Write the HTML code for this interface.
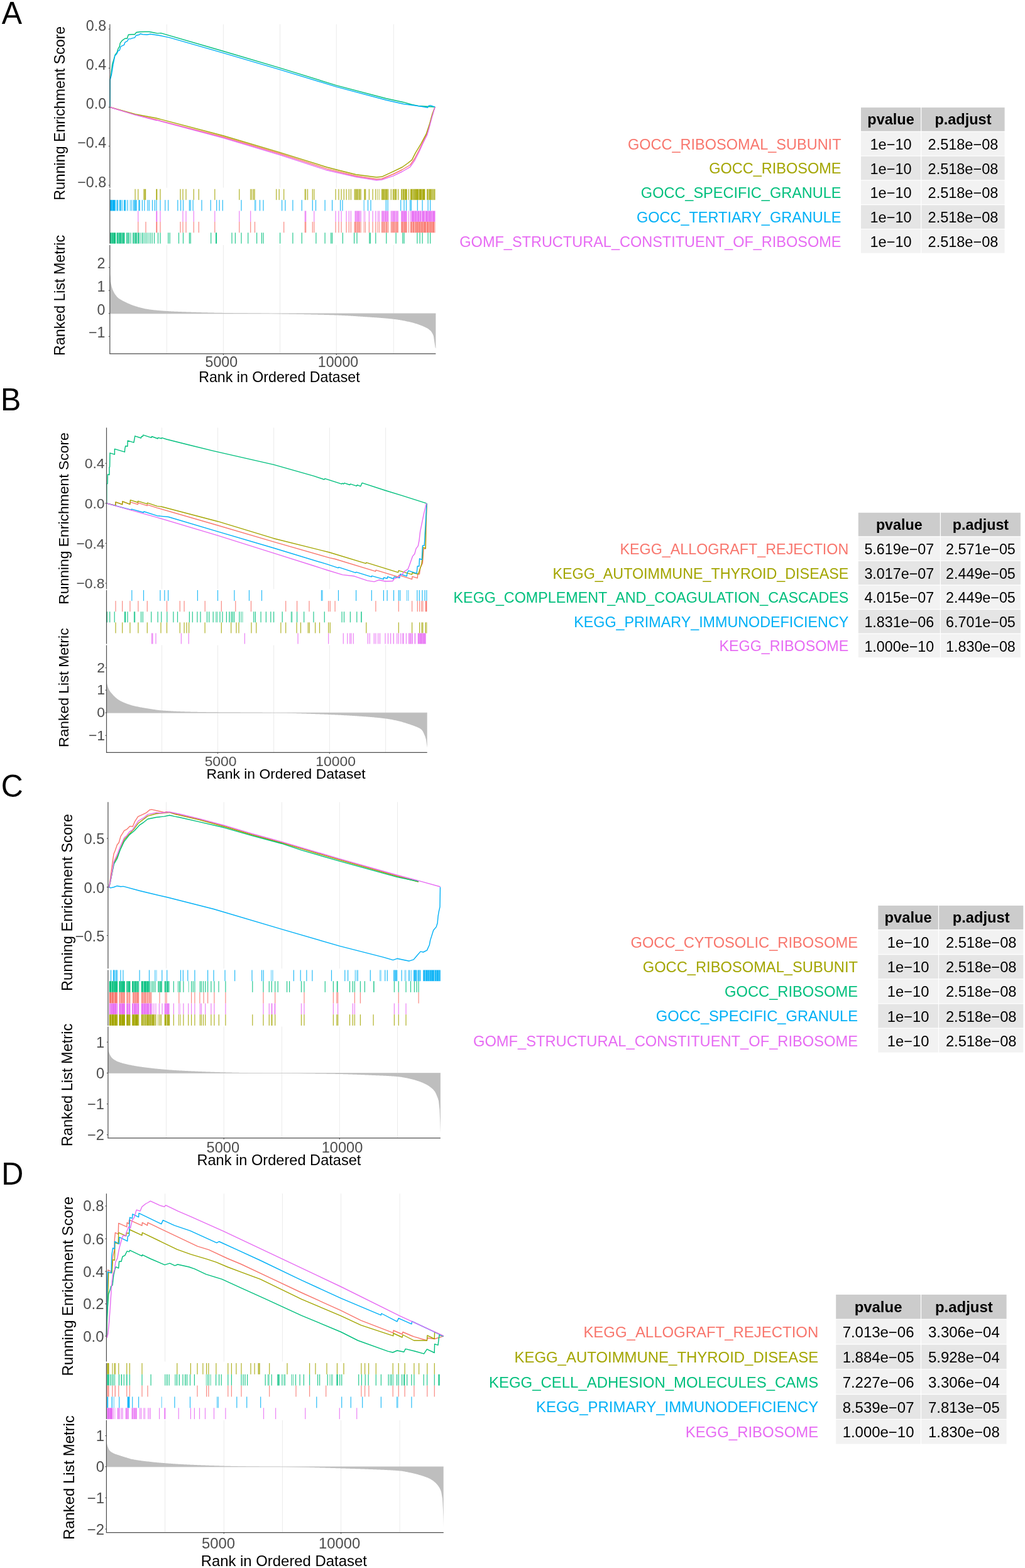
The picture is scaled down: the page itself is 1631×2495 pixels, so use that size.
<!DOCTYPE html>
<html><head><meta charset="utf-8"><title>GSEA plots</title>
<style>html,body{margin:0;padding:0;background:#fff;}svg{display:block;}text{font-family:'Liberation Sans', Arial, Helvetica, sans-serif;}</style></head><body>
<svg width="1631" height="2495" viewBox="0 0 1631 2495">
<rect x="0" y="0" width="1631" height="2495" fill="#fff"/>
<g>
<text x="0" y="0" font-size="48.5" fill="#000" text-anchor="start" transform="translate(2.8,37.5) scale(1,1.03)">A</text>
<line x1="265.4" y1="38.6" x2="265.4" y2="298.7" stroke="#EBEBEB" stroke-width="1"/>
<line x1="355.4" y1="38.6" x2="355.4" y2="298.7" stroke="#EBEBEB" stroke-width="1"/>
<line x1="445.6" y1="38.6" x2="445.6" y2="298.7" stroke="#EBEBEB" stroke-width="1"/>
<line x1="535.3" y1="38.6" x2="535.3" y2="298.7" stroke="#EBEBEB" stroke-width="1"/>
<line x1="626.3" y1="38.6" x2="626.3" y2="298.7" stroke="#EBEBEB" stroke-width="1"/>
<polyline points="174.8,170.5 215.2,182.5 248.7,190.5 355.5,218 445.6,244.5 520,268.6 566.5,280 599,285 607.5,284.5 625.8,277 640,270 652.7,262.5 660,252 666.8,239 673,226 679.6,213 686.6,187 692,170.5" fill="none" stroke="#F8766D" stroke-width="1.4" stroke-linejoin="round"/>
<polyline points="174.8,170.5 215.2,181.6 248.7,188 355.5,216 445.6,242.6 520,266 535.3,270 566.5,277.7 599,282 607.5,281.3 625.8,272.8 640,266 648.5,260 655.5,254.4 661.2,243.1 669.7,229 678.1,213.4 683.8,196.4 688,180.9 692,170.5" fill="none" stroke="#A3A500" stroke-width="1.4" stroke-linejoin="round"/>
<polyline points="174.8,170.5 175,127.1 176.7,119 178.7,102.2 180.8,95.5 183.1,87.4 186.1,83.4 188.1,77.3 190.2,74 191.2,68.6 194.2,64.6 198.9,61.2 202.3,61.2 204.3,55.2 209.7,54.8 214.4,54.8 217,51.5 222.4,50.8 230.5,50.5 237.2,50.5 243.9,51.8 250.6,53.1 256,52.6 355.5,81.5 445.6,108.1 535.2,135.9 614.6,156.8 642.2,162.7 655.5,166.5 665.6,168.5 692.3,170.3" fill="none" stroke="#00BF7D" stroke-width="1.4" stroke-linejoin="round"/>
<polyline points="174.8,170.5 175,127.7 177.4,119 180.1,102.2 182.8,88.8 185.5,86.1 188.1,80.7 190.2,80 192.2,74 194.9,72.6 197.6,71.3 198.9,67.3 202.9,65.2 204.3,61.9 207.6,61.9 210.3,60.9 214.4,59.9 216.4,56.5 221.7,55.2 223.1,53.8 227.1,54.8 233.8,55.2 239.2,54.2 254,56.5 270,59.9 355.5,84.3 445.6,110.8 535.2,138.1 614.6,159.3 642.2,165.5 655.5,167.2 670,169.2 680.6,171.2 682,168.5 684.8,167.7 692.3,170.3" fill="none" stroke="#00B0F6" stroke-width="1.4" stroke-linejoin="round"/>
<polyline points="174.8,170.5 215.2,182.8 248.7,191.6 250,191.4 355.5,219.5 445.6,246.5 520,270.8 566.5,281.5 599,286.7 607.5,286 625.8,279.9 640,273 652.7,265.7 660,255 666.8,241.7 673,228 679.6,214.8 683,203 686.6,189.4 692,170.5" fill="none" stroke="#E76BF3" stroke-width="1.4" stroke-linejoin="round"/>
<line x1="174.8" y1="38.6" x2="174.8" y2="298.7" stroke="#4D4D4D" stroke-width="1.2"/>
<line x1="172.8" y1="46.2" x2="174.8" y2="46.2" stroke="#4D4D4D" stroke-width="1.1"/>
<text x="169.1" y="49" font-size="23.2" fill="#4D4D4D" text-anchor="end">0.8</text>
<line x1="172.8" y1="108.4" x2="174.8" y2="108.4" stroke="#4D4D4D" stroke-width="1.1"/>
<text x="169.1" y="111.2" font-size="23.2" fill="#4D4D4D" text-anchor="end">0.4</text>
<line x1="172.8" y1="170.6" x2="174.8" y2="170.6" stroke="#4D4D4D" stroke-width="1.1"/>
<text x="169.1" y="173.4" font-size="23.2" fill="#4D4D4D" text-anchor="end">0.0</text>
<line x1="172.8" y1="232.6" x2="174.8" y2="232.6" stroke="#4D4D4D" stroke-width="1.1"/>
<text x="169.1" y="235.4" font-size="23.2" fill="#4D4D4D" text-anchor="end">−0.4</text>
<line x1="172.8" y1="294.8" x2="174.8" y2="294.8" stroke="#4D4D4D" stroke-width="1.1"/>
<text x="169.1" y="297.6" font-size="23.2" fill="#4D4D4D" text-anchor="end">−0.8</text>
<rect x="214.5" y="300.8" width="1.2" height="17.36" fill="#A3A500" fill-opacity="0.85"/>
<rect x="219.2" y="300.8" width="1.2" height="17.36" fill="#A3A500" fill-opacity="0.85"/>
<rect x="228.4" y="300.8" width="1.2" height="17.36" fill="#A3A500" fill-opacity="0.85"/>
<rect x="229.6" y="300.8" width="1.2" height="17.36" fill="#A3A500" fill-opacity="0.85"/>
<rect x="231" y="300.8" width="1.2" height="17.36" fill="#A3A500" fill-opacity="0.85"/>
<rect x="248.4" y="300.8" width="1.8" height="17.36" fill="#A3A500" fill-opacity="0.97"/>
<rect x="254.4" y="300.8" width="1.2" height="17.36" fill="#A3A500" fill-opacity="0.85"/>
<rect x="286.4" y="300.8" width="1.2" height="17.36" fill="#A3A500" fill-opacity="0.85"/>
<rect x="290.4" y="300.8" width="1.2" height="17.36" fill="#A3A500" fill-opacity="0.85"/>
<rect x="295.4" y="300.8" width="1.2" height="17.36" fill="#A3A500" fill-opacity="0.85"/>
<rect x="307.7" y="300.8" width="1.2" height="17.36" fill="#A3A500" fill-opacity="0.85"/>
<rect x="315.7" y="300.8" width="1.2" height="17.36" fill="#A3A500" fill-opacity="0.85"/>
<rect x="341.2" y="300.8" width="1.2" height="17.36" fill="#A3A500" fill-opacity="0.85"/>
<rect x="380.2" y="300.8" width="1.2" height="17.36" fill="#A3A500" fill-opacity="0.85"/>
<rect x="398.1" y="300.8" width="1.2" height="17.36" fill="#A3A500" fill-opacity="0.85"/>
<rect x="400.2" y="300.8" width="1.2" height="17.36" fill="#A3A500" fill-opacity="0.85"/>
<rect x="402.8" y="300.8" width="1.2" height="17.36" fill="#A3A500" fill-opacity="0.85"/>
<rect x="404.5" y="300.8" width="1.2" height="17.36" fill="#A3A500" fill-opacity="0.85"/>
<rect x="439.1" y="300.8" width="1.2" height="17.36" fill="#A3A500" fill-opacity="0.85"/>
<rect x="443.6" y="300.8" width="1.2" height="17.36" fill="#A3A500" fill-opacity="0.85"/>
<rect x="451.1" y="300.8" width="1.2" height="17.36" fill="#A3A500" fill-opacity="0.85"/>
<rect x="484.7" y="300.8" width="2.6" height="17.36" fill="#A3A500" fill-opacity="0.76"/>
<rect x="486.08" y="300.8" width="0.89" height="17.36" fill="#fff" fill-opacity="0.29"/>
<rect x="488.9" y="300.8" width="1.2" height="17.36" fill="#A3A500" fill-opacity="0.85"/>
<rect x="496.7" y="300.8" width="1.2" height="17.36" fill="#A3A500" fill-opacity="0.85"/>
<rect x="499.2" y="300.8" width="1.2" height="17.36" fill="#A3A500" fill-opacity="0.85"/>
<rect x="533.5" y="300.8" width="1.2" height="17.36" fill="#A3A500" fill-opacity="0.85"/>
<rect x="538.4" y="300.8" width="1.2" height="17.36" fill="#A3A500" fill-opacity="0.85"/>
<rect x="542.5" y="300.8" width="1.2" height="17.36" fill="#A3A500" fill-opacity="0.85"/>
<rect x="546.7" y="300.8" width="1.2" height="17.36" fill="#A3A500" fill-opacity="0.85"/>
<rect x="550.5" y="300.8" width="1.2" height="17.36" fill="#A3A500" fill-opacity="0.85"/>
<rect x="554.7" y="300.8" width="1.2" height="17.36" fill="#A3A500" fill-opacity="0.85"/>
<rect x="557.8" y="300.8" width="1.2" height="17.36" fill="#A3A500" fill-opacity="0.85"/>
<rect x="563.6" y="300.8" width="11.3" height="17.36" fill="#A3A500" fill-opacity="0.76"/>
<rect x="565.51" y="300.8" width="0.53" height="17.36" fill="#fff" fill-opacity="0.53"/>
<rect x="567.68" y="300.8" width="0.76" height="17.36" fill="#fff" fill-opacity="0.29"/>
<rect x="570.26" y="300.8" width="0.75" height="17.36" fill="#fff" fill-opacity="0.7"/>
<rect x="572.95" y="300.8" width="0.63" height="17.36" fill="#fff" fill-opacity="0.6"/>
<rect x="579.2" y="300.8" width="3.1" height="17.36" fill="#A3A500" fill-opacity="0.76"/>
<rect x="586.8" y="300.8" width="1.2" height="17.36" fill="#A3A500" fill-opacity="0.85"/>
<rect x="592.5" y="300.8" width="1.2" height="17.36" fill="#A3A500" fill-opacity="0.85"/>
<rect x="597.2" y="300.8" width="1.2" height="17.36" fill="#A3A500" fill-opacity="0.85"/>
<rect x="600.35" y="300.8" width="1.1" height="17.36" fill="#A3A500" fill-opacity="0.69"/>
<rect x="602.92" y="300.8" width="1.1" height="17.36" fill="#A3A500" fill-opacity="0.57"/>
<rect x="607" y="300.8" width="11.3" height="17.36" fill="#A3A500" fill-opacity="0.81"/>
<rect x="608.72" y="300.8" width="0.59" height="17.36" fill="#fff" fill-opacity="0.31"/>
<rect x="611.89" y="300.8" width="0.99" height="17.36" fill="#fff" fill-opacity="0.35"/>
<rect x="616.42" y="300.8" width="0.88" height="17.36" fill="#fff" fill-opacity="0.45"/>
<rect x="621.15" y="300.8" width="1.1" height="17.36" fill="#A3A500" fill-opacity="0.57"/>
<rect x="622.62" y="300.8" width="1.1" height="17.36" fill="#A3A500" fill-opacity="0.62"/>
<rect x="625" y="300.8" width="6.3" height="17.36" fill="#A3A500" fill-opacity="0.76"/>
<rect x="627.07" y="300.8" width="0.69" height="17.36" fill="#fff" fill-opacity="0.57"/>
<rect x="633.1" y="300.8" width="1.2" height="17.36" fill="#A3A500" fill-opacity="0.85"/>
<rect x="638.2" y="300.8" width="9.6" height="17.36" fill="#A3A500" fill-opacity="0.86"/>
<rect x="639.95" y="300.8" width="0.98" height="17.36" fill="#fff" fill-opacity="0.63"/>
<rect x="643.28" y="300.8" width="0.84" height="17.36" fill="#fff" fill-opacity="0.54"/>
<rect x="649.9" y="300.8" width="1.2" height="17.36" fill="#A3A500" fill-opacity="0.85"/>
<rect x="653" y="300.8" width="23.4" height="17.36" fill="#A3A500" fill-opacity="0.92"/>
<rect x="655.82" y="300.8" width="0.67" height="17.36" fill="#fff" fill-opacity="0.79"/>
<rect x="658.41" y="300.8" width="0.75" height="17.36" fill="#fff" fill-opacity="0.67"/>
<rect x="661.19" y="300.8" width="0.79" height="17.36" fill="#fff" fill-opacity="0.27"/>
<rect x="665.82" y="300.8" width="0.96" height="17.36" fill="#fff" fill-opacity="0.57"/>
<rect x="671.35" y="300.8" width="0.69" height="17.36" fill="#fff" fill-opacity="0.63"/>
<rect x="679" y="300.8" width="13.5" height="17.36" fill="#A3A500" fill-opacity="0.81"/>
<rect x="681.45" y="300.8" width="0.77" height="17.36" fill="#fff" fill-opacity="0.71"/>
<rect x="687.03" y="300.8" width="0.78" height="17.36" fill="#fff" fill-opacity="0.62"/>
<rect x="689.53" y="300.8" width="0.92" height="17.36" fill="#fff" fill-opacity="0.61"/>
<rect x="175.2" y="318.16" width="8.7" height="17.36" fill="#00B0F6" fill-opacity="1"/>
<rect x="178.25" y="318.16" width="0.67" height="17.36" fill="#fff" fill-opacity="0.46"/>
<rect x="182.77" y="318.16" width="0.51" height="17.36" fill="#fff" fill-opacity="0.5"/>
<rect x="185.3" y="318.16" width="2.9" height="17.36" fill="#00B0F6" fill-opacity="0.86"/>
<rect x="186.59" y="318.16" width="0.54" height="17.36" fill="#fff" fill-opacity="0.67"/>
<rect x="190" y="318.16" width="2.6" height="17.36" fill="#00B0F6" fill-opacity="0.86"/>
<rect x="193.7" y="318.16" width="1.2" height="17.36" fill="#00B0F6" fill-opacity="0.85"/>
<rect x="196.9" y="318.16" width="3.5" height="17.36" fill="#00B0F6" fill-opacity="0.86"/>
<rect x="198.88" y="318.16" width="1.02" height="17.36" fill="#fff" fill-opacity="0.29"/>
<rect x="202.4" y="318.16" width="1.2" height="17.36" fill="#00B0F6" fill-opacity="0.85"/>
<rect x="206.75" y="318.16" width="1.1" height="17.36" fill="#00B0F6" fill-opacity="0.74"/>
<rect x="209.21" y="318.16" width="1.1" height="17.36" fill="#00B0F6" fill-opacity="0.84"/>
<rect x="212" y="318.16" width="5.7" height="17.36" fill="#00B0F6" fill-opacity="0.76"/>
<rect x="213.7" y="318.16" width="0.75" height="17.36" fill="#fff" fill-opacity="0.45"/>
<rect x="220.3" y="318.16" width="2.6" height="17.36" fill="#00B0F6" fill-opacity="0.76"/>
<rect x="225.8" y="318.16" width="1.2" height="17.36" fill="#00B0F6" fill-opacity="0.85"/>
<rect x="229.3" y="318.16" width="1.2" height="17.36" fill="#00B0F6" fill-opacity="0.85"/>
<rect x="233.95" y="318.16" width="1.1" height="17.36" fill="#00B0F6" fill-opacity="0.6"/>
<rect x="235.56" y="318.16" width="1.1" height="17.36" fill="#00B0F6" fill-opacity="0.63"/>
<rect x="237.24" y="318.16" width="1.1" height="17.36" fill="#00B0F6" fill-opacity="0.72"/>
<rect x="241.9" y="318.16" width="1.2" height="17.36" fill="#00B0F6" fill-opacity="0.85"/>
<rect x="245.7" y="318.16" width="1.2" height="17.36" fill="#00B0F6" fill-opacity="0.85"/>
<rect x="248.4" y="318.16" width="1.2" height="17.36" fill="#00B0F6" fill-opacity="0.85"/>
<rect x="254.4" y="318.16" width="1.2" height="17.36" fill="#00B0F6" fill-opacity="0.85"/>
<rect x="262.2" y="318.16" width="1.2" height="17.36" fill="#00B0F6" fill-opacity="0.85"/>
<rect x="267.1" y="318.16" width="1.2" height="17.36" fill="#00B0F6" fill-opacity="0.85"/>
<rect x="282.2" y="318.16" width="1.2" height="17.36" fill="#00B0F6" fill-opacity="0.85"/>
<rect x="287" y="318.16" width="1.2" height="17.36" fill="#00B0F6" fill-opacity="0.85"/>
<rect x="290.9" y="318.16" width="1.2" height="17.36" fill="#00B0F6" fill-opacity="0.85"/>
<rect x="300.8" y="318.16" width="1.2" height="17.36" fill="#00B0F6" fill-opacity="0.85"/>
<rect x="302.7" y="318.16" width="1.2" height="17.36" fill="#00B0F6" fill-opacity="0.85"/>
<rect x="306.5" y="318.16" width="1.2" height="17.36" fill="#00B0F6" fill-opacity="0.85"/>
<rect x="320.4" y="318.16" width="1.2" height="17.36" fill="#00B0F6" fill-opacity="0.85"/>
<rect x="334.6" y="318.16" width="1.2" height="17.36" fill="#00B0F6" fill-opacity="0.85"/>
<rect x="344.1" y="318.16" width="1.2" height="17.36" fill="#00B0F6" fill-opacity="0.85"/>
<rect x="348.5" y="318.16" width="1.2" height="17.36" fill="#00B0F6" fill-opacity="0.85"/>
<rect x="353.7" y="318.16" width="1.2" height="17.36" fill="#00B0F6" fill-opacity="0.85"/>
<rect x="383.4" y="318.16" width="1.2" height="17.36" fill="#00B0F6" fill-opacity="0.85"/>
<rect x="404.95" y="318.16" width="1.1" height="17.36" fill="#00B0F6" fill-opacity="0.64"/>
<rect x="406.35" y="318.16" width="1.1" height="17.36" fill="#00B0F6" fill-opacity="0.7"/>
<rect x="412.9" y="318.16" width="1.2" height="17.36" fill="#00B0F6" fill-opacity="0.85"/>
<rect x="418.4" y="318.16" width="1.2" height="17.36" fill="#00B0F6" fill-opacity="0.85"/>
<rect x="448" y="318.16" width="1.2" height="17.36" fill="#00B0F6" fill-opacity="0.85"/>
<rect x="453.3" y="318.16" width="1.2" height="17.36" fill="#00B0F6" fill-opacity="0.85"/>
<rect x="465.3" y="318.16" width="1.2" height="17.36" fill="#00B0F6" fill-opacity="0.85"/>
<rect x="479.7" y="318.16" width="1.2" height="17.36" fill="#00B0F6" fill-opacity="0.85"/>
<rect x="496.7" y="318.16" width="1.2" height="17.36" fill="#00B0F6" fill-opacity="0.85"/>
<rect x="501.9" y="318.16" width="1.2" height="17.36" fill="#00B0F6" fill-opacity="0.85"/>
<rect x="516.5" y="318.16" width="1.2" height="17.36" fill="#00B0F6" fill-opacity="0.85"/>
<rect x="528" y="318.16" width="1.2" height="17.36" fill="#00B0F6" fill-opacity="0.85"/>
<rect x="541" y="318.16" width="1.2" height="17.36" fill="#00B0F6" fill-opacity="0.85"/>
<rect x="544.4" y="318.16" width="1.2" height="17.36" fill="#00B0F6" fill-opacity="0.85"/>
<rect x="578.65" y="318.16" width="1.1" height="17.36" fill="#00B0F6" fill-opacity="0.75"/>
<rect x="584.9" y="318.16" width="1.2" height="17.36" fill="#00B0F6" fill-opacity="0.85"/>
<rect x="589.4" y="318.16" width="1.2" height="17.36" fill="#00B0F6" fill-opacity="0.85"/>
<rect x="613.7" y="318.16" width="1.2" height="17.36" fill="#00B0F6" fill-opacity="0.85"/>
<rect x="616.5" y="318.16" width="1.2" height="17.36" fill="#00B0F6" fill-opacity="0.85"/>
<rect x="637.1" y="318.16" width="1.2" height="17.36" fill="#00B0F6" fill-opacity="0.85"/>
<rect x="642.4" y="318.16" width="1.2" height="17.36" fill="#00B0F6" fill-opacity="0.85"/>
<rect x="645.9" y="318.16" width="1.2" height="17.36" fill="#00B0F6" fill-opacity="0.85"/>
<rect x="652" y="318.16" width="1.2" height="17.36" fill="#00B0F6" fill-opacity="0.85"/>
<rect x="653.8" y="318.16" width="1.2" height="17.36" fill="#00B0F6" fill-opacity="0.85"/>
<rect x="663.7" y="318.16" width="1.2" height="17.36" fill="#00B0F6" fill-opacity="0.85"/>
<rect x="671.5" y="318.16" width="1.2" height="17.36" fill="#00B0F6" fill-opacity="0.85"/>
<rect x="680.5" y="318.16" width="1.2" height="17.36" fill="#00B0F6" fill-opacity="0.85"/>
<rect x="684" y="318.16" width="1.2" height="17.36" fill="#00B0F6" fill-opacity="0.85"/>
<rect x="219.2" y="335.52" width="1.2" height="17.36" fill="#E76BF3" fill-opacity="0.85"/>
<rect x="248.4" y="335.52" width="1.8" height="17.36" fill="#E76BF3" fill-opacity="0.97"/>
<rect x="254.4" y="335.52" width="1.2" height="17.36" fill="#E76BF3" fill-opacity="0.85"/>
<rect x="290.4" y="335.52" width="1.2" height="17.36" fill="#E76BF3" fill-opacity="0.85"/>
<rect x="295.4" y="335.52" width="1.2" height="17.36" fill="#E76BF3" fill-opacity="0.85"/>
<rect x="307.7" y="335.52" width="1.2" height="17.36" fill="#E76BF3" fill-opacity="0.85"/>
<rect x="341.2" y="335.52" width="1.2" height="17.36" fill="#E76BF3" fill-opacity="0.85"/>
<rect x="380.2" y="335.52" width="1.2" height="17.36" fill="#E76BF3" fill-opacity="0.85"/>
<rect x="398.1" y="335.52" width="1.2" height="17.36" fill="#E76BF3" fill-opacity="0.85"/>
<rect x="484.7" y="335.52" width="2.6" height="17.36" fill="#E76BF3" fill-opacity="0.76"/>
<rect x="499.2" y="335.52" width="1.2" height="17.36" fill="#E76BF3" fill-opacity="0.85"/>
<rect x="533.5" y="335.52" width="1.2" height="17.36" fill="#E76BF3" fill-opacity="0.85"/>
<rect x="538.4" y="335.52" width="1.2" height="17.36" fill="#E76BF3" fill-opacity="0.85"/>
<rect x="542.5" y="335.52" width="1.2" height="17.36" fill="#E76BF3" fill-opacity="0.85"/>
<rect x="550.5" y="335.52" width="1.2" height="17.36" fill="#E76BF3" fill-opacity="0.85"/>
<rect x="554.7" y="335.52" width="1.2" height="17.36" fill="#E76BF3" fill-opacity="0.85"/>
<rect x="557.8" y="335.52" width="1.2" height="17.36" fill="#E76BF3" fill-opacity="0.85"/>
<rect x="564.5" y="335.52" width="10.4" height="17.36" fill="#E76BF3" fill-opacity="0.76"/>
<rect x="567.04" y="335.52" width="0.91" height="17.36" fill="#fff" fill-opacity="0.28"/>
<rect x="572.6" y="335.52" width="0.97" height="17.36" fill="#fff" fill-opacity="0.73"/>
<rect x="578.65" y="335.52" width="1.1" height="17.36" fill="#E76BF3" fill-opacity="0.69"/>
<rect x="580.53" y="335.52" width="1.1" height="17.36" fill="#E76BF3" fill-opacity="0.59"/>
<rect x="586.8" y="335.52" width="1.2" height="17.36" fill="#E76BF3" fill-opacity="0.85"/>
<rect x="592.5" y="335.52" width="1.2" height="17.36" fill="#E76BF3" fill-opacity="0.85"/>
<rect x="597.2" y="335.52" width="1.2" height="17.36" fill="#E76BF3" fill-opacity="0.85"/>
<rect x="600.35" y="335.52" width="1.1" height="17.36" fill="#E76BF3" fill-opacity="0.57"/>
<rect x="601.83" y="335.52" width="1.1" height="17.36" fill="#E76BF3" fill-opacity="0.62"/>
<rect x="603.43" y="335.52" width="1.1" height="17.36" fill="#E76BF3" fill-opacity="0.67"/>
<rect x="607" y="335.52" width="11.3" height="17.36" fill="#E76BF3" fill-opacity="0.81"/>
<rect x="608" y="335.52" width="0.59" height="17.36" fill="#fff" fill-opacity="0.31"/>
<rect x="611.36" y="335.52" width="0.52" height="17.36" fill="#fff" fill-opacity="0.73"/>
<rect x="615.53" y="335.52" width="0.59" height="17.36" fill="#fff" fill-opacity="0.39"/>
<rect x="621.7" y="335.52" width="12.3" height="17.36" fill="#E76BF3" fill-opacity="0.76"/>
<rect x="623.61" y="335.52" width="0.57" height="17.36" fill="#fff" fill-opacity="0.72"/>
<rect x="629.16" y="335.52" width="0.78" height="17.36" fill="#fff" fill-opacity="0.52"/>
<rect x="631.74" y="335.52" width="0.56" height="17.36" fill="#fff" fill-opacity="0.44"/>
<rect x="638.2" y="335.52" width="9.6" height="17.36" fill="#E76BF3" fill-opacity="0.86"/>
<rect x="641.27" y="335.52" width="0.6" height="17.36" fill="#fff" fill-opacity="0.26"/>
<rect x="646.7" y="335.52" width="0.82" height="17.36" fill="#fff" fill-opacity="0.33"/>
<rect x="649.9" y="335.52" width="1.2" height="17.36" fill="#E76BF3" fill-opacity="0.85"/>
<rect x="653" y="335.52" width="39.5" height="17.36" fill="#E76BF3" fill-opacity="0.92"/>
<rect x="654.07" y="335.52" width="0.82" height="17.36" fill="#fff" fill-opacity="0.79"/>
<rect x="659.41" y="335.52" width="0.92" height="17.36" fill="#fff" fill-opacity="0.39"/>
<rect x="663.11" y="335.52" width="0.6" height="17.36" fill="#fff" fill-opacity="0.67"/>
<rect x="667.07" y="335.52" width="0.97" height="17.36" fill="#fff" fill-opacity="0.43"/>
<rect x="670.32" y="335.52" width="0.99" height="17.36" fill="#fff" fill-opacity="0.79"/>
<rect x="675.79" y="335.52" width="0.98" height="17.36" fill="#fff" fill-opacity="0.7"/>
<rect x="680.86" y="335.52" width="0.64" height="17.36" fill="#fff" fill-opacity="0.53"/>
<rect x="684.24" y="335.52" width="0.52" height="17.36" fill="#fff" fill-opacity="0.27"/>
<rect x="687.24" y="335.52" width="0.66" height="17.36" fill="#fff" fill-opacity="0.63"/>
<rect x="219.2" y="352.88" width="1.2" height="17.36" fill="#F8766D" fill-opacity="0.85"/>
<rect x="231.4" y="352.88" width="1.2" height="17.36" fill="#F8766D" fill-opacity="0.85"/>
<rect x="248.4" y="352.88" width="1.8" height="17.36" fill="#F8766D" fill-opacity="0.97"/>
<rect x="254.4" y="352.88" width="1.2" height="17.36" fill="#F8766D" fill-opacity="0.85"/>
<rect x="286.4" y="352.88" width="1.2" height="17.36" fill="#F8766D" fill-opacity="0.85"/>
<rect x="290.4" y="352.88" width="1.2" height="17.36" fill="#F8766D" fill-opacity="0.85"/>
<rect x="295.4" y="352.88" width="1.2" height="17.36" fill="#F8766D" fill-opacity="0.85"/>
<rect x="307.7" y="352.88" width="1.2" height="17.36" fill="#F8766D" fill-opacity="0.85"/>
<rect x="315.7" y="352.88" width="1.2" height="17.36" fill="#F8766D" fill-opacity="0.85"/>
<rect x="341.2" y="352.88" width="1.2" height="17.36" fill="#F8766D" fill-opacity="0.85"/>
<rect x="380.2" y="352.88" width="1.2" height="17.36" fill="#F8766D" fill-opacity="0.85"/>
<rect x="398.1" y="352.88" width="1.2" height="17.36" fill="#F8766D" fill-opacity="0.85"/>
<rect x="404.9" y="352.88" width="1.2" height="17.36" fill="#F8766D" fill-opacity="0.85"/>
<rect x="451.1" y="352.88" width="1.2" height="17.36" fill="#F8766D" fill-opacity="0.85"/>
<rect x="484.7" y="352.88" width="2.6" height="17.36" fill="#F8766D" fill-opacity="0.76"/>
<rect x="496.7" y="352.88" width="1.2" height="17.36" fill="#F8766D" fill-opacity="0.85"/>
<rect x="499.2" y="352.88" width="1.2" height="17.36" fill="#F8766D" fill-opacity="0.85"/>
<rect x="533.5" y="352.88" width="1.2" height="17.36" fill="#F8766D" fill-opacity="0.85"/>
<rect x="538.4" y="352.88" width="1.2" height="17.36" fill="#F8766D" fill-opacity="0.85"/>
<rect x="542.5" y="352.88" width="1.2" height="17.36" fill="#F8766D" fill-opacity="0.85"/>
<rect x="550.5" y="352.88" width="1.2" height="17.36" fill="#F8766D" fill-opacity="0.85"/>
<rect x="554.7" y="352.88" width="1.2" height="17.36" fill="#F8766D" fill-opacity="0.85"/>
<rect x="557.8" y="352.88" width="1.2" height="17.36" fill="#F8766D" fill-opacity="0.85"/>
<rect x="563.6" y="352.88" width="11.3" height="17.36" fill="#F8766D" fill-opacity="0.76"/>
<rect x="567.07" y="352.88" width="1.07" height="17.36" fill="#fff" fill-opacity="0.45"/>
<rect x="570.41" y="352.88" width="0.64" height="17.36" fill="#fff" fill-opacity="0.36"/>
<rect x="573.27" y="352.88" width="0.87" height="17.36" fill="#fff" fill-opacity="0.75"/>
<rect x="578.65" y="352.88" width="1.1" height="17.36" fill="#F8766D" fill-opacity="0.72"/>
<rect x="580.83" y="352.88" width="1.1" height="17.36" fill="#F8766D" fill-opacity="0.83"/>
<rect x="586.8" y="352.88" width="1.2" height="17.36" fill="#F8766D" fill-opacity="0.85"/>
<rect x="592.5" y="352.88" width="1.2" height="17.36" fill="#F8766D" fill-opacity="0.85"/>
<rect x="597.2" y="352.88" width="1.2" height="17.36" fill="#F8766D" fill-opacity="0.85"/>
<rect x="600.35" y="352.88" width="1.1" height="17.36" fill="#F8766D" fill-opacity="0.78"/>
<rect x="602.84" y="352.88" width="1.1" height="17.36" fill="#F8766D" fill-opacity="0.82"/>
<rect x="607" y="352.88" width="11.3" height="17.36" fill="#F8766D" fill-opacity="0.81"/>
<rect x="609.2" y="352.88" width="0.61" height="17.36" fill="#fff" fill-opacity="0.68"/>
<rect x="612.47" y="352.88" width="0.98" height="17.36" fill="#fff" fill-opacity="0.78"/>
<rect x="616.33" y="352.88" width="0.74" height="17.36" fill="#fff" fill-opacity="0.77"/>
<rect x="621.7" y="352.88" width="12.3" height="17.36" fill="#F8766D" fill-opacity="0.76"/>
<rect x="623.13" y="352.88" width="0.58" height="17.36" fill="#fff" fill-opacity="0.33"/>
<rect x="628.37" y="352.88" width="0.98" height="17.36" fill="#fff" fill-opacity="0.33"/>
<rect x="638.2" y="352.88" width="9.6" height="17.36" fill="#F8766D" fill-opacity="0.86"/>
<rect x="641.65" y="352.88" width="0.89" height="17.36" fill="#fff" fill-opacity="0.44"/>
<rect x="645.97" y="352.88" width="0.58" height="17.36" fill="#fff" fill-opacity="0.26"/>
<rect x="649.9" y="352.88" width="1.2" height="17.36" fill="#F8766D" fill-opacity="0.85"/>
<rect x="653" y="352.88" width="39.5" height="17.36" fill="#F8766D" fill-opacity="0.92"/>
<rect x="655.62" y="352.88" width="0.82" height="17.36" fill="#fff" fill-opacity="0.76"/>
<rect x="659.46" y="352.88" width="1.02" height="17.36" fill="#fff" fill-opacity="0.7"/>
<rect x="662.72" y="352.88" width="0.65" height="17.36" fill="#fff" fill-opacity="0.41"/>
<rect x="665.71" y="352.88" width="0.85" height="17.36" fill="#fff" fill-opacity="0.39"/>
<rect x="669.53" y="352.88" width="0.58" height="17.36" fill="#fff" fill-opacity="0.75"/>
<rect x="672.85" y="352.88" width="0.77" height="17.36" fill="#fff" fill-opacity="0.57"/>
<rect x="678.29" y="352.88" width="0.75" height="17.36" fill="#fff" fill-opacity="0.75"/>
<rect x="682.3" y="352.88" width="0.82" height="17.36" fill="#fff" fill-opacity="0.54"/>
<rect x="684.68" y="352.88" width="0.76" height="17.36" fill="#fff" fill-opacity="0.35"/>
<rect x="686.96" y="352.88" width="0.98" height="17.36" fill="#fff" fill-opacity="0.34"/>
<rect x="691.1" y="352.88" width="0.94" height="17.36" fill="#fff" fill-opacity="0.56"/>
<rect x="175.2" y="370.24" width="8.8" height="17.36" fill="#00BF7D" fill-opacity="1"/>
<rect x="177.5" y="370.24" width="0.83" height="17.36" fill="#fff" fill-opacity="0.68"/>
<rect x="180.2" y="370.24" width="0.84" height="17.36" fill="#fff" fill-opacity="0.39"/>
<rect x="185.5" y="370.24" width="13" height="17.36" fill="#00BF7D" fill-opacity="0.86"/>
<rect x="188.43" y="370.24" width="0.8" height="17.36" fill="#fff" fill-opacity="0.56"/>
<rect x="193.4" y="370.24" width="1.05" height="17.36" fill="#fff" fill-opacity="0.49"/>
<rect x="201" y="370.24" width="5" height="17.36" fill="#00BF7D" fill-opacity="0.76"/>
<rect x="203.26" y="370.24" width="0.81" height="17.36" fill="#fff" fill-opacity="0.63"/>
<rect x="207.4" y="370.24" width="1.2" height="17.36" fill="#00BF7D" fill-opacity="0.85"/>
<rect x="211" y="370.24" width="11" height="17.36" fill="#00BF7D" fill-opacity="0.76"/>
<rect x="213.33" y="370.24" width="0.79" height="17.36" fill="#fff" fill-opacity="0.77"/>
<rect x="218.07" y="370.24" width="1.03" height="17.36" fill="#fff" fill-opacity="0.77"/>
<rect x="223.45" y="370.24" width="1.1" height="17.36" fill="#00BF7D" fill-opacity="0.75"/>
<rect x="225.98" y="370.24" width="1.1" height="17.36" fill="#00BF7D" fill-opacity="0.84"/>
<rect x="227.55" y="370.24" width="1.1" height="17.36" fill="#00BF7D" fill-opacity="0.59"/>
<rect x="229.48" y="370.24" width="1.1" height="17.36" fill="#00BF7D" fill-opacity="0.58"/>
<rect x="231.17" y="370.24" width="1.1" height="17.36" fill="#00BF7D" fill-opacity="0.58"/>
<rect x="233.37" y="370.24" width="1.1" height="17.36" fill="#00BF7D" fill-opacity="0.82"/>
<rect x="235.85" y="370.24" width="1.1" height="17.36" fill="#00BF7D" fill-opacity="0.6"/>
<rect x="238.4" y="370.24" width="1.2" height="17.36" fill="#00BF7D" fill-opacity="0.85"/>
<rect x="241.4" y="370.24" width="1.2" height="17.36" fill="#00BF7D" fill-opacity="0.85"/>
<rect x="244.9" y="370.24" width="1.2" height="17.36" fill="#00BF7D" fill-opacity="0.85"/>
<rect x="250.9" y="370.24" width="1.2" height="17.36" fill="#00BF7D" fill-opacity="0.85"/>
<rect x="254.4" y="370.24" width="1.2" height="17.36" fill="#00BF7D" fill-opacity="0.85"/>
<rect x="267.1" y="370.24" width="1.2" height="17.36" fill="#00BF7D" fill-opacity="0.85"/>
<rect x="269.6" y="370.24" width="1.2" height="17.36" fill="#00BF7D" fill-opacity="0.85"/>
<rect x="283.9" y="370.24" width="1.2" height="17.36" fill="#00BF7D" fill-opacity="0.85"/>
<rect x="290.9" y="370.24" width="1.2" height="17.36" fill="#00BF7D" fill-opacity="0.85"/>
<rect x="300.8" y="370.24" width="1.2" height="17.36" fill="#00BF7D" fill-opacity="0.85"/>
<rect x="302.7" y="370.24" width="1.2" height="17.36" fill="#00BF7D" fill-opacity="0.85"/>
<rect x="335.1" y="370.24" width="1.2" height="17.36" fill="#00BF7D" fill-opacity="0.85"/>
<rect x="343" y="370.24" width="1.2" height="17.36" fill="#00BF7D" fill-opacity="0.85"/>
<rect x="343.9" y="370.24" width="1.2" height="17.36" fill="#00BF7D" fill-opacity="0.85"/>
<rect x="368.4" y="370.24" width="1.2" height="17.36" fill="#00BF7D" fill-opacity="0.85"/>
<rect x="373.8" y="370.24" width="1.2" height="17.36" fill="#00BF7D" fill-opacity="0.85"/>
<rect x="383.4" y="370.24" width="1.2" height="17.36" fill="#00BF7D" fill-opacity="0.85"/>
<rect x="394.1" y="370.24" width="1.2" height="17.36" fill="#00BF7D" fill-opacity="0.85"/>
<rect x="408" y="370.24" width="1.2" height="17.36" fill="#00BF7D" fill-opacity="0.85"/>
<rect x="415.8" y="370.24" width="1.2" height="17.36" fill="#00BF7D" fill-opacity="0.85"/>
<rect x="418.4" y="370.24" width="1.2" height="17.36" fill="#00BF7D" fill-opacity="0.85"/>
<rect x="445" y="370.24" width="1.2" height="17.36" fill="#00BF7D" fill-opacity="0.85"/>
<rect x="465.3" y="370.24" width="1.2" height="17.36" fill="#00BF7D" fill-opacity="0.85"/>
<rect x="479.7" y="370.24" width="1.2" height="17.36" fill="#00BF7D" fill-opacity="0.85"/>
<rect x="502.3" y="370.24" width="1.2" height="17.36" fill="#00BF7D" fill-opacity="0.85"/>
<rect x="516.5" y="370.24" width="1.2" height="17.36" fill="#00BF7D" fill-opacity="0.85"/>
<rect x="526" y="370.24" width="1.2" height="17.36" fill="#00BF7D" fill-opacity="0.85"/>
<rect x="528" y="370.24" width="1.2" height="17.36" fill="#00BF7D" fill-opacity="0.85"/>
<rect x="544.8" y="370.24" width="1.2" height="17.36" fill="#00BF7D" fill-opacity="0.85"/>
<rect x="563" y="370.24" width="1.2" height="17.36" fill="#00BF7D" fill-opacity="0.85"/>
<rect x="567.4" y="370.24" width="1.2" height="17.36" fill="#00BF7D" fill-opacity="0.85"/>
<rect x="587.3" y="370.24" width="1.2" height="17.36" fill="#00BF7D" fill-opacity="0.85"/>
<rect x="588.7" y="370.24" width="1.2" height="17.36" fill="#00BF7D" fill-opacity="0.85"/>
<rect x="597.2" y="370.24" width="1.2" height="17.36" fill="#00BF7D" fill-opacity="0.85"/>
<rect x="614.2" y="370.24" width="1.2" height="17.36" fill="#00BF7D" fill-opacity="0.85"/>
<rect x="629.5" y="370.24" width="1.2" height="17.36" fill="#00BF7D" fill-opacity="0.85"/>
<rect x="640.2" y="370.24" width="1.2" height="17.36" fill="#00BF7D" fill-opacity="0.85"/>
<rect x="642.4" y="370.24" width="1.2" height="17.36" fill="#00BF7D" fill-opacity="0.85"/>
<rect x="663.3" y="370.24" width="1.2" height="17.36" fill="#00BF7D" fill-opacity="0.85"/>
<rect x="667.5" y="370.24" width="1.2" height="17.36" fill="#00BF7D" fill-opacity="0.85"/>
<rect x="671.5" y="370.24" width="1.2" height="17.36" fill="#00BF7D" fill-opacity="0.85"/>
<rect x="680.5" y="370.24" width="1.2" height="17.36" fill="#00BF7D" fill-opacity="0.85"/>
<rect x="684" y="370.24" width="1.2" height="17.36" fill="#00BF7D" fill-opacity="0.85"/>
<line x1="174.8" y1="300.8" x2="174.8" y2="387.6" stroke="#4D4D4D" stroke-width="1.2"/>
<line x1="265.4" y1="389.9" x2="265.4" y2="562.9" stroke="#EBEBEB" stroke-width="1"/>
<line x1="355.4" y1="389.9" x2="355.4" y2="562.9" stroke="#EBEBEB" stroke-width="1"/>
<line x1="445.6" y1="389.9" x2="445.6" y2="562.9" stroke="#EBEBEB" stroke-width="1"/>
<line x1="535.3" y1="389.9" x2="535.3" y2="562.9" stroke="#EBEBEB" stroke-width="1"/>
<line x1="626.3" y1="389.9" x2="626.3" y2="562.9" stroke="#EBEBEB" stroke-width="1"/>
<polygon points="174.8,498.9 174.8,434.2 175.6,441 175.9,447.7 177.8,456.5 179.1,460.38 180.4,463.5 181.7,466 182.86,467.9 184.02,469.6 185.18,471.1 186.34,472.4 187.5,473.5 188.57,474.38 189.63,475.19 190.7,475.93 191.77,476.61 192.83,477.24 193.9,477.84 194.97,478.4 196.03,478.96 197.1,479.5 198.12,480.01 199.13,480.52 200.15,481.01 201.16,481.5 202.18,481.98 203.19,482.45 204.21,482.9 205.23,483.35 206.24,483.79 207.26,484.21 208.27,484.63 209.29,485.03 210.31,485.42 211.32,485.8 212.34,486.16 213.35,486.52 214.37,486.86 215.38,487.19 216.4,487.5 217.42,487.81 218.43,488.11 219.45,488.4 220.46,488.7 221.48,488.98 222.49,489.26 223.51,489.54 224.53,489.8 225.54,490.06 226.56,490.31 227.57,490.55 228.59,490.78 229.61,491.01 230.62,491.22 231.64,491.42 232.65,491.61 233.67,491.78 234.68,491.95 235.7,492.1 236.73,492.24 237.76,492.39 238.78,492.52 239.81,492.66 240.84,492.79 241.87,492.91 242.89,493.04 243.92,493.16 244.95,493.28 245.98,493.39 247,493.5 248.03,493.61 249.06,493.71 250.09,493.81 251.11,493.91 252.14,494.01 253.17,494.1 254.2,494.19 255.22,494.28 256.25,494.36 257.28,494.44 258.31,494.52 259.33,494.6 260.36,494.67 261.39,494.74 262.42,494.81 263.44,494.87 264.47,494.94 265.5,495 266.51,495.06 267.51,495.12 268.52,495.17 269.53,495.23 270.53,495.28 271.54,495.33 272.54,495.39 273.55,495.44 274.56,495.49 275.56,495.54 276.57,495.59 277.58,495.63 278.58,495.68 279.59,495.73 280.6,495.77 281.6,495.81 282.61,495.86 283.61,495.9 284.62,495.94 285.63,495.98 286.63,496.02 287.64,496.06 288.65,496.1 289.65,496.14 290.66,496.18 291.67,496.22 292.67,496.25 293.68,496.29 294.69,496.32 295.69,496.36 296.7,496.39 297.7,496.43 298.71,496.46 299.72,496.5 300.72,496.53 301.73,496.56 302.74,496.59 303.74,496.62 304.75,496.66 305.76,496.69 306.76,496.72 307.77,496.75 308.77,496.78 309.78,496.81 310.79,496.84 311.79,496.87 312.8,496.9 313.81,496.93 314.82,496.96 315.83,496.99 316.84,497.02 317.85,497.05 318.86,497.07 319.87,497.1 320.88,497.13 321.89,497.16 322.9,497.19 323.9,497.21 324.91,497.24 325.92,497.27 326.93,497.29 327.94,497.32 328.95,497.34 329.96,497.37 330.97,497.4 331.98,497.42 332.99,497.44 334,497.47 335.01,497.49 336.02,497.52 337.03,497.54 338.04,497.56 339.05,497.59 340.06,497.61 341.07,497.63 342.08,497.65 343.09,497.67 344.1,497.69 345.1,497.71 346.11,497.73 347.12,497.75 348.13,497.77 349.14,497.79 350.15,497.81 351.16,497.83 352.17,497.85 353.18,497.87 354.19,497.88 355.2,497.9 356.21,497.92 357.22,497.93 358.24,497.95 359.25,497.96 360.26,497.98 361.27,497.99 362.29,498.01 363.3,498.02 364.31,498.04 365.32,498.05 366.34,498.06 367.35,498.08 368.36,498.09 369.38,498.1 370.39,498.11 371.4,498.13 372.41,498.14 373.43,498.15 374.44,498.16 375.45,498.17 376.46,498.18 377.48,498.2 378.49,498.21 379.5,498.22 380.51,498.23 381.52,498.24 382.54,498.25 383.55,498.26 384.56,498.27 385.57,498.28 386.59,498.29 387.6,498.3 388.61,498.31 389.62,498.32 390.64,498.33 391.65,498.34 392.66,498.36 393.68,498.37 394.69,498.38 395.7,498.39 396.71,498.4 397.73,498.41 398.74,498.42 399.75,498.43 400.76,498.44 401.77,498.45 402.79,498.47 403.8,498.48 404.81,498.49 405.82,498.5 406.84,498.51 407.85,498.53 408.86,498.54 409.88,498.55 410.89,498.57 411.9,498.58 412.91,498.59 413.93,498.61 414.94,498.62 415.95,498.64 416.96,498.65 417.98,498.67 418.99,498.68 420,498.7 421,498.72 422,498.74 423,498.75 424,498.77 425,498.8 426,498.82 427,498.84 428,498.86 429,498.88 430,498.9 445,499.3 446,499.32 447,499.35 448.01,499.37 449.01,499.4 450.01,499.42 451.01,499.44 452.02,499.47 453.02,499.49 454.02,499.51 455.02,499.53 456.02,499.56 457.03,499.58 458.03,499.6 459.03,499.62 460.03,499.64 461.04,499.66 462.04,499.69 463.04,499.71 464.04,499.73 465.04,499.75 466.05,499.77 467.05,499.79 468.05,499.81 469.05,499.83 470.06,499.85 471.06,499.87 472.06,499.9 473.06,499.92 474.06,499.94 475.07,499.96 476.07,499.98 477.07,500 478.07,500.02 479.08,500.04 480.08,500.06 481.08,500.08 482.08,500.1 483.08,500.12 484.09,500.14 485.09,500.16 486.09,500.19 487.09,500.21 488.1,500.23 489.1,500.25 490.1,500.27 491.1,500.29 492.1,500.31 493.11,500.34 494.11,500.36 495.11,500.38 496.11,500.4 497.12,500.43 498.12,500.45 499.12,500.47 500.12,500.49 501.12,500.52 502.13,500.54 503.13,500.57 504.13,500.59 505.13,500.61 506.14,500.64 507.14,500.66 508.14,500.69 509.14,500.71 510.14,500.74 511.15,500.77 512.15,500.79 513.15,500.82 514.15,500.85 515.16,500.87 516.16,500.9 517.16,500.93 518.16,500.96 519.16,500.98 520.17,501.01 521.17,501.04 522.17,501.07 523.17,501.1 524.18,501.13 525.18,501.17 526.18,501.2 527.18,501.23 528.18,501.26 529.19,501.29 530.19,501.33 531.19,501.36 532.19,501.39 533.2,501.43 534.2,501.46 535.2,501.5 536.22,501.54 537.23,501.58 538.25,501.62 539.27,501.66 540.29,501.7 541.3,501.74 542.32,501.79 543.34,501.84 544.36,501.88 545.37,501.93 546.39,501.98 547.41,502.04 548.43,502.09 549.44,502.14 550.46,502.2 551.48,502.25 552.5,502.31 553.51,502.37 554.53,502.42 555.55,502.48 556.57,502.54 557.58,502.6 558.6,502.66 559.62,502.73 560.63,502.79 561.65,502.85 562.67,502.92 563.69,502.98 564.7,503.05 565.72,503.11 566.74,503.18 567.76,503.24 568.77,503.31 569.79,503.38 570.81,503.45 571.83,503.51 572.84,503.58 573.86,503.65 574.88,503.72 575.9,503.79 576.91,503.86 577.93,503.92 578.95,503.99 579.97,504.06 580.98,504.13 582,504.2 583.01,504.27 584.02,504.34 585.03,504.4 586.04,504.47 587.05,504.54 588.05,504.61 589.06,504.67 590.07,504.74 591.08,504.81 592.09,504.88 593.1,504.94 594.11,505.01 595.12,505.08 596.13,505.15 597.14,505.22 598.15,505.29 599.15,505.36 600.16,505.44 601.17,505.51 602.18,505.58 603.19,505.66 604.2,505.73 605.21,505.81 606.22,505.89 607.23,505.97 608.24,506.05 609.25,506.13 610.25,506.21 611.26,506.3 612.27,506.39 613.28,506.47 614.29,506.56 615.3,506.66 616.31,506.75 617.32,506.85 618.33,506.94 619.34,507.04 620.35,507.14 621.35,507.25 622.36,507.35 623.37,507.46 624.38,507.57 625.39,507.68 626.4,507.8 627.42,507.92 628.44,508.05 629.46,508.18 630.47,508.32 631.49,508.46 632.51,508.61 633.53,508.76 634.55,508.92 635.57,509.08 636.59,509.25 637.6,509.43 638.62,509.61 639.64,509.79 640.66,509.98 641.68,510.17 642.7,510.37 643.71,510.57 644.73,510.77 645.75,510.98 646.77,511.2 647.79,511.41 648.81,511.64 649.83,511.86 650.84,512.09 651.86,512.32 652.88,512.56 653.9,512.8 654.9,513.04 655.9,513.29 656.9,513.55 657.9,513.82 658.9,514.09 659.9,514.38 660.9,514.67 661.9,514.98 662.9,515.29 663.9,515.62 664.9,515.95 665.9,516.3 666.9,516.65 667.9,517.02 668.9,517.4 669.9,517.79 670.9,518.19 671.9,518.6 672.95,519.04 674,519.48 675.05,519.93 676.1,520.4 677.15,520.89 678.2,521.43 679.25,522 680.3,522.62 681.35,523.31 682.4,524.06 683.45,524.89 684.5,525.8 685.58,526.87 686.66,528.19 687.74,529.88 688.82,532.05 689.9,534.8 691.25,543.72 692.6,552.8 693.4,554.6 693.4,498.9" fill="#BEBEBE" stroke="none"/>
<line x1="174.8" y1="498.9" x2="693.4" y2="498.9" stroke="#C4C4C4" stroke-width="0.9"/>
<line x1="174.8" y1="389.9" x2="174.8" y2="562.9" stroke="#4D4D4D" stroke-width="1.2"/>
<line x1="174.2" y1="562.9" x2="693.4" y2="562.9" stroke="#4D4D4D" stroke-width="1.2"/>
<line x1="172.8" y1="425.6" x2="174.8" y2="425.6" stroke="#4D4D4D" stroke-width="1.1"/>
<text x="167.5" y="427.3" font-size="23.2" fill="#4D4D4D" text-anchor="end">2</text>
<line x1="172.8" y1="462.2" x2="174.8" y2="462.2" stroke="#4D4D4D" stroke-width="1.1"/>
<text x="167.5" y="463.9" font-size="23.2" fill="#4D4D4D" text-anchor="end">1</text>
<line x1="172.8" y1="498.8" x2="174.8" y2="498.8" stroke="#4D4D4D" stroke-width="1.1"/>
<text x="167.5" y="500.5" font-size="23.2" fill="#4D4D4D" text-anchor="end">0</text>
<line x1="172.8" y1="535.4" x2="174.8" y2="535.4" stroke="#4D4D4D" stroke-width="1.1"/>
<text x="167.5" y="537.1" font-size="23.2" fill="#4D4D4D" text-anchor="end">−1</text>
<line x1="355.4" y1="562.9" x2="355.4" y2="564.9" stroke="#4D4D4D" stroke-width="1.1"/>
<text x="352.3" y="584.3" font-size="23.2" fill="#4D4D4D" text-anchor="middle">5000</text>
<line x1="535.3" y1="562.9" x2="535.3" y2="564.9" stroke="#4D4D4D" stroke-width="1.1"/>
<text x="538" y="584.3" font-size="23.2" fill="#4D4D4D" text-anchor="middle">10000</text>
<text x="316.2" y="607.7" font-size="23.2" fill="#000" text-anchor="start">Rank in Ordered Dataset</text>
<text x="0" y="0" font-size="23.2" fill="#000" text-anchor="middle" transform="translate(102.8,180.3) rotate(-90)">Running Enrichment Score</text>
<text x="0" y="0" font-size="23.2" fill="#000" text-anchor="middle" transform="translate(102.7,469.9) rotate(-90)">Ranked List Metric</text>
</g>
<g>
<text x="0" y="0" font-size="48.5" fill="#000" text-anchor="start" transform="translate(1.12,653.3) scale(1,1.03)">B</text>
<line x1="257.5" y1="680.5" x2="257.5" y2="937.4" stroke="#EBEBEB" stroke-width="1"/>
<line x1="346.5" y1="680.5" x2="346.5" y2="937.4" stroke="#EBEBEB" stroke-width="1"/>
<line x1="435.6" y1="680.5" x2="435.6" y2="937.4" stroke="#EBEBEB" stroke-width="1"/>
<line x1="524.4" y1="680.5" x2="524.4" y2="937.4" stroke="#EBEBEB" stroke-width="1"/>
<line x1="613.6" y1="680.5" x2="613.6" y2="937.4" stroke="#EBEBEB" stroke-width="1"/>
<polyline points="169.5,800.9 184,804.4 184,798.9 194.6,802.7 194.9,797.9 206.8,802.4 207.4,798.9 219.3,802.7 219.9,800.2 234.1,804.7 234.4,803.1 250,808.1 346.6,836 435.4,862.1 524.4,887.6 533.1,889.5 597.6,909.2 598.1,907.2 633.6,917.9 634.7,915.2 655.5,921.7 656,917.4 664.2,919.9 664.8,913.5 667.5,913.5 668.6,903.7 672.4,896.1 674,873.1 677.3,873.1 677.8,840 679,800.9" fill="none" stroke="#F8766D" stroke-width="1.4" stroke-linejoin="round"/>
<polyline points="169.5,800.9 184,804.4 184,798.9 194.6,802.7 194.9,797.9 206.8,802.4 207.4,795.7 219.3,799.5 219.6,797.3 234.1,801.8 234.4,800.2 250,805.4 257.2,806.3 346.6,829.7 435.4,856.7 524.4,879 582.3,896.6 582.8,895.2 633.6,910.8 634.2,907.9 655.5,914.1 656,911.3 665.3,913.5 667.5,908.1 670.8,897.7 672.4,887.3 673,870.9 677.3,872.6 677.6,840 678.8,810 679,800.9" fill="none" stroke="#A3A500" stroke-width="1.4" stroke-linejoin="round"/>
<polyline points="169.7,800.9 169.8,770.6 171.1,769.3 171.4,754.9 174,755.5 174,743.6 174.6,743 175,720.8 182.4,723.1 182.4,714.4 198.4,719.2 198.7,714.4 199.7,709.6 202.9,710.2 203.2,701.2 212.9,704.1 214.8,693.8 224.4,697 225.1,694.5 227.3,694.5 227.7,692.2 240.8,696.4 241.5,694.5 251.1,698 251.4,696.4 256.9,697.7 257.5,696.6 265,699 300.8,708 340,717.6 435.6,739.4 500,757.6 515.8,763 517.1,761.6 543.7,770.2 544.6,769 546.8,770.2 547.7,768.6 556.7,771.5 557.6,770.2 567.5,773.3 568.4,771.7 573.8,773.8 576.1,768.4 613.4,780.5 640,788.6 678.5,800.9" fill="none" stroke="#00BF7D" stroke-width="1.4" stroke-linejoin="round"/>
<polyline points="169.5,800.9 209.4,811.5 209.4,810.1 228.5,815.5 229,814 250,820.7 268,822.5 346.6,845.9 435.4,872 520,897.7 538,903.7 539.1,902.6 565.9,911.3 567,910.3 591,917.9 591.6,916.3 610.1,921.7 610.7,919 616.1,920.6 616.7,917.7 626,921 627.1,917.9 635.8,919.5 636.9,913.5 647.3,916.8 647.8,912.2 650,908.1 663.1,912.4 664.2,901 666.9,901 667.5,889 671.3,890.6 672.4,868.2 675.1,868.2 675.7,860 676.7,841.2 679,800.9" fill="none" stroke="#00B0F6" stroke-width="1.4" stroke-linejoin="round"/>
<polyline points="169.5,800.9 250,823.4 346.6,852.2 435.4,880.1 498.3,900 520,907 545.1,914.6 563.7,916.8 584.5,923.9 595.4,925.6 603,922.8 612.9,925 624.9,924.5 627.1,921.2 634.7,917.9 640.2,913.5 643.5,909.2 648.9,905.9 651.1,900.4 656.6,885.1 659.8,881.3 662,873.1 665.3,868.7 667,860 668.6,845.8 674.3,818.1 678.5,800.9" fill="none" stroke="#E76BF3" stroke-width="1.4" stroke-linejoin="round"/>
<line x1="169.5" y1="680.5" x2="169.5" y2="937.4" stroke="#4D4D4D" stroke-width="1.2"/>
<line x1="167.5" y1="737.3" x2="169.5" y2="737.3" stroke="#4D4D4D" stroke-width="1.1"/>
<text x="166.6" y="745.4" font-size="22.9" fill="#4D4D4D" text-anchor="end">0.4</text>
<line x1="167.5" y1="800.9" x2="169.5" y2="800.9" stroke="#4D4D4D" stroke-width="1.1"/>
<text x="166.6" y="809" font-size="22.9" fill="#4D4D4D" text-anchor="end">0.0</text>
<line x1="167.5" y1="864.5" x2="169.5" y2="864.5" stroke="#4D4D4D" stroke-width="1.1"/>
<text x="166.6" y="872.6" font-size="22.9" fill="#4D4D4D" text-anchor="end">−0.4</text>
<line x1="167.5" y1="928.1" x2="169.5" y2="928.1" stroke="#4D4D4D" stroke-width="1.1"/>
<text x="166.6" y="936.2" font-size="22.9" fill="#4D4D4D" text-anchor="end">−0.8</text>
<rect x="209.2" y="939" width="1.2" height="17.12" fill="#00B0F6" fill-opacity="0.85"/>
<rect x="227.9" y="939" width="1.2" height="17.12" fill="#00B0F6" fill-opacity="0.85"/>
<rect x="254.3" y="939" width="1.2" height="17.12" fill="#00B0F6" fill-opacity="0.85"/>
<rect x="261.3" y="939" width="1.2" height="17.12" fill="#00B0F6" fill-opacity="0.85"/>
<rect x="267" y="939" width="1.2" height="17.12" fill="#00B0F6" fill-opacity="0.85"/>
<rect x="313.8" y="939" width="1.2" height="17.12" fill="#00B0F6" fill-opacity="0.85"/>
<rect x="345.9" y="939" width="1.2" height="17.12" fill="#00B0F6" fill-opacity="0.85"/>
<rect x="372.3" y="939" width="1.2" height="17.12" fill="#00B0F6" fill-opacity="0.85"/>
<rect x="395.9" y="939" width="1.2" height="17.12" fill="#00B0F6" fill-opacity="0.85"/>
<rect x="415.9" y="939" width="1.2" height="17.12" fill="#00B0F6" fill-opacity="0.85"/>
<rect x="510.85" y="939" width="1.1" height="17.12" fill="#00B0F6" fill-opacity="0.78"/>
<rect x="512.42" y="939" width="1.1" height="17.12" fill="#00B0F6" fill-opacity="0.86"/>
<rect x="537.9" y="939" width="1.2" height="17.12" fill="#00B0F6" fill-opacity="0.85"/>
<rect x="566" y="939" width="1.2" height="17.12" fill="#00B0F6" fill-opacity="0.85"/>
<rect x="590.7" y="939" width="1.2" height="17.12" fill="#00B0F6" fill-opacity="0.85"/>
<rect x="609.8" y="939" width="1.2" height="17.12" fill="#00B0F6" fill-opacity="0.85"/>
<rect x="615.5" y="939" width="1.2" height="17.12" fill="#00B0F6" fill-opacity="0.85"/>
<rect x="625.9" y="939" width="1.2" height="17.12" fill="#00B0F6" fill-opacity="0.85"/>
<rect x="633.7" y="939" width="1.2" height="17.12" fill="#00B0F6" fill-opacity="0.85"/>
<rect x="636" y="939" width="1.2" height="17.12" fill="#00B0F6" fill-opacity="0.85"/>
<rect x="646.75" y="939" width="1.1" height="17.12" fill="#00B0F6" fill-opacity="0.63"/>
<rect x="649.29" y="939" width="1.1" height="17.12" fill="#00B0F6" fill-opacity="0.69"/>
<rect x="663.2" y="939" width="1.2" height="17.12" fill="#00B0F6" fill-opacity="0.85"/>
<rect x="666.7" y="939" width="1.2" height="17.12" fill="#00B0F6" fill-opacity="0.85"/>
<rect x="671.4" y="939" width="1.2" height="17.12" fill="#00B0F6" fill-opacity="0.85"/>
<rect x="675.4" y="939" width="1.2" height="17.12" fill="#00B0F6" fill-opacity="0.85"/>
<rect x="678.3" y="939" width="1.2" height="17.12" fill="#00B0F6" fill-opacity="0.85"/>
<rect x="183.4" y="956.12" width="1.2" height="17.12" fill="#F8766D" fill-opacity="0.85"/>
<rect x="194.1" y="956.12" width="1.2" height="17.12" fill="#F8766D" fill-opacity="0.85"/>
<rect x="206.3" y="956.12" width="1.2" height="17.12" fill="#F8766D" fill-opacity="0.85"/>
<rect x="219.3" y="956.12" width="1.2" height="17.12" fill="#F8766D" fill-opacity="0.85"/>
<rect x="233.7" y="956.12" width="1.2" height="17.12" fill="#F8766D" fill-opacity="0.85"/>
<rect x="264.9" y="956.12" width="1.2" height="17.12" fill="#F8766D" fill-opacity="0.85"/>
<rect x="285.7" y="956.12" width="1.2" height="17.12" fill="#F8766D" fill-opacity="0.85"/>
<rect x="292.5" y="956.12" width="1.2" height="17.12" fill="#F8766D" fill-opacity="0.85"/>
<rect x="325.6" y="956.12" width="1.2" height="17.12" fill="#F8766D" fill-opacity="0.85"/>
<rect x="351.7" y="956.12" width="1.2" height="17.12" fill="#F8766D" fill-opacity="0.85"/>
<rect x="374.2" y="956.12" width="1.2" height="17.12" fill="#F8766D" fill-opacity="0.85"/>
<rect x="398.9" y="956.12" width="1.2" height="17.12" fill="#F8766D" fill-opacity="0.85"/>
<rect x="454.1" y="956.12" width="1.2" height="17.12" fill="#F8766D" fill-opacity="0.85"/>
<rect x="472" y="956.12" width="1.2" height="17.12" fill="#F8766D" fill-opacity="0.85"/>
<rect x="491.4" y="956.12" width="1.2" height="17.12" fill="#F8766D" fill-opacity="0.85"/>
<rect x="522.1" y="956.12" width="1.2" height="17.12" fill="#F8766D" fill-opacity="0.85"/>
<rect x="524.7" y="956.12" width="1.2" height="17.12" fill="#F8766D" fill-opacity="0.85"/>
<rect x="532.5" y="956.12" width="1.2" height="17.12" fill="#F8766D" fill-opacity="0.85"/>
<rect x="597.3" y="956.12" width="1.2" height="17.12" fill="#F8766D" fill-opacity="0.85"/>
<rect x="633.7" y="956.12" width="1.2" height="17.12" fill="#F8766D" fill-opacity="0.85"/>
<rect x="655" y="956.12" width="1.2" height="17.12" fill="#F8766D" fill-opacity="0.85"/>
<rect x="663.7" y="956.12" width="1.2" height="17.12" fill="#F8766D" fill-opacity="0.85"/>
<rect x="667" y="956.12" width="1.2" height="17.12" fill="#F8766D" fill-opacity="0.85"/>
<rect x="670.1" y="956.12" width="1.2" height="17.12" fill="#F8766D" fill-opacity="0.85"/>
<rect x="672.2" y="956.12" width="1.2" height="17.12" fill="#F8766D" fill-opacity="0.85"/>
<rect x="676.8" y="956.12" width="2.6" height="17.12" fill="#F8766D" fill-opacity="0.97"/>
<rect x="169.8" y="973.24" width="1.2" height="17.12" fill="#00BF7D" fill-opacity="0.85"/>
<rect x="174.1" y="973.24" width="1.2" height="17.12" fill="#00BF7D" fill-opacity="0.85"/>
<rect x="181.6" y="973.24" width="1.2" height="17.12" fill="#00BF7D" fill-opacity="0.85"/>
<rect x="197.9" y="973.24" width="1.2" height="17.12" fill="#00BF7D" fill-opacity="0.85"/>
<rect x="199" y="973.24" width="1.2" height="17.12" fill="#00BF7D" fill-opacity="0.85"/>
<rect x="202.4" y="973.24" width="1.2" height="17.12" fill="#00BF7D" fill-opacity="0.85"/>
<rect x="212.9" y="973.24" width="2.3" height="17.12" fill="#00BF7D" fill-opacity="0.76"/>
<rect x="223.9" y="973.24" width="1.2" height="17.12" fill="#00BF7D" fill-opacity="0.85"/>
<rect x="226.7" y="973.24" width="1.2" height="17.12" fill="#00BF7D" fill-opacity="0.85"/>
<rect x="240.1" y="973.24" width="1.2" height="17.12" fill="#00BF7D" fill-opacity="0.85"/>
<rect x="250.5" y="973.24" width="1.2" height="17.12" fill="#00BF7D" fill-opacity="0.85"/>
<rect x="256.2" y="973.24" width="1.2" height="17.12" fill="#00BF7D" fill-opacity="0.85"/>
<rect x="265.2" y="973.24" width="1.2" height="17.12" fill="#00BF7D" fill-opacity="0.85"/>
<rect x="275.3" y="973.24" width="1.2" height="17.12" fill="#00BF7D" fill-opacity="0.85"/>
<rect x="281.9" y="973.24" width="1.2" height="17.12" fill="#00BF7D" fill-opacity="0.85"/>
<rect x="300.8" y="973.24" width="1.2" height="17.12" fill="#00BF7D" fill-opacity="0.85"/>
<rect x="305.7" y="973.24" width="1.2" height="17.12" fill="#00BF7D" fill-opacity="0.85"/>
<rect x="313.3" y="973.24" width="1.2" height="17.12" fill="#00BF7D" fill-opacity="0.85"/>
<rect x="318.4" y="973.24" width="1.2" height="17.12" fill="#00BF7D" fill-opacity="0.85"/>
<rect x="328.9" y="973.24" width="1.2" height="17.12" fill="#00BF7D" fill-opacity="0.85"/>
<rect x="332.1" y="973.24" width="1.2" height="17.12" fill="#00BF7D" fill-opacity="0.85"/>
<rect x="338.6" y="973.24" width="1.2" height="17.12" fill="#00BF7D" fill-opacity="0.85"/>
<rect x="343.05" y="973.24" width="1.1" height="17.12" fill="#00BF7D" fill-opacity="0.61"/>
<rect x="344.97" y="973.24" width="1.1" height="17.12" fill="#00BF7D" fill-opacity="0.73"/>
<rect x="349.4" y="973.24" width="1.2" height="17.12" fill="#00BF7D" fill-opacity="0.85"/>
<rect x="353.4" y="973.24" width="1.2" height="17.12" fill="#00BF7D" fill-opacity="0.85"/>
<rect x="359.8" y="973.24" width="1.2" height="17.12" fill="#00BF7D" fill-opacity="0.85"/>
<rect x="364.4" y="973.24" width="1.2" height="17.12" fill="#00BF7D" fill-opacity="0.97"/>
<rect x="367.6" y="973.24" width="1.2" height="17.12" fill="#00BF7D" fill-opacity="0.85"/>
<rect x="369.7" y="973.24" width="1.2" height="17.12" fill="#00BF7D" fill-opacity="0.85"/>
<rect x="372" y="973.24" width="1.2" height="17.12" fill="#00BF7D" fill-opacity="0.85"/>
<rect x="380.3" y="973.24" width="1.2" height="17.12" fill="#00BF7D" fill-opacity="0.85"/>
<rect x="383.25" y="973.24" width="1.1" height="17.12" fill="#00BF7D" fill-opacity="0.66"/>
<rect x="385.52" y="973.24" width="1.1" height="17.12" fill="#00BF7D" fill-opacity="0.56"/>
<rect x="403.2" y="973.24" width="1.2" height="17.12" fill="#00BF7D" fill-opacity="0.85"/>
<rect x="405.8" y="973.24" width="1.2" height="17.12" fill="#00BF7D" fill-opacity="0.85"/>
<rect x="414.5" y="973.24" width="1.2" height="17.12" fill="#00BF7D" fill-opacity="0.85"/>
<rect x="422.8" y="973.24" width="1.2" height="17.12" fill="#00BF7D" fill-opacity="0.85"/>
<rect x="430.2" y="973.24" width="1.2" height="17.12" fill="#00BF7D" fill-opacity="0.85"/>
<rect x="435" y="973.24" width="1.2" height="17.12" fill="#00BF7D" fill-opacity="0.85"/>
<rect x="448.6" y="973.24" width="1.2" height="17.12" fill="#00BF7D" fill-opacity="0.85"/>
<rect x="462.85" y="973.24" width="1.1" height="17.12" fill="#00BF7D" fill-opacity="0.7"/>
<rect x="464.27" y="973.24" width="1.1" height="17.12" fill="#00BF7D" fill-opacity="0.67"/>
<rect x="472" y="973.24" width="1.2" height="17.12" fill="#00BF7D" fill-opacity="0.85"/>
<rect x="483.1" y="973.24" width="1.2" height="17.12" fill="#00BF7D" fill-opacity="0.85"/>
<rect x="498.4" y="973.24" width="1.2" height="17.12" fill="#00BF7D" fill-opacity="0.85"/>
<rect x="515.7" y="973.24" width="1.2" height="17.12" fill="#00BF7D" fill-opacity="0.85"/>
<rect x="543.5" y="973.24" width="1.2" height="17.12" fill="#00BF7D" fill-opacity="0.85"/>
<rect x="546.9" y="973.24" width="1.2" height="17.12" fill="#00BF7D" fill-opacity="0.85"/>
<rect x="556.8" y="973.24" width="1.2" height="17.12" fill="#00BF7D" fill-opacity="0.85"/>
<rect x="567.2" y="973.24" width="1.2" height="17.12" fill="#00BF7D" fill-opacity="0.85"/>
<rect x="574.3" y="973.24" width="1.4" height="17.12" fill="#00BF7D" fill-opacity="0.97"/>
<rect x="183.4" y="990.36" width="1.2" height="17.12" fill="#A3A500" fill-opacity="0.85"/>
<rect x="194.1" y="990.36" width="1.2" height="17.12" fill="#A3A500" fill-opacity="0.85"/>
<rect x="206.3" y="990.36" width="1.2" height="17.12" fill="#A3A500" fill-opacity="0.85"/>
<rect x="219.3" y="990.36" width="1.2" height="17.12" fill="#A3A500" fill-opacity="0.85"/>
<rect x="233.7" y="990.36" width="1.2" height="17.12" fill="#A3A500" fill-opacity="0.85"/>
<rect x="255.4" y="990.36" width="1.2" height="17.12" fill="#A3A500" fill-opacity="0.85"/>
<rect x="264.9" y="990.36" width="1.2" height="17.12" fill="#A3A500" fill-opacity="0.85"/>
<rect x="285.7" y="990.36" width="1.2" height="17.12" fill="#A3A500" fill-opacity="0.85"/>
<rect x="292.5" y="990.36" width="1.2" height="17.12" fill="#A3A500" fill-opacity="0.85"/>
<rect x="296.5" y="990.36" width="1.2" height="17.12" fill="#A3A500" fill-opacity="0.85"/>
<rect x="300" y="990.36" width="1.2" height="17.12" fill="#A3A500" fill-opacity="0.85"/>
<rect x="325.5" y="990.36" width="1.2" height="17.12" fill="#A3A500" fill-opacity="0.85"/>
<rect x="351.7" y="990.36" width="1.2" height="17.12" fill="#A3A500" fill-opacity="0.85"/>
<rect x="367.1" y="990.36" width="1.2" height="17.12" fill="#A3A500" fill-opacity="0.85"/>
<rect x="375.4" y="990.36" width="1.2" height="17.12" fill="#A3A500" fill-opacity="0.85"/>
<rect x="379.4" y="990.36" width="1.2" height="17.12" fill="#A3A500" fill-opacity="0.85"/>
<rect x="399.4" y="990.36" width="1.2" height="17.12" fill="#A3A500" fill-opacity="0.85"/>
<rect x="407.2" y="990.36" width="1.2" height="17.12" fill="#A3A500" fill-opacity="0.85"/>
<rect x="446.3" y="990.36" width="1.2" height="17.12" fill="#A3A500" fill-opacity="0.85"/>
<rect x="454.1" y="990.36" width="1.2" height="17.12" fill="#A3A500" fill-opacity="0.85"/>
<rect x="471.5" y="990.36" width="1.2" height="17.12" fill="#A3A500" fill-opacity="0.85"/>
<rect x="477.9" y="990.36" width="1.2" height="17.12" fill="#A3A500" fill-opacity="0.85"/>
<rect x="489.7" y="990.36" width="1.2" height="17.12" fill="#A3A500" fill-opacity="0.85"/>
<rect x="491.8" y="990.36" width="1.2" height="17.12" fill="#A3A500" fill-opacity="0.85"/>
<rect x="501" y="990.36" width="1.2" height="17.12" fill="#A3A500" fill-opacity="0.85"/>
<rect x="507.9" y="990.36" width="1.2" height="17.12" fill="#A3A500" fill-opacity="0.85"/>
<rect x="522.1" y="990.36" width="1.2" height="17.12" fill="#A3A500" fill-opacity="0.85"/>
<rect x="524.7" y="990.36" width="1.2" height="17.12" fill="#A3A500" fill-opacity="0.85"/>
<rect x="582.2" y="990.36" width="1.2" height="17.12" fill="#A3A500" fill-opacity="0.85"/>
<rect x="633.7" y="990.36" width="1.2" height="17.12" fill="#A3A500" fill-opacity="0.85"/>
<rect x="655" y="990.36" width="1.2" height="17.12" fill="#A3A500" fill-opacity="0.85"/>
<rect x="667" y="990.36" width="1.2" height="17.12" fill="#A3A500" fill-opacity="0.85"/>
<rect x="670.5" y="990.36" width="1.2" height="17.12" fill="#A3A500" fill-opacity="0.85"/>
<rect x="672.2" y="990.36" width="1.2" height="17.12" fill="#A3A500" fill-opacity="0.85"/>
<rect x="676.8" y="990.36" width="2.6" height="17.12" fill="#A3A500" fill-opacity="0.97"/>
<rect x="677.96" y="990.36" width="1.09" height="17.12" fill="#fff" fill-opacity="0.68"/>
<rect x="241" y="1007.48" width="1.2" height="17.12" fill="#E76BF3" fill-opacity="0.85"/>
<rect x="242.3" y="1007.48" width="1.2" height="17.12" fill="#E76BF3" fill-opacity="0.85"/>
<rect x="247.4" y="1007.48" width="1.2" height="17.12" fill="#E76BF3" fill-opacity="0.85"/>
<rect x="287.8" y="1007.48" width="1.2" height="17.12" fill="#E76BF3" fill-opacity="0.85"/>
<rect x="299.6" y="1007.48" width="1.2" height="17.12" fill="#E76BF3" fill-opacity="0.85"/>
<rect x="388.8" y="1007.48" width="1.2" height="17.12" fill="#E76BF3" fill-opacity="0.85"/>
<rect x="473.5" y="1007.48" width="1.2" height="17.12" fill="#E76BF3" fill-opacity="0.85"/>
<rect x="522.1" y="1007.48" width="1.2" height="17.12" fill="#E76BF3" fill-opacity="0.85"/>
<rect x="545.7" y="1007.48" width="1.2" height="17.12" fill="#E76BF3" fill-opacity="0.85"/>
<rect x="552.3" y="1007.48" width="1.2" height="17.12" fill="#E76BF3" fill-opacity="0.85"/>
<rect x="556.1" y="1007.48" width="1.2" height="17.12" fill="#E76BF3" fill-opacity="0.85"/>
<rect x="558.2" y="1007.48" width="1.2" height="17.12" fill="#E76BF3" fill-opacity="0.85"/>
<rect x="561.7" y="1007.48" width="1.2" height="17.12" fill="#E76BF3" fill-opacity="0.85"/>
<rect x="584.8" y="1007.48" width="1.2" height="17.12" fill="#E76BF3" fill-opacity="0.85"/>
<rect x="587.7" y="1007.48" width="1.2" height="17.12" fill="#E76BF3" fill-opacity="0.85"/>
<rect x="594.7" y="1007.48" width="1.2" height="17.12" fill="#E76BF3" fill-opacity="0.85"/>
<rect x="597.3" y="1007.48" width="1.2" height="17.12" fill="#E76BF3" fill-opacity="0.85"/>
<rect x="601.1" y="1007.48" width="1.2" height="17.12" fill="#E76BF3" fill-opacity="0.85"/>
<rect x="603.9" y="1007.48" width="1.2" height="17.12" fill="#E76BF3" fill-opacity="0.85"/>
<rect x="612.4" y="1007.48" width="1.2" height="17.12" fill="#E76BF3" fill-opacity="0.85"/>
<rect x="616.9" y="1007.48" width="1.2" height="17.12" fill="#E76BF3" fill-opacity="0.85"/>
<rect x="621" y="1007.48" width="1.2" height="17.12" fill="#E76BF3" fill-opacity="0.85"/>
<rect x="625.6" y="1007.48" width="1.2" height="17.12" fill="#E76BF3" fill-opacity="0.97"/>
<rect x="631.1" y="1007.48" width="1.2" height="17.12" fill="#E76BF3" fill-opacity="0.85"/>
<rect x="633.7" y="1007.48" width="1.2" height="17.12" fill="#E76BF3" fill-opacity="0.85"/>
<rect x="637.2" y="1007.48" width="1.2" height="17.12" fill="#E76BF3" fill-opacity="0.85"/>
<rect x="640.4" y="1007.48" width="2.1" height="17.12" fill="#E76BF3" fill-opacity="0.86"/>
<rect x="645.8" y="1007.48" width="1.2" height="17.12" fill="#E76BF3" fill-opacity="0.85"/>
<rect x="649.9" y="1007.48" width="7" height="17.12" fill="#E76BF3" fill-opacity="0.76"/>
<rect x="651" y="1007.48" width="0.97" height="17.12" fill="#fff" fill-opacity="0.4"/>
<rect x="653.92" y="1007.48" width="0.75" height="17.12" fill="#fff" fill-opacity="0.75"/>
<rect x="658.95" y="1007.48" width="1.1" height="17.12" fill="#E76BF3" fill-opacity="0.64"/>
<rect x="660.53" y="1007.48" width="1.1" height="17.12" fill="#E76BF3" fill-opacity="0.87"/>
<rect x="664.7" y="1007.48" width="13" height="17.12" fill="#E76BF3" fill-opacity="0.86"/>
<rect x="667.45" y="1007.48" width="0.55" height="17.12" fill="#fff" fill-opacity="0.28"/>
<rect x="671.91" y="1007.48" width="0.76" height="17.12" fill="#fff" fill-opacity="0.29"/>
<line x1="169.5" y1="939" x2="169.5" y2="1024.6" stroke="#4D4D4D" stroke-width="1.2"/>
<line x1="257.5" y1="1026.6" x2="257.5" y2="1197.3" stroke="#EBEBEB" stroke-width="1"/>
<line x1="346.5" y1="1026.6" x2="346.5" y2="1197.3" stroke="#EBEBEB" stroke-width="1"/>
<line x1="435.6" y1="1026.6" x2="435.6" y2="1197.3" stroke="#EBEBEB" stroke-width="1"/>
<line x1="524.4" y1="1026.6" x2="524.4" y2="1197.3" stroke="#EBEBEB" stroke-width="1"/>
<line x1="613.6" y1="1026.6" x2="613.6" y2="1197.3" stroke="#EBEBEB" stroke-width="1"/>
<polygon points="169.5,1134.2 169.5,1062.5 170,1080 170.2,1087.7 172,1094 173,1096.38 174,1098.35 175,1100 176.1,1101.5 177.2,1102.78 178.3,1104 179.48,1105.33 180.65,1106.63 181.82,1107.86 183,1109 184.05,1109.95 185.1,1110.87 186.15,1111.75 187.2,1112.57 188.25,1113.32 189.3,1114 190.37,1114.62 191.44,1115.21 192.51,1115.76 193.58,1116.29 194.65,1116.78 195.72,1117.26 196.79,1117.71 197.86,1118.15 198.93,1118.58 200,1119 201.01,1119.39 202.02,1119.77 203.03,1120.15 204.04,1120.51 205.05,1120.87 206.05,1121.21 207.06,1121.54 208.07,1121.85 209.08,1122.15 210.09,1122.43 211.1,1122.7 212.14,1122.96 213.19,1123.21 214.23,1123.46 215.27,1123.7 216.31,1123.93 217.36,1124.15 218.4,1124.37 219.44,1124.59 220.49,1124.79 221.53,1125 222.57,1125.19 223.61,1125.39 224.66,1125.58 225.7,1125.76 226.74,1125.95 227.79,1126.13 228.83,1126.3 229.87,1126.48 230.91,1126.65 231.96,1126.83 233,1127 234,1127.17 235,1127.33 236,1127.5 237,1127.67 238,1127.83 239,1128 240,1128.17 241,1128.33 242,1128.49 243,1128.65 244,1128.81 245,1128.96 246,1129.11 247,1129.26 248,1129.4 249,1129.54 250,1129.67 251,1129.79 252,1129.91 253,1130.02 254,1130.13 255,1130.23 256,1130.32 257,1130.4 258.01,1130.48 259.02,1130.55 260.04,1130.63 261.05,1130.7 262.06,1130.78 263.07,1130.85 264.09,1130.92 265.1,1130.98 266.11,1131.05 267.12,1131.11 268.13,1131.18 269.15,1131.24 270.16,1131.3 271.17,1131.36 272.18,1131.42 273.2,1131.48 274.21,1131.53 275.22,1131.59 276.23,1131.64 277.24,1131.69 278.26,1131.74 279.27,1131.79 280.28,1131.84 281.29,1131.89 282.3,1131.93 283.32,1131.98 284.33,1132.02 285.34,1132.06 286.35,1132.1 287.37,1132.14 288.38,1132.18 289.39,1132.22 290.4,1132.25 291.41,1132.29 292.43,1132.32 293.44,1132.35 294.45,1132.38 295.46,1132.41 296.48,1132.44 297.49,1132.47 298.5,1132.5 299.51,1132.53 300.52,1132.55 301.53,1132.58 302.54,1132.6 303.55,1132.63 304.56,1132.65 305.57,1132.68 306.58,1132.7 307.59,1132.72 308.6,1132.75 309.61,1132.77 310.62,1132.79 311.63,1132.81 312.64,1132.83 313.65,1132.85 314.66,1132.88 315.67,1132.9 316.68,1132.92 317.69,1132.93 318.7,1132.95 319.71,1132.97 320.72,1132.99 321.73,1133.01 322.74,1133.03 323.75,1133.04 324.75,1133.06 325.76,1133.08 326.77,1133.1 327.78,1133.11 328.79,1133.13 329.8,1133.14 330.81,1133.16 331.82,1133.17 332.83,1133.19 333.84,1133.2 334.85,1133.22 335.86,1133.23 336.87,1133.24 337.88,1133.26 338.89,1133.27 339.9,1133.28 340.91,1133.3 341.92,1133.31 342.93,1133.32 343.94,1133.33 344.95,1133.34 345.96,1133.36 346.97,1133.37 347.98,1133.38 348.99,1133.39 350,1133.4 351,1133.41 352,1133.42 353,1133.43 354,1133.44 355,1133.45 356,1133.46 357,1133.47 358,1133.47 359,1133.48 360,1133.49 361,1133.5 362,1133.5 363,1133.51 364,1133.52 365,1133.53 366,1133.53 367,1133.54 368,1133.54 369,1133.55 370,1133.56 371,1133.56 372,1133.57 373,1133.57 374,1133.58 375,1133.59 376,1133.59 377,1133.6 378,1133.6 379,1133.61 380,1133.61 381,1133.62 382,1133.62 383,1133.63 384,1133.63 385,1133.64 386,1133.64 387,1133.65 388,1133.65 389,1133.66 390,1133.66 391,1133.67 392,1133.68 393,1133.68 394,1133.69 395,1133.69 396,1133.7 397,1133.7 398,1133.71 399,1133.72 400,1133.72 401,1133.73 402,1133.74 403,1133.74 404,1133.75 405,1133.76 406,1133.77 407,1133.77 408,1133.78 409,1133.79 410,1133.8 411,1133.81 412,1133.82 413,1133.83 414,1133.84 415,1133.85 416,1133.86 417,1133.87 418,1133.88 419,1133.89 420,1133.9 421,1133.91 422,1133.93 423,1133.94 424,1133.96 425,1133.98 426,1134 427,1134.02 428,1134.05 429,1134.07 430,1134.09 431,1134.11 432,1134.14 433,1134.16 434,1134.18 435,1134.2 450,1134.4 451.01,1134.44 452.01,1134.47 453.02,1134.5 454.02,1134.54 455.03,1134.57 456.03,1134.61 457.04,1134.64 458.04,1134.67 459.05,1134.71 460.05,1134.74 461.06,1134.77 462.06,1134.81 463.07,1134.84 464.08,1134.87 465.08,1134.91 466.09,1134.94 467.09,1134.97 468.1,1135 469.1,1135.04 470.11,1135.07 471.11,1135.1 472.12,1135.13 473.12,1135.17 474.13,1135.2 475.14,1135.23 476.14,1135.26 477.15,1135.3 478.15,1135.33 479.16,1135.36 480.16,1135.39 481.17,1135.42 482.17,1135.46 483.18,1135.49 484.18,1135.52 485.19,1135.56 486.19,1135.59 487.2,1135.62 488.21,1135.65 489.21,1135.69 490.22,1135.72 491.22,1135.75 492.23,1135.79 493.23,1135.82 494.24,1135.86 495.24,1135.89 496.25,1135.92 497.25,1135.96 498.26,1135.99 499.26,1136.03 500.27,1136.06 501.28,1136.1 502.28,1136.13 503.29,1136.17 504.29,1136.21 505.3,1136.24 506.3,1136.28 507.31,1136.32 508.31,1136.35 509.32,1136.39 510.32,1136.43 511.33,1136.47 512.34,1136.51 513.34,1136.55 514.35,1136.58 515.35,1136.62 516.36,1136.66 517.36,1136.7 518.37,1136.75 519.37,1136.79 520.38,1136.83 521.38,1136.87 522.39,1136.91 523.39,1136.96 524.4,1137 525.41,1137.04 526.43,1137.09 527.44,1137.13 528.45,1137.18 529.47,1137.23 530.48,1137.27 531.49,1137.32 532.51,1137.37 533.52,1137.41 534.53,1137.46 535.55,1137.51 536.56,1137.56 537.57,1137.61 538.59,1137.66 539.6,1137.71 540.61,1137.76 541.63,1137.81 542.64,1137.87 543.65,1137.92 544.67,1137.97 545.68,1138.03 546.69,1138.08 547.71,1138.14 548.72,1138.19 549.73,1138.25 550.75,1138.3 551.76,1138.36 552.77,1138.42 553.79,1138.48 554.8,1138.54 555.81,1138.6 556.83,1138.66 557.84,1138.72 558.85,1138.78 559.87,1138.84 560.88,1138.91 561.89,1138.97 562.91,1139.03 563.92,1139.1 564.93,1139.16 565.95,1139.23 566.96,1139.3 567.97,1139.36 568.99,1139.43 570,1139.5 571.01,1139.57 572.02,1139.64 573.03,1139.71 574.04,1139.78 575.05,1139.85 576.06,1139.92 577.07,1139.99 578.07,1140.06 579.08,1140.14 580.09,1140.21 581.1,1140.29 582.11,1140.36 583.12,1140.44 584.13,1140.52 585.14,1140.59 586.15,1140.67 587.16,1140.75 588.17,1140.84 589.18,1140.92 590.19,1141 591.2,1141.09 592.2,1141.17 593.21,1141.26 594.22,1141.35 595.23,1141.44 596.24,1141.54 597.25,1141.63 598.26,1141.73 599.27,1141.82 600.28,1141.92 601.29,1142.02 602.3,1142.13 603.31,1142.23 604.32,1142.34 605.33,1142.45 606.33,1142.56 607.34,1142.67 608.35,1142.79 609.36,1142.91 610.37,1143.03 611.38,1143.15 612.39,1143.27 613.4,1143.4 614.43,1143.53 615.46,1143.68 616.49,1143.83 617.51,1143.98 618.54,1144.15 619.57,1144.32 620.6,1144.49 621.63,1144.68 622.66,1144.87 623.69,1145.06 624.71,1145.26 625.74,1145.46 626.77,1145.67 627.8,1145.89 628.83,1146.11 629.86,1146.33 630.89,1146.56 631.91,1146.79 632.94,1147.02 633.97,1147.26 635,1147.5 636,1147.74 637,1148 638,1148.27 639,1148.54 640,1148.83 641,1149.13 642,1149.43 643,1149.74 644,1150.05 645,1150.37 646,1150.68 647,1151 648,1151.32 649,1151.64 650,1151.96 651,1152.29 652,1152.62 653,1152.96 654,1153.3 655,1153.65 656,1154.01 657,1154.37 658,1154.74 659,1155.12 660,1155.5 661.09,1155.91 662.17,1156.32 663.26,1156.74 664.34,1157.18 665.43,1157.67 666.51,1158.2 667.6,1158.8 668.7,1159.49 669.8,1160.31 670.9,1161.3 672,1162.5 673.1,1164.19 674.2,1166.44 675.3,1169 676.65,1172.32 678,1177 679.7,1189.7 679.7,1134.2" fill="#BEBEBE" stroke="none"/>
<line x1="169.5" y1="1134.2" x2="679.7" y2="1134.2" stroke="#C4C4C4" stroke-width="0.9"/>
<line x1="169.5" y1="1026.6" x2="169.5" y2="1197.3" stroke="#4D4D4D" stroke-width="1.2"/>
<line x1="168.9" y1="1197.3" x2="679.7" y2="1197.3" stroke="#4D4D4D" stroke-width="1.2"/>
<line x1="167.5" y1="1062.6" x2="169.5" y2="1062.6" stroke="#4D4D4D" stroke-width="1.1"/>
<text x="167" y="1069.8" font-size="22.9" fill="#4D4D4D" text-anchor="end">2</text>
<line x1="167.5" y1="1098.2" x2="169.5" y2="1098.2" stroke="#4D4D4D" stroke-width="1.1"/>
<text x="167" y="1105.4" font-size="22.9" fill="#4D4D4D" text-anchor="end">1</text>
<line x1="167.5" y1="1134.1" x2="169.5" y2="1134.1" stroke="#4D4D4D" stroke-width="1.1"/>
<text x="167" y="1141.3" font-size="22.9" fill="#4D4D4D" text-anchor="end">0</text>
<line x1="167.5" y1="1170.3" x2="169.5" y2="1170.3" stroke="#4D4D4D" stroke-width="1.1"/>
<text x="167" y="1177.5" font-size="22.9" fill="#4D4D4D" text-anchor="end">−1</text>
<line x1="346.5" y1="1197.3" x2="346.5" y2="1199.3" stroke="#4D4D4D" stroke-width="1.1"/>
<text x="351.1" y="1218.8" font-size="22.9" fill="#4D4D4D" text-anchor="middle">5000</text>
<line x1="524.4" y1="1197.3" x2="524.4" y2="1199.3" stroke="#4D4D4D" stroke-width="1.1"/>
<text x="534.2" y="1218.8" font-size="22.9" fill="#4D4D4D" text-anchor="middle">10000</text>
<text x="328.42" y="1238.8" font-size="22.9" fill="#000" text-anchor="start">Rank in Ordered Dataset</text>
<text x="0" y="0" font-size="22.9" fill="#000" text-anchor="middle" transform="translate(108.7,825) rotate(-90)">Running Enrichment Score</text>
<text x="0" y="0" font-size="22.9" fill="#000" text-anchor="middle" transform="translate(108.8,1094.2) rotate(-90)">Ranked List Metric</text>
</g>
<g>
<text x="0" y="0" font-size="48.5" fill="#000" text-anchor="start" transform="translate(1.73,1268.3) scale(1,1.03)">C</text>
<line x1="264.5" y1="1276.3" x2="264.5" y2="1541.2" stroke="#EBEBEB" stroke-width="1"/>
<line x1="356.2" y1="1276.3" x2="356.2" y2="1541.2" stroke="#EBEBEB" stroke-width="1"/>
<line x1="448.4" y1="1276.3" x2="448.4" y2="1541.2" stroke="#EBEBEB" stroke-width="1"/>
<line x1="540.3" y1="1276.3" x2="540.3" y2="1541.2" stroke="#EBEBEB" stroke-width="1"/>
<line x1="632.5" y1="1276.3" x2="632.5" y2="1541.2" stroke="#EBEBEB" stroke-width="1"/>
<polyline points="172.1,1411.5 173.7,1411.5 177.2,1386 179.3,1369.8 181.1,1358.5 183.2,1353.5 186.4,1344.3 189.2,1340.8 192,1330.9 195.6,1325.2 197.7,1321.7 201.9,1319.6 206.9,1314.6 211.1,1315.3 214.7,1306.9 219.6,1299.4 227.4,1295.9 233,1293.1 238,1288.8 241.5,1288.1 254.2,1291 261.3,1292.7 264.9,1291.7 269.8,1292.6 278,1295.3 285.4,1296.5 316.6,1303.8 356.1,1314.4 401.4,1327.9 448,1340.6 480,1350.1 540.6,1367.8 632,1393.7 665.9,1402.6" fill="none" stroke="#F8766D" stroke-width="1.4" stroke-linejoin="round"/>
<polyline points="172.1,1411.5 173.7,1411.5 177.2,1395.5 181.1,1373 186.4,1363.4 197.7,1335.8 214,1318.2 220.3,1309.7 235.2,1298.4 248.6,1294.8 269.8,1292.7 278,1295.2 285.4,1297.1 316.6,1304.4 356.1,1315 401.4,1328.5 448,1341.2 480,1350.7 540.6,1368.4 632,1394.3 665.9,1403.2" fill="none" stroke="#A3A500" stroke-width="1.4" stroke-linejoin="round"/>
<polyline points="172.1,1411.5 173.7,1411.5 181.4,1374.7 186.4,1366.2 191.3,1352.1 197.7,1338.7 206.2,1328.1 214,1321.7 221.7,1313.2 228.8,1308.3 235.2,1303.3 248.6,1300.5 261.3,1299.1 269.8,1297.3 278,1299.1 285.4,1300.5 316.6,1307.6 356.1,1316.8 401.4,1329.8 448,1342.2 480,1352.8 540.6,1370.4 632,1395.6 665.9,1402.5" fill="none" stroke="#00BF7D" stroke-width="1.4" stroke-linejoin="round"/>
<polyline points="172.1,1411.5 173.7,1411.5 175.8,1412.9 181.4,1411.5 186.4,1409.7 192,1410.8 196.3,1410.4 221.7,1417.2 233,1420 266.1,1427.8 340,1446.5 448.4,1478.6 540.5,1505.4 610,1523.1 625.4,1527.6 631.9,1525.3 651.1,1529.2 658.2,1526.9 662.7,1521.5 669.1,1514.1 673.6,1515 679.4,1512.1 683.3,1503.5 684.6,1496.4 689.7,1480.3 694.2,1474.9 696.1,1468.8 697.1,1457.8 698.4,1450.1 700,1443.1 700.5,1411.6" fill="none" stroke="#00B0F6" stroke-width="1.4" stroke-linejoin="round"/>
<polyline points="172.1,1411.5 173.7,1411.5 177.2,1394.5 181.1,1371.2 186.4,1359.9 191.3,1347.2 197.7,1333 201.9,1329.5 206.2,1323.1 210.4,1321 214,1315.3 220.3,1306.2 228.8,1301.2 235.2,1295.9 248.6,1293.1 255,1293.8 269.8,1292 278,1293.8 285.4,1295.3 316.6,1302.6 356.1,1313.2 401.4,1326.7 448,1339.4 480,1348.9 540.6,1366.6 632,1392.5 665.9,1401.4 700.6,1411" fill="none" stroke="#E76BF3" stroke-width="1.4" stroke-linejoin="round"/>
<line x1="171.9" y1="1276.3" x2="171.9" y2="1541.2" stroke="#4D4D4D" stroke-width="1.2"/>
<line x1="169.9" y1="1334.1" x2="171.9" y2="1334.1" stroke="#4D4D4D" stroke-width="1.1"/>
<text x="166.3" y="1343.4" font-size="23.6" fill="#4D4D4D" text-anchor="end">0.5</text>
<line x1="169.9" y1="1411.6" x2="171.9" y2="1411.6" stroke="#4D4D4D" stroke-width="1.1"/>
<text x="166.3" y="1420.9" font-size="23.6" fill="#4D4D4D" text-anchor="end">0.0</text>
<line x1="169.9" y1="1488.6" x2="171.9" y2="1488.6" stroke="#4D4D4D" stroke-width="1.1"/>
<text x="166.3" y="1497.9" font-size="23.6" fill="#4D4D4D" text-anchor="end">−0.5</text>
<rect x="175.9" y="1543.5" width="1.2" height="17.68" fill="#00B0F6" fill-opacity="0.85"/>
<rect x="180" y="1543.5" width="1.2" height="17.68" fill="#00B0F6" fill-opacity="0.85"/>
<rect x="180.7" y="1543.5" width="1.2" height="17.68" fill="#00B0F6" fill-opacity="0.85"/>
<rect x="182.6" y="1543.5" width="1.2" height="17.68" fill="#00B0F6" fill-opacity="0.85"/>
<rect x="184.7" y="1543.5" width="1.2" height="17.68" fill="#00B0F6" fill-opacity="0.85"/>
<rect x="185.6" y="1543.5" width="1.2" height="17.68" fill="#00B0F6" fill-opacity="0.85"/>
<rect x="191.4" y="1543.5" width="1.2" height="17.68" fill="#00B0F6" fill-opacity="0.85"/>
<rect x="195.3" y="1543.5" width="1.2" height="17.68" fill="#00B0F6" fill-opacity="0.85"/>
<rect x="221.5" y="1543.5" width="1.2" height="17.68" fill="#00B0F6" fill-opacity="0.85"/>
<rect x="236.9" y="1543.5" width="1.2" height="17.68" fill="#00B0F6" fill-opacity="0.85"/>
<rect x="246.15" y="1543.5" width="1.1" height="17.68" fill="#00B0F6" fill-opacity="0.77"/>
<rect x="248.51" y="1543.5" width="1.1" height="17.68" fill="#00B0F6" fill-opacity="0.58"/>
<rect x="257.2" y="1543.5" width="1.2" height="17.68" fill="#00B0F6" fill-opacity="0.85"/>
<rect x="265.1" y="1543.5" width="1.2" height="17.68" fill="#00B0F6" fill-opacity="0.85"/>
<rect x="286.9" y="1543.5" width="1.2" height="17.68" fill="#00B0F6" fill-opacity="0.85"/>
<rect x="290.8" y="1543.5" width="1.2" height="17.68" fill="#00B0F6" fill-opacity="0.85"/>
<rect x="298.2" y="1543.5" width="1.2" height="17.68" fill="#00B0F6" fill-opacity="0.85"/>
<rect x="309.3" y="1543.5" width="1.2" height="17.68" fill="#00B0F6" fill-opacity="0.85"/>
<rect x="330" y="1543.5" width="1.2" height="17.68" fill="#00B0F6" fill-opacity="0.85"/>
<rect x="339.4" y="1543.5" width="1.2" height="17.68" fill="#00B0F6" fill-opacity="0.85"/>
<rect x="357.4" y="1543.5" width="1.2" height="17.68" fill="#00B0F6" fill-opacity="0.85"/>
<rect x="373" y="1543.5" width="1.2" height="17.68" fill="#00B0F6" fill-opacity="0.85"/>
<rect x="400.4" y="1543.5" width="1.2" height="17.68" fill="#00B0F6" fill-opacity="0.85"/>
<rect x="415.9" y="1543.5" width="1.2" height="17.68" fill="#00B0F6" fill-opacity="0.85"/>
<rect x="418.6" y="1543.5" width="1.2" height="17.68" fill="#00B0F6" fill-opacity="0.85"/>
<rect x="430.95" y="1543.5" width="1.1" height="17.68" fill="#00B0F6" fill-opacity="0.57"/>
<rect x="433.39" y="1543.5" width="1.1" height="17.68" fill="#00B0F6" fill-opacity="0.71"/>
<rect x="466.8" y="1543.5" width="1.2" height="17.68" fill="#00B0F6" fill-opacity="0.85"/>
<rect x="477.6" y="1543.5" width="1.2" height="17.68" fill="#00B0F6" fill-opacity="0.85"/>
<rect x="487.3" y="1543.5" width="1.2" height="17.68" fill="#00B0F6" fill-opacity="0.85"/>
<rect x="496.3" y="1543.5" width="1.2" height="17.68" fill="#00B0F6" fill-opacity="0.85"/>
<rect x="526.9" y="1543.5" width="1.2" height="17.68" fill="#00B0F6" fill-opacity="0.85"/>
<rect x="548.2" y="1543.5" width="1.2" height="17.68" fill="#00B0F6" fill-opacity="0.85"/>
<rect x="553" y="1543.5" width="1.2" height="17.68" fill="#00B0F6" fill-opacity="0.85"/>
<rect x="564.75" y="1543.5" width="1.1" height="17.68" fill="#00B0F6" fill-opacity="0.74"/>
<rect x="567.26" y="1543.5" width="1.1" height="17.68" fill="#00B0F6" fill-opacity="0.64"/>
<rect x="568.82" y="1543.5" width="1.1" height="17.68" fill="#00B0F6" fill-opacity="0.73"/>
<rect x="588.7" y="1543.5" width="1.2" height="17.68" fill="#00B0F6" fill-opacity="0.85"/>
<rect x="604.05" y="1543.5" width="1.1" height="17.68" fill="#00B0F6" fill-opacity="0.59"/>
<rect x="605.64" y="1543.5" width="1.1" height="17.68" fill="#00B0F6" fill-opacity="0.57"/>
<rect x="612.1" y="1543.5" width="1.2" height="17.68" fill="#00B0F6" fill-opacity="0.85"/>
<rect x="615.7" y="1543.5" width="1.2" height="17.68" fill="#00B0F6" fill-opacity="0.85"/>
<rect x="626.1" y="1543.5" width="6.3" height="17.68" fill="#00B0F6" fill-opacity="0.81"/>
<rect x="627.88" y="1543.5" width="0.68" height="17.68" fill="#fff" fill-opacity="0.67"/>
<rect x="631.08" y="1543.5" width="0.8" height="17.68" fill="#fff" fill-opacity="0.35"/>
<rect x="638.5" y="1543.5" width="1.2" height="17.68" fill="#00B0F6" fill-opacity="0.85"/>
<rect x="643.55" y="1543.5" width="1.1" height="17.68" fill="#00B0F6" fill-opacity="0.56"/>
<rect x="645.25" y="1543.5" width="1.1" height="17.68" fill="#00B0F6" fill-opacity="0.56"/>
<rect x="649.85" y="1543.5" width="1.1" height="17.68" fill="#00B0F6" fill-opacity="0.74"/>
<rect x="651.48" y="1543.5" width="1.1" height="17.68" fill="#00B0F6" fill-opacity="0.72"/>
<rect x="654" y="1543.5" width="1.1" height="17.68" fill="#00B0F6" fill-opacity="0.59"/>
<rect x="658.2" y="1543.5" width="4.8" height="17.68" fill="#00B0F6" fill-opacity="1"/>
<rect x="660.28" y="1543.5" width="0.8" height="17.68" fill="#fff" fill-opacity="0.71"/>
<rect x="664.3" y="1543.5" width="5" height="17.68" fill="#00B0F6" fill-opacity="0.86"/>
<rect x="666.57" y="1543.5" width="0.91" height="17.68" fill="#fff" fill-opacity="0.79"/>
<rect x="673.3" y="1543.5" width="27.5" height="17.68" fill="#00B0F6" fill-opacity="0.92"/>
<rect x="676.38" y="1543.5" width="0.92" height="17.68" fill="#fff" fill-opacity="0.6"/>
<rect x="680.22" y="1543.5" width="0.71" height="17.68" fill="#fff" fill-opacity="0.28"/>
<rect x="682.88" y="1543.5" width="0.54" height="17.68" fill="#fff" fill-opacity="0.66"/>
<rect x="685.82" y="1543.5" width="0.6" height="17.68" fill="#fff" fill-opacity="0.3"/>
<rect x="690.86" y="1543.5" width="1.02" height="17.68" fill="#fff" fill-opacity="0.62"/>
<rect x="694.37" y="1543.5" width="0.65" height="17.68" fill="#fff" fill-opacity="0.41"/>
<rect x="698.13" y="1543.5" width="0.59" height="17.68" fill="#fff" fill-opacity="0.5"/>
<rect x="173.8" y="1561.18" width="13.3" height="17.68" fill="#00BF7D" fill-opacity="1"/>
<rect x="177.2" y="1561.18" width="1.08" height="17.68" fill="#fff" fill-opacity="0.55"/>
<rect x="180.64" y="1561.18" width="1.08" height="17.68" fill="#fff" fill-opacity="0.42"/>
<rect x="184.47" y="1561.18" width="0.5" height="17.68" fill="#fff" fill-opacity="0.46"/>
<rect x="189.4" y="1561.18" width="9.5" height="17.68" fill="#00BF7D" fill-opacity="0.97"/>
<rect x="191.66" y="1561.18" width="0.62" height="17.68" fill="#fff" fill-opacity="0.53"/>
<rect x="193.79" y="1561.18" width="0.66" height="17.68" fill="#fff" fill-opacity="0.3"/>
<rect x="197.35" y="1561.18" width="0.53" height="17.68" fill="#fff" fill-opacity="0.26"/>
<rect x="201.2" y="1561.18" width="6.2" height="17.68" fill="#00BF7D" fill-opacity="0.92"/>
<rect x="202.78" y="1561.18" width="0.85" height="17.68" fill="#fff" fill-opacity="0.54"/>
<rect x="210.1" y="1561.18" width="11.1" height="17.68" fill="#00BF7D" fill-opacity="0.97"/>
<rect x="212.74" y="1561.18" width="0.93" height="17.68" fill="#fff" fill-opacity="0.73"/>
<rect x="216.54" y="1561.18" width="0.7" height="17.68" fill="#fff" fill-opacity="0.79"/>
<rect x="219.26" y="1561.18" width="0.93" height="17.68" fill="#fff" fill-opacity="0.6"/>
<rect x="224.7" y="1561.18" width="14.5" height="17.68" fill="#00BF7D" fill-opacity="0.92"/>
<rect x="227.79" y="1561.18" width="1.04" height="17.68" fill="#fff" fill-opacity="0.6"/>
<rect x="232.89" y="1561.18" width="0.99" height="17.68" fill="#fff" fill-opacity="0.33"/>
<rect x="237.21" y="1561.18" width="0.8" height="17.68" fill="#fff" fill-opacity="0.71"/>
<rect x="240.95" y="1561.18" width="1.1" height="17.68" fill="#00BF7D" fill-opacity="0.84"/>
<rect x="243.05" y="1561.18" width="1.1" height="17.68" fill="#00BF7D" fill-opacity="0.86"/>
<rect x="245.27" y="1561.18" width="1.1" height="17.68" fill="#00BF7D" fill-opacity="0.79"/>
<rect x="246.95" y="1561.18" width="1.1" height="17.68" fill="#00BF7D" fill-opacity="0.56"/>
<rect x="251.2" y="1561.18" width="6.9" height="17.68" fill="#00BF7D" fill-opacity="0.76"/>
<rect x="253.1" y="1561.18" width="0.56" height="17.68" fill="#fff" fill-opacity="0.71"/>
<rect x="261.7" y="1561.18" width="7.9" height="17.68" fill="#00BF7D" fill-opacity="0.86"/>
<rect x="264.27" y="1561.18" width="0.88" height="17.68" fill="#fff" fill-opacity="0.62"/>
<rect x="268.36" y="1561.18" width="0.5" height="17.68" fill="#fff" fill-opacity="0.69"/>
<rect x="275.7" y="1561.18" width="1.2" height="17.68" fill="#00BF7D" fill-opacity="0.85"/>
<rect x="282.85" y="1561.18" width="1.1" height="17.68" fill="#00BF7D" fill-opacity="0.73"/>
<rect x="284.89" y="1561.18" width="1.1" height="17.68" fill="#00BF7D" fill-opacity="0.78"/>
<rect x="286.37" y="1561.18" width="1.1" height="17.68" fill="#00BF7D" fill-opacity="0.81"/>
<rect x="291.3" y="1561.18" width="1.2" height="17.68" fill="#00BF7D" fill-opacity="0.85"/>
<rect x="299.65" y="1561.18" width="1.1" height="17.68" fill="#00BF7D" fill-opacity="0.58"/>
<rect x="304" y="1561.18" width="1.2" height="17.68" fill="#00BF7D" fill-opacity="0.85"/>
<rect x="306.7" y="1561.18" width="1.2" height="17.68" fill="#00BF7D" fill-opacity="0.85"/>
<rect x="309.3" y="1561.18" width="1.2" height="17.68" fill="#00BF7D" fill-opacity="0.85"/>
<rect x="317.8" y="1561.18" width="1.2" height="17.68" fill="#00BF7D" fill-opacity="0.85"/>
<rect x="319.9" y="1561.18" width="1.2" height="17.68" fill="#00BF7D" fill-opacity="0.85"/>
<rect x="322.9" y="1561.18" width="1.2" height="17.68" fill="#00BF7D" fill-opacity="0.85"/>
<rect x="326.1" y="1561.18" width="1.2" height="17.68" fill="#00BF7D" fill-opacity="0.85"/>
<rect x="330" y="1561.18" width="1.2" height="17.68" fill="#00BF7D" fill-opacity="0.85"/>
<rect x="335.3" y="1561.18" width="1.2" height="17.68" fill="#00BF7D" fill-opacity="0.85"/>
<rect x="340.3" y="1561.18" width="1.2" height="17.68" fill="#00BF7D" fill-opacity="0.85"/>
<rect x="347.5" y="1561.18" width="1" height="17.68" fill="#00BF7D" fill-opacity="0.97"/>
<rect x="358.3" y="1561.18" width="1.2" height="17.68" fill="#00BF7D" fill-opacity="0.85"/>
<rect x="401.2" y="1561.18" width="1.2" height="17.68" fill="#00BF7D" fill-opacity="0.85"/>
<rect x="418.4" y="1561.18" width="1.2" height="17.68" fill="#00BF7D" fill-opacity="0.85"/>
<rect x="427.7" y="1561.18" width="1.2" height="17.68" fill="#00BF7D" fill-opacity="0.85"/>
<rect x="431.7" y="1561.18" width="1.2" height="17.68" fill="#00BF7D" fill-opacity="0.85"/>
<rect x="437.1" y="1561.18" width="1.2" height="17.68" fill="#00BF7D" fill-opacity="0.85"/>
<rect x="441.6" y="1561.18" width="1.2" height="17.68" fill="#00BF7D" fill-opacity="0.85"/>
<rect x="456" y="1561.18" width="1.2" height="17.68" fill="#00BF7D" fill-opacity="0.85"/>
<rect x="460" y="1561.18" width="1.2" height="17.68" fill="#00BF7D" fill-opacity="0.85"/>
<rect x="478.9" y="1561.18" width="1.2" height="17.68" fill="#00BF7D" fill-opacity="0.85"/>
<rect x="483.4" y="1561.18" width="1.2" height="17.68" fill="#00BF7D" fill-opacity="0.85"/>
<rect x="516.7" y="1561.18" width="1.2" height="17.68" fill="#00BF7D" fill-opacity="0.85"/>
<rect x="529.8" y="1561.18" width="1.2" height="17.68" fill="#00BF7D" fill-opacity="0.85"/>
<rect x="535.8" y="1561.18" width="1.8" height="17.68" fill="#00BF7D" fill-opacity="0.86"/>
<rect x="555.9" y="1561.18" width="1.2" height="17.68" fill="#00BF7D" fill-opacity="0.85"/>
<rect x="560.8" y="1561.18" width="1.2" height="17.68" fill="#00BF7D" fill-opacity="0.85"/>
<rect x="563.8" y="1561.18" width="1.2" height="17.68" fill="#00BF7D" fill-opacity="0.85"/>
<rect x="572.8" y="1561.18" width="1.2" height="17.68" fill="#00BF7D" fill-opacity="0.85"/>
<rect x="579.8" y="1561.18" width="1.2" height="17.68" fill="#00BF7D" fill-opacity="0.85"/>
<rect x="594.1" y="1561.18" width="1.5" height="17.68" fill="#00BF7D" fill-opacity="0.86"/>
<rect x="626.8" y="1561.18" width="1.2" height="17.68" fill="#00BF7D" fill-opacity="0.85"/>
<rect x="633.6" y="1561.18" width="1.2" height="17.68" fill="#00BF7D" fill-opacity="0.85"/>
<rect x="645.4" y="1561.18" width="1.2" height="17.68" fill="#00BF7D" fill-opacity="0.85"/>
<rect x="652.9" y="1561.18" width="1.2" height="17.68" fill="#00BF7D" fill-opacity="0.85"/>
<rect x="658.8" y="1561.18" width="1.2" height="17.68" fill="#00BF7D" fill-opacity="0.85"/>
<rect x="662.4" y="1561.18" width="1.2" height="17.68" fill="#00BF7D" fill-opacity="0.85"/>
<rect x="665.5" y="1561.18" width="1.2" height="17.68" fill="#00BF7D" fill-opacity="0.85"/>
<rect x="173.8" y="1578.86" width="13.3" height="17.68" fill="#F8766D" fill-opacity="1"/>
<rect x="177.24" y="1578.86" width="0.8" height="17.68" fill="#fff" fill-opacity="0.46"/>
<rect x="181.21" y="1578.86" width="0.91" height="17.68" fill="#fff" fill-opacity="0.67"/>
<rect x="185.78" y="1578.86" width="0.89" height="17.68" fill="#fff" fill-opacity="0.29"/>
<rect x="189.4" y="1578.86" width="9.5" height="17.68" fill="#F8766D" fill-opacity="0.81"/>
<rect x="191.03" y="1578.86" width="0.95" height="17.68" fill="#fff" fill-opacity="0.42"/>
<rect x="195.47" y="1578.86" width="0.51" height="17.68" fill="#fff" fill-opacity="0.28"/>
<rect x="201.2" y="1578.86" width="6.2" height="17.68" fill="#F8766D" fill-opacity="0.76"/>
<rect x="203.88" y="1578.86" width="0.92" height="17.68" fill="#fff" fill-opacity="0.62"/>
<rect x="211" y="1578.86" width="10.2" height="17.68" fill="#F8766D" fill-opacity="0.86"/>
<rect x="213.29" y="1578.86" width="0.78" height="17.68" fill="#fff" fill-opacity="0.51"/>
<rect x="215.98" y="1578.86" width="1.04" height="17.68" fill="#fff" fill-opacity="0.36"/>
<rect x="224.7" y="1578.86" width="16.7" height="17.68" fill="#F8766D" fill-opacity="0.76"/>
<rect x="228.04" y="1578.86" width="0.51" height="17.68" fill="#fff" fill-opacity="0.5"/>
<rect x="232.92" y="1578.86" width="1.08" height="17.68" fill="#fff" fill-opacity="0.5"/>
<rect x="236.44" y="1578.86" width="0.63" height="17.68" fill="#fff" fill-opacity="0.77"/>
<rect x="239.31" y="1578.86" width="0.85" height="17.68" fill="#fff" fill-opacity="0.33"/>
<rect x="253.45" y="1578.86" width="1.1" height="17.68" fill="#F8766D" fill-opacity="0.88"/>
<rect x="262.55" y="1578.86" width="1.1" height="17.68" fill="#F8766D" fill-opacity="0.84"/>
<rect x="264.56" y="1578.86" width="1.1" height="17.68" fill="#F8766D" fill-opacity="0.86"/>
<rect x="284.2" y="1578.86" width="1.2" height="17.68" fill="#F8766D" fill-opacity="0.85"/>
<rect x="304" y="1578.86" width="1.2" height="17.68" fill="#F8766D" fill-opacity="0.85"/>
<rect x="309.3" y="1578.86" width="1.2" height="17.68" fill="#F8766D" fill-opacity="0.85"/>
<rect x="317.3" y="1578.86" width="1.2" height="17.68" fill="#F8766D" fill-opacity="0.85"/>
<rect x="323.5" y="1578.86" width="1.2" height="17.68" fill="#F8766D" fill-opacity="0.85"/>
<rect x="330" y="1578.86" width="1.2" height="17.68" fill="#F8766D" fill-opacity="0.85"/>
<rect x="340.3" y="1578.86" width="1.2" height="17.68" fill="#F8766D" fill-opacity="0.85"/>
<rect x="358.3" y="1578.86" width="1.2" height="17.68" fill="#F8766D" fill-opacity="0.85"/>
<rect x="418.4" y="1578.86" width="1.2" height="17.68" fill="#F8766D" fill-opacity="0.85"/>
<rect x="437.1" y="1578.86" width="1.2" height="17.68" fill="#F8766D" fill-opacity="0.85"/>
<rect x="483.4" y="1578.86" width="1.2" height="17.68" fill="#F8766D" fill-opacity="0.85"/>
<rect x="529.8" y="1578.86" width="1.2" height="17.68" fill="#F8766D" fill-opacity="0.85"/>
<rect x="535.2" y="1578.86" width="1.2" height="17.68" fill="#F8766D" fill-opacity="0.85"/>
<rect x="537" y="1578.86" width="1.2" height="17.68" fill="#F8766D" fill-opacity="0.85"/>
<rect x="563.8" y="1578.86" width="1.2" height="17.68" fill="#F8766D" fill-opacity="0.85"/>
<rect x="572.8" y="1578.86" width="1.2" height="17.68" fill="#F8766D" fill-opacity="0.85"/>
<rect x="633.6" y="1578.86" width="1.2" height="17.68" fill="#F8766D" fill-opacity="0.85"/>
<rect x="665.5" y="1578.86" width="1.2" height="17.68" fill="#F8766D" fill-opacity="0.85"/>
<rect x="173.8" y="1596.54" width="13.3" height="17.68" fill="#E76BF3" fill-opacity="1"/>
<rect x="175.38" y="1596.54" width="1.04" height="17.68" fill="#fff" fill-opacity="0.52"/>
<rect x="178" y="1596.54" width="0.5" height="17.68" fill="#fff" fill-opacity="0.52"/>
<rect x="181.58" y="1596.54" width="0.68" height="17.68" fill="#fff" fill-opacity="0.33"/>
<rect x="184.97" y="1596.54" width="0.69" height="17.68" fill="#fff" fill-opacity="0.71"/>
<rect x="189.4" y="1596.54" width="9.5" height="17.68" fill="#E76BF3" fill-opacity="0.97"/>
<rect x="192.28" y="1596.54" width="1" height="17.68" fill="#fff" fill-opacity="0.32"/>
<rect x="201.2" y="1596.54" width="6.2" height="17.68" fill="#E76BF3" fill-opacity="0.92"/>
<rect x="203.98" y="1596.54" width="1.04" height="17.68" fill="#fff" fill-opacity="0.41"/>
<rect x="210.1" y="1596.54" width="11.1" height="17.68" fill="#E76BF3" fill-opacity="0.97"/>
<rect x="212.08" y="1596.54" width="1.1" height="17.68" fill="#fff" fill-opacity="0.57"/>
<rect x="215.94" y="1596.54" width="0.76" height="17.68" fill="#fff" fill-opacity="0.4"/>
<rect x="218.37" y="1596.54" width="0.56" height="17.68" fill="#fff" fill-opacity="0.71"/>
<rect x="224.7" y="1596.54" width="16.3" height="17.68" fill="#E76BF3" fill-opacity="0.92"/>
<rect x="228.04" y="1596.54" width="0.65" height="17.68" fill="#fff" fill-opacity="0.4"/>
<rect x="231.98" y="1596.54" width="0.61" height="17.68" fill="#fff" fill-opacity="0.46"/>
<rect x="237.44" y="1596.54" width="1.03" height="17.68" fill="#fff" fill-opacity="0.7"/>
<rect x="240.45" y="1596.54" width="1.1" height="17.68" fill="#E76BF3" fill-opacity="0.87"/>
<rect x="242.98" y="1596.54" width="1.1" height="17.68" fill="#E76BF3" fill-opacity="0.74"/>
<rect x="245.24" y="1596.54" width="1.1" height="17.68" fill="#E76BF3" fill-opacity="0.57"/>
<rect x="247.52" y="1596.54" width="1.1" height="17.68" fill="#E76BF3" fill-opacity="0.71"/>
<rect x="252.8" y="1596.54" width="1.2" height="17.68" fill="#E76BF3" fill-opacity="0.85"/>
<rect x="257.5" y="1596.54" width="1.2" height="17.68" fill="#E76BF3" fill-opacity="0.85"/>
<rect x="261.7" y="1596.54" width="7.9" height="17.68" fill="#E76BF3" fill-opacity="0.86"/>
<rect x="264.31" y="1596.54" width="0.67" height="17.68" fill="#fff" fill-opacity="0.28"/>
<rect x="275.7" y="1596.54" width="1.2" height="17.68" fill="#E76BF3" fill-opacity="0.85"/>
<rect x="283.75" y="1596.54" width="1.1" height="17.68" fill="#E76BF3" fill-opacity="0.59"/>
<rect x="285.72" y="1596.54" width="1.1" height="17.68" fill="#E76BF3" fill-opacity="0.67"/>
<rect x="291.3" y="1596.54" width="1.2" height="17.68" fill="#E76BF3" fill-opacity="0.85"/>
<rect x="299.1" y="1596.54" width="1.2" height="17.68" fill="#E76BF3" fill-opacity="0.85"/>
<rect x="304" y="1596.54" width="1.2" height="17.68" fill="#E76BF3" fill-opacity="0.85"/>
<rect x="309.3" y="1596.54" width="1.2" height="17.68" fill="#E76BF3" fill-opacity="0.85"/>
<rect x="317.8" y="1596.54" width="1.2" height="17.68" fill="#E76BF3" fill-opacity="0.85"/>
<rect x="319.9" y="1596.54" width="1.2" height="17.68" fill="#E76BF3" fill-opacity="0.85"/>
<rect x="326.1" y="1596.54" width="1.2" height="17.68" fill="#E76BF3" fill-opacity="0.85"/>
<rect x="335.3" y="1596.54" width="1.2" height="17.68" fill="#E76BF3" fill-opacity="0.85"/>
<rect x="340.3" y="1596.54" width="1.2" height="17.68" fill="#E76BF3" fill-opacity="0.85"/>
<rect x="358.3" y="1596.54" width="1.2" height="17.68" fill="#E76BF3" fill-opacity="0.85"/>
<rect x="418.4" y="1596.54" width="1.2" height="17.68" fill="#E76BF3" fill-opacity="0.85"/>
<rect x="427.7" y="1596.54" width="1.2" height="17.68" fill="#E76BF3" fill-opacity="0.85"/>
<rect x="432.2" y="1596.54" width="1.2" height="17.68" fill="#E76BF3" fill-opacity="0.85"/>
<rect x="436.6" y="1596.54" width="1.2" height="17.68" fill="#E76BF3" fill-opacity="0.85"/>
<rect x="431.7" y="1596.54" width="1.2" height="17.68" fill="#E76BF3" fill-opacity="0.85"/>
<rect x="437.1" y="1596.54" width="1.2" height="17.68" fill="#E76BF3" fill-opacity="0.85"/>
<rect x="478.9" y="1596.54" width="1.2" height="17.68" fill="#E76BF3" fill-opacity="0.85"/>
<rect x="483.4" y="1596.54" width="1.2" height="17.68" fill="#E76BF3" fill-opacity="0.85"/>
<rect x="529.8" y="1596.54" width="1.2" height="17.68" fill="#E76BF3" fill-opacity="0.85"/>
<rect x="537" y="1596.54" width="1.2" height="17.68" fill="#E76BF3" fill-opacity="0.85"/>
<rect x="560.8" y="1596.54" width="1.2" height="17.68" fill="#E76BF3" fill-opacity="0.85"/>
<rect x="563.8" y="1596.54" width="1.2" height="17.68" fill="#E76BF3" fill-opacity="0.85"/>
<rect x="626.8" y="1596.54" width="1.2" height="17.68" fill="#E76BF3" fill-opacity="0.85"/>
<rect x="633.6" y="1596.54" width="1.2" height="17.68" fill="#E76BF3" fill-opacity="0.85"/>
<rect x="645.4" y="1596.54" width="1.2" height="17.68" fill="#E76BF3" fill-opacity="0.85"/>
<rect x="173.8" y="1614.22" width="13.3" height="17.68" fill="#A3A500" fill-opacity="1"/>
<rect x="176.65" y="1614.22" width="1.09" height="17.68" fill="#fff" fill-opacity="0.39"/>
<rect x="181.53" y="1614.22" width="0.68" height="17.68" fill="#fff" fill-opacity="0.56"/>
<rect x="185.09" y="1614.22" width="0.6" height="17.68" fill="#fff" fill-opacity="0.34"/>
<rect x="189.4" y="1614.22" width="9.5" height="17.68" fill="#A3A500" fill-opacity="1"/>
<rect x="192.66" y="1614.22" width="0.8" height="17.68" fill="#fff" fill-opacity="0.37"/>
<rect x="201.2" y="1614.22" width="6.2" height="17.68" fill="#A3A500" fill-opacity="0.97"/>
<rect x="204.69" y="1614.22" width="0.77" height="17.68" fill="#fff" fill-opacity="0.33"/>
<rect x="210.1" y="1614.22" width="11.1" height="17.68" fill="#A3A500" fill-opacity="1"/>
<rect x="211.33" y="1614.22" width="0.71" height="17.68" fill="#fff" fill-opacity="0.3"/>
<rect x="214.37" y="1614.22" width="0.66" height="17.68" fill="#fff" fill-opacity="0.56"/>
<rect x="219.63" y="1614.22" width="0.95" height="17.68" fill="#fff" fill-opacity="0.48"/>
<rect x="224.7" y="1614.22" width="23.7" height="17.68" fill="#A3A500" fill-opacity="0.86"/>
<rect x="227.01" y="1614.22" width="0.73" height="17.68" fill="#fff" fill-opacity="0.44"/>
<rect x="229.45" y="1614.22" width="0.67" height="17.68" fill="#fff" fill-opacity="0.78"/>
<rect x="232.06" y="1614.22" width="0.8" height="17.68" fill="#fff" fill-opacity="0.6"/>
<rect x="237.38" y="1614.22" width="0.63" height="17.68" fill="#fff" fill-opacity="0.4"/>
<rect x="240.38" y="1614.22" width="0.74" height="17.68" fill="#fff" fill-opacity="0.5"/>
<rect x="245.96" y="1614.22" width="1.01" height="17.68" fill="#fff" fill-opacity="0.73"/>
<rect x="250.65" y="1614.22" width="1.1" height="17.68" fill="#A3A500" fill-opacity="0.56"/>
<rect x="252.9" y="1614.22" width="1.1" height="17.68" fill="#A3A500" fill-opacity="0.86"/>
<rect x="254.87" y="1614.22" width="1.1" height="17.68" fill="#A3A500" fill-opacity="0.76"/>
<rect x="256.27" y="1614.22" width="1.1" height="17.68" fill="#A3A500" fill-opacity="0.69"/>
<rect x="261.7" y="1614.22" width="8.5" height="17.68" fill="#A3A500" fill-opacity="0.92"/>
<rect x="264.76" y="1614.22" width="1.01" height="17.68" fill="#fff" fill-opacity="0.78"/>
<rect x="268.15" y="1614.22" width="0.57" height="17.68" fill="#fff" fill-opacity="0.33"/>
<rect x="275.7" y="1614.22" width="1.2" height="17.68" fill="#A3A500" fill-opacity="0.85"/>
<rect x="283.75" y="1614.22" width="1.1" height="17.68" fill="#A3A500" fill-opacity="0.79"/>
<rect x="286.28" y="1614.22" width="1.1" height="17.68" fill="#A3A500" fill-opacity="0.8"/>
<rect x="291.3" y="1614.22" width="1.2" height="17.68" fill="#A3A500" fill-opacity="0.85"/>
<rect x="299.1" y="1614.22" width="1.2" height="17.68" fill="#A3A500" fill-opacity="0.85"/>
<rect x="304" y="1614.22" width="1.2" height="17.68" fill="#A3A500" fill-opacity="0.85"/>
<rect x="309.3" y="1614.22" width="1.2" height="17.68" fill="#A3A500" fill-opacity="0.85"/>
<rect x="317.8" y="1614.22" width="1.2" height="17.68" fill="#A3A500" fill-opacity="0.85"/>
<rect x="319.9" y="1614.22" width="1.2" height="17.68" fill="#A3A500" fill-opacity="0.85"/>
<rect x="322.9" y="1614.22" width="1.2" height="17.68" fill="#A3A500" fill-opacity="0.85"/>
<rect x="326.1" y="1614.22" width="1.2" height="17.68" fill="#A3A500" fill-opacity="0.85"/>
<rect x="335.3" y="1614.22" width="1.2" height="17.68" fill="#A3A500" fill-opacity="0.85"/>
<rect x="340.3" y="1614.22" width="1.2" height="17.68" fill="#A3A500" fill-opacity="0.85"/>
<rect x="347.7" y="1614.22" width="1.2" height="17.68" fill="#A3A500" fill-opacity="0.85"/>
<rect x="358.3" y="1614.22" width="1.2" height="17.68" fill="#A3A500" fill-opacity="0.85"/>
<rect x="401.2" y="1614.22" width="1.2" height="17.68" fill="#A3A500" fill-opacity="0.85"/>
<rect x="418.4" y="1614.22" width="1.2" height="17.68" fill="#A3A500" fill-opacity="0.85"/>
<rect x="427.7" y="1614.22" width="1.2" height="17.68" fill="#A3A500" fill-opacity="0.85"/>
<rect x="432.2" y="1614.22" width="1.2" height="17.68" fill="#A3A500" fill-opacity="0.85"/>
<rect x="437.1" y="1614.22" width="1.2" height="17.68" fill="#A3A500" fill-opacity="0.85"/>
<rect x="431.7" y="1614.22" width="1.2" height="17.68" fill="#A3A500" fill-opacity="0.85"/>
<rect x="478.9" y="1614.22" width="1.2" height="17.68" fill="#A3A500" fill-opacity="0.85"/>
<rect x="483.4" y="1614.22" width="1.2" height="17.68" fill="#A3A500" fill-opacity="0.85"/>
<rect x="529.8" y="1614.22" width="1.2" height="17.68" fill="#A3A500" fill-opacity="0.85"/>
<rect x="535.2" y="1614.22" width="1.2" height="17.68" fill="#A3A500" fill-opacity="0.85"/>
<rect x="537" y="1614.22" width="1.2" height="17.68" fill="#A3A500" fill-opacity="0.85"/>
<rect x="555.9" y="1614.22" width="1.2" height="17.68" fill="#A3A500" fill-opacity="0.85"/>
<rect x="560.8" y="1614.22" width="1.2" height="17.68" fill="#A3A500" fill-opacity="0.85"/>
<rect x="563.8" y="1614.22" width="1.2" height="17.68" fill="#A3A500" fill-opacity="0.85"/>
<rect x="572.8" y="1614.22" width="1.2" height="17.68" fill="#A3A500" fill-opacity="0.85"/>
<rect x="593.5" y="1614.22" width="1.2" height="17.68" fill="#A3A500" fill-opacity="0.85"/>
<rect x="626.8" y="1614.22" width="1.2" height="17.68" fill="#A3A500" fill-opacity="0.85"/>
<rect x="633.6" y="1614.22" width="1.2" height="17.68" fill="#A3A500" fill-opacity="0.85"/>
<rect x="645.4" y="1614.22" width="1.2" height="17.68" fill="#A3A500" fill-opacity="0.85"/>
<line x1="171.9" y1="1543.5" x2="171.9" y2="1631.9" stroke="#4D4D4D" stroke-width="1.2"/>
<line x1="264.5" y1="1633.5" x2="264.5" y2="1810.9" stroke="#EBEBEB" stroke-width="1"/>
<line x1="356.2" y1="1633.5" x2="356.2" y2="1810.9" stroke="#EBEBEB" stroke-width="1"/>
<line x1="448.4" y1="1633.5" x2="448.4" y2="1810.9" stroke="#EBEBEB" stroke-width="1"/>
<line x1="540.3" y1="1633.5" x2="540.3" y2="1810.9" stroke="#EBEBEB" stroke-width="1"/>
<line x1="632.5" y1="1633.5" x2="632.5" y2="1810.9" stroke="#EBEBEB" stroke-width="1"/>
<polygon points="171.9,1707.6 172.2,1664 172.9,1672.4 174.5,1677.5 175.77,1679.97 177.03,1681.9 178.3,1683.4 179.48,1684.52 180.65,1685.46 181.82,1686.27 183,1687 184.05,1687.6 185.1,1688.16 186.15,1688.68 187.2,1689.16 188.25,1689.6 189.3,1690 190.37,1690.37 191.44,1690.72 192.51,1691.05 193.58,1691.36 194.65,1691.66 195.72,1691.94 196.79,1692.21 197.86,1692.48 198.93,1692.74 200,1693 201.01,1693.24 202.02,1693.48 203.03,1693.72 204.04,1693.95 205.05,1694.18 206.05,1694.4 207.06,1694.61 208.07,1694.82 209.08,1695.02 210.09,1695.21 211.1,1695.4 212.14,1695.59 213.18,1695.77 214.22,1695.95 215.26,1696.13 216.3,1696.31 217.33,1696.48 218.37,1696.65 219.41,1696.82 220.45,1696.98 221.49,1697.14 222.53,1697.3 223.57,1697.46 224.61,1697.61 225.65,1697.76 226.69,1697.91 227.73,1698.05 228.77,1698.2 229.8,1698.34 230.84,1698.47 231.88,1698.61 232.92,1698.74 233.96,1698.87 235,1699 236.02,1699.12 237.05,1699.25 238.07,1699.37 239.1,1699.49 240.12,1699.61 241.14,1699.72 242.17,1699.84 243.19,1699.96 244.22,1700.07 245.24,1700.18 246.27,1700.29 247.29,1700.4 248.31,1700.51 249.34,1700.61 250.36,1700.72 251.39,1700.82 252.41,1700.92 253.43,1701.02 254.46,1701.12 255.48,1701.21 256.51,1701.31 257.53,1701.4 258.56,1701.49 259.58,1701.58 260.6,1701.67 261.63,1701.75 262.65,1701.84 263.68,1701.92 264.7,1702 265.72,1702.08 266.75,1702.16 267.77,1702.23 268.8,1702.31 269.82,1702.38 270.85,1702.46 271.87,1702.53 272.89,1702.6 273.92,1702.67 274.94,1702.74 275.97,1702.81 276.99,1702.88 278.02,1702.95 279.04,1703.01 280.06,1703.08 281.09,1703.14 282.11,1703.2 283.14,1703.27 284.16,1703.33 285.18,1703.39 286.21,1703.45 287.23,1703.51 288.26,1703.57 289.28,1703.62 290.31,1703.68 291.33,1703.73 292.35,1703.79 293.38,1703.84 294.4,1703.9 295.43,1703.95 296.45,1704 297.48,1704.05 298.5,1704.1 299.52,1704.15 300.53,1704.2 301.55,1704.25 302.56,1704.29 303.58,1704.34 304.59,1704.39 305.61,1704.43 306.63,1704.48 307.64,1704.53 308.66,1704.57 309.67,1704.62 310.69,1704.66 311.71,1704.71 312.72,1704.75 313.74,1704.8 314.75,1704.84 315.77,1704.88 316.78,1704.93 317.8,1704.97 318.82,1705.01 319.83,1705.05 320.85,1705.1 321.86,1705.14 322.88,1705.18 323.89,1705.22 324.91,1705.26 325.93,1705.3 326.94,1705.34 327.96,1705.38 328.97,1705.42 329.99,1705.45 331.01,1705.49 332.02,1705.53 333.04,1705.57 334.05,1705.6 335.07,1705.64 336.08,1705.67 337.1,1705.71 338.12,1705.74 339.13,1705.78 340.15,1705.81 341.16,1705.85 342.18,1705.88 343.19,1705.91 344.21,1705.95 345.23,1705.98 346.24,1706.01 347.26,1706.04 348.27,1706.07 349.29,1706.1 350.31,1706.13 351.32,1706.16 352.34,1706.19 353.35,1706.22 354.37,1706.25 355.38,1706.27 356.4,1706.3 357.41,1706.33 358.43,1706.35 359.44,1706.38 360.46,1706.41 361.47,1706.43 362.48,1706.46 363.5,1706.48 364.51,1706.51 365.53,1706.53 366.54,1706.56 367.55,1706.58 368.57,1706.61 369.58,1706.63 370.6,1706.66 371.61,1706.68 372.62,1706.7 373.64,1706.73 374.65,1706.75 375.67,1706.77 376.68,1706.8 377.69,1706.82 378.71,1706.84 379.72,1706.86 380.73,1706.88 381.75,1706.9 382.76,1706.92 383.78,1706.94 384.79,1706.96 385.8,1706.98 386.82,1707 387.83,1707.02 388.85,1707.04 389.86,1707.05 390.87,1707.07 391.89,1707.09 392.9,1707.1 393.92,1707.12 394.93,1707.13 395.94,1707.15 396.96,1707.16 397.97,1707.17 398.99,1707.19 400,1707.2 401,1707.21 402,1707.22 403,1707.23 404,1707.25 405,1707.26 406,1707.27 407,1707.28 408,1707.29 409,1707.3 410,1707.31 411,1707.32 412,1707.32 413,1707.33 414,1707.34 415,1707.35 416,1707.36 417,1707.37 418,1707.38 419,1707.38 420,1707.39 421,1707.4 422,1707.41 423,1707.41 424,1707.42 425,1707.43 426,1707.44 427,1707.44 428,1707.45 429,1707.46 430,1707.47 431,1707.47 432,1707.48 433,1707.49 434,1707.49 435,1707.5 436,1707.51 437,1707.52 438,1707.52 439,1707.53 440,1707.54 441,1707.54 442,1707.55 443,1707.56 444,1707.57 445,1707.58 446,1707.58 447,1707.59 448,1707.6 490,1708.2 491,1708.22 492.01,1708.23 493.01,1708.25 494.02,1708.26 495.02,1708.28 496.02,1708.29 497.03,1708.31 498.03,1708.32 499.04,1708.34 500.04,1708.35 501.04,1708.36 502.05,1708.38 503.05,1708.39 504.06,1708.41 505.06,1708.42 506.06,1708.43 507.07,1708.45 508.07,1708.46 509.08,1708.48 510.08,1708.49 511.08,1708.5 512.09,1708.52 513.09,1708.53 514.1,1708.55 515.1,1708.56 516.1,1708.58 517.11,1708.59 518.11,1708.61 519.12,1708.62 520.12,1708.64 521.12,1708.65 522.13,1708.67 523.13,1708.68 524.14,1708.7 525.14,1708.71 526.14,1708.73 527.15,1708.75 528.15,1708.76 529.16,1708.78 530.16,1708.8 531.16,1708.82 532.17,1708.84 533.17,1708.86 534.18,1708.88 535.18,1708.89 536.18,1708.91 537.19,1708.94 538.19,1708.96 539.2,1708.98 540.2,1709 541.22,1709.02 542.23,1709.05 543.25,1709.07 544.27,1709.1 545.28,1709.12 546.3,1709.15 547.31,1709.18 548.33,1709.21 549.35,1709.24 550.36,1709.26 551.38,1709.3 552.4,1709.33 553.41,1709.36 554.43,1709.39 555.44,1709.42 556.46,1709.46 557.48,1709.49 558.49,1709.53 559.51,1709.56 560.53,1709.6 561.54,1709.63 562.56,1709.67 563.58,1709.71 564.59,1709.75 565.61,1709.79 566.62,1709.82 567.64,1709.86 568.66,1709.9 569.67,1709.94 570.69,1709.98 571.71,1710.02 572.72,1710.07 573.74,1710.11 574.76,1710.15 575.77,1710.19 576.79,1710.23 577.8,1710.28 578.82,1710.32 579.84,1710.36 580.85,1710.4 581.87,1710.45 582.89,1710.49 583.9,1710.54 584.92,1710.58 585.93,1710.62 586.95,1710.67 587.97,1710.71 588.98,1710.76 590,1710.8 591.01,1710.84 592.02,1710.89 593.04,1710.93 594.05,1710.97 595.06,1711.01 596.07,1711.06 597.08,1711.1 598.1,1711.14 599.11,1711.18 600.12,1711.22 601.13,1711.27 602.14,1711.31 603.15,1711.35 604.17,1711.39 605.18,1711.44 606.19,1711.48 607.2,1711.53 608.21,1711.57 609.23,1711.62 610.24,1711.67 611.25,1711.72 612.26,1711.76 613.27,1711.82 614.29,1711.87 615.3,1711.92 616.31,1711.97 617.32,1712.03 618.33,1712.09 619.35,1712.15 620.36,1712.21 621.37,1712.27 622.38,1712.34 623.39,1712.4 624.4,1712.47 625.42,1712.54 626.43,1712.61 627.44,1712.69 628.45,1712.77 629.46,1712.85 630.48,1712.93 631.49,1713.01 632.5,1713.1 633.53,1713.2 634.56,1713.31 635.59,1713.43 636.62,1713.56 637.65,1713.71 638.68,1713.86 639.71,1714.03 640.74,1714.2 641.76,1714.38 642.79,1714.57 643.82,1714.76 644.85,1714.96 645.88,1715.16 646.91,1715.37 647.94,1715.58 648.97,1715.79 650,1716 651.03,1716.22 652.06,1716.45 653.09,1716.69 654.11,1716.94 655.14,1717.19 656.17,1717.46 657.2,1717.74 658.23,1718.03 659.26,1718.32 660.29,1718.62 661.31,1718.93 662.34,1719.25 663.37,1719.57 664.4,1719.9 665.45,1720.25 666.51,1720.61 667.56,1720.98 668.62,1721.36 669.67,1721.76 670.73,1722.17 671.78,1722.6 672.84,1723.05 673.89,1723.51 674.95,1724 676,1724.5 677,1725 678,1725.51 679,1726.05 680,1726.62 681,1727.21 682,1727.84 683,1728.5 684,1729.19 685,1729.92 686,1730.7 687,1731.52 688,1732.4 689,1733.36 690,1734.43 691,1735.64 692,1737 693.13,1738.97 694.27,1741.44 695.4,1744.2 696.7,1747.38 698,1752 699.5,1765.7 700.3,1785 700.9,1803.5 700.9,1707.6" fill="#BEBEBE" stroke="none"/>
<line x1="171.9" y1="1707.6" x2="700.9" y2="1707.6" stroke="#C4C4C4" stroke-width="0.9"/>
<line x1="171.9" y1="1633.5" x2="171.9" y2="1810.9" stroke="#4D4D4D" stroke-width="1.2"/>
<line x1="171.3" y1="1810.9" x2="700.9" y2="1810.9" stroke="#4D4D4D" stroke-width="1.2"/>
<line x1="169.9" y1="1658.2" x2="171.9" y2="1658.2" stroke="#4D4D4D" stroke-width="1.1"/>
<text x="166" y="1666.5" font-size="23.6" fill="#4D4D4D" text-anchor="end">1</text>
<line x1="169.9" y1="1707.4" x2="171.9" y2="1707.4" stroke="#4D4D4D" stroke-width="1.1"/>
<text x="166" y="1715.7" font-size="23.6" fill="#4D4D4D" text-anchor="end">0</text>
<line x1="169.9" y1="1756.6" x2="171.9" y2="1756.6" stroke="#4D4D4D" stroke-width="1.1"/>
<text x="166" y="1764.9" font-size="23.6" fill="#4D4D4D" text-anchor="end">−1</text>
<line x1="169.9" y1="1805.7" x2="171.9" y2="1805.7" stroke="#4D4D4D" stroke-width="1.1"/>
<text x="166" y="1814" font-size="23.6" fill="#4D4D4D" text-anchor="end">−2</text>
<line x1="356.2" y1="1810.9" x2="356.2" y2="1812.9" stroke="#4D4D4D" stroke-width="1.1"/>
<text x="354.8" y="1833.6" font-size="23.6" fill="#4D4D4D" text-anchor="middle">5000</text>
<line x1="540.3" y1="1810.9" x2="540.3" y2="1812.9" stroke="#4D4D4D" stroke-width="1.1"/>
<text x="544.5" y="1833.6" font-size="23.6" fill="#4D4D4D" text-anchor="middle">10000</text>
<text x="313.46" y="1853.9" font-size="23.6" fill="#000" text-anchor="start">Rank in Ordered Dataset</text>
<text x="0" y="0" font-size="23.6" fill="#000" text-anchor="middle" transform="translate(114.7,1436) rotate(-90)">Running Enrichment Score</text>
<text x="0" y="0" font-size="23.6" fill="#000" text-anchor="middle" transform="translate(115,1726.5) rotate(-90)">Ranked List Metric</text>
</g>
<g>
<text x="0" y="0" font-size="48.5" fill="#000" text-anchor="start" transform="translate(2.22,1885.2) scale(1,1.03)">D</text>
<line x1="262.6" y1="1899.2" x2="262.6" y2="2166.6" stroke="#EBEBEB" stroke-width="1"/>
<line x1="356.3" y1="1899.2" x2="356.3" y2="2166.6" stroke="#EBEBEB" stroke-width="1"/>
<line x1="449.4" y1="1899.2" x2="449.4" y2="2166.6" stroke="#EBEBEB" stroke-width="1"/>
<line x1="542.6" y1="1899.2" x2="542.6" y2="2166.6" stroke="#EBEBEB" stroke-width="1"/>
<line x1="636.1" y1="1899.2" x2="636.1" y2="2166.6" stroke="#EBEBEB" stroke-width="1"/>
<polyline points="169.5,2126.1 170.5,2060 171.8,2020.8 177.6,2023.7 179.5,1999.5 181.9,1989.9 182.4,1971.5 183.4,1961.4 188.2,1963.8 188.7,1946.4 201.7,1952.2 202.2,1945.4 205.1,1947.3 205.6,1941.1 225.9,1950.2 226.4,1945.4 234.6,1949.8 235,1945.4 245,1950.2 314.3,1983.2 332.3,1988.6 362,2002.5 383.6,2011.5 480,2057 542.7,2085.4 574.4,2101.2 625.7,2120.8 626,2117 640,2123 641,2119.5 655,2125.5 658.7,2126.9 679.4,2133 680,2129 691.6,2130.5 705.6,2126.1" fill="none" stroke="#F8766D" stroke-width="1.4" stroke-linejoin="round"/>
<polyline points="169.5,2126.1 171.3,2078.7 172.7,2024.6 178,2025.6 179.5,2004.3 182.4,2005.3 182.9,1977.3 188.2,1979.2 188.7,1961.4 200.7,1966.7 201.2,1961.8 205.1,1962.8 206.1,1956.5 225.9,1965.7 226.4,1961.4 281.9,1988.1 303.5,1995.8 329.6,2003.7 344,2008.4 362,2016 383.6,2024.1 414.1,2035.4 480,2067.3 542.7,2093.9 574.4,2108.6 625.7,2125.7 626,2121.5 640,2128 641,2124 658.7,2133 679.4,2133 679.9,2124.9 691.2,2130.5 691.6,2119.5 705.6,2126.1" fill="none" stroke="#A3A500" stroke-width="1.4" stroke-linejoin="round"/>
<polyline points="169.5,2126.1 169.8,2102.9 172.7,2059.4 174.7,2053.6 176.6,2046.9 179,2044.9 180.9,2028.5 182.9,2019.8 184.3,2015.9 188.7,2017.9 189.6,2007.2 193,2007.2 195,1999.5 198.8,1997.6 202.2,1990.8 205.6,1991.8 206.5,1989.4 225.9,1998.6 226.4,1996.6 239.6,2003 262.1,2012.7 270.2,2010.2 278.3,2013.8 282.8,2012 300.8,2016 309.8,2019.2 327.8,2027.7 353,2035.4 383.6,2049.3 421.3,2066.4 480,2093.3 542.7,2119.5 569.5,2133 617.2,2150.1 625,2152 632,2149 642.8,2151.3 645.2,2146.4 660,2150 674.6,2154.2 679.4,2146.9 691.2,2152.5 691.6,2138.6 697,2140.3 699,2124.4 705.6,2126.1" fill="none" stroke="#00BF7D" stroke-width="1.4" stroke-linejoin="round"/>
<polyline points="169.5,2126.1 169.8,2078.7 171.3,2023.7 177.1,2025.6 177.6,1998.6 179.5,1986 182.4,1987 182.4,1975.4 189.6,1979.2 189.9,1968.6 202.7,1974.9 203.2,1967.6 205.6,1965.7 206.5,1937.2 210.4,1938.6 210.9,1931.9 220.6,1936.7 221,1930.4 256.7,1947.6 259.4,1941.6 277.4,1949.9 302.6,1958.4 344.9,1977.6 348.5,1975.5 377.3,1988.6 414.1,2005.5 480,2037.2 542.7,2065.8 606.2,2092.7 607,2090 631.8,2102.9 634.3,2097.6 655,2106.8 655.5,2102.5 705.6,2126.1" fill="none" stroke="#00B0F6" stroke-width="1.4" stroke-linejoin="round"/>
<polyline points="169.5,2126.1 170.3,2128 171.8,2122.2 173.7,2102.9 175.6,2076.8 177.6,2044.9 179.5,2028.5 182.4,2019.8 183.8,2008.2 186.7,2002.4 189.2,1988.9 191.1,1981.2 194,1970.5 195.9,1965.7 199.8,1966.7 201.2,1960.9 204.6,1952.2 207.5,1954.1 210.4,1941.5 213.3,1937.7 217.2,1925.1 223,1927.1 225.9,1920.3 231.7,1915.5 235.5,1913.5 239.4,1911.1 254,1917.9 261.2,1920.2 263.9,1917.9 283.7,1927.4 303.5,1935.9 356.2,1959.3 449.4,2003.4 542.7,2047.5 636.2,2093.9 705.6,2125.7" fill="none" stroke="#E76BF3" stroke-width="1.4" stroke-linejoin="round"/>
<line x1="169.4" y1="1899.2" x2="169.4" y2="2166.6" stroke="#4D4D4D" stroke-width="1.2"/>
<line x1="167.4" y1="1919" x2="169.4" y2="1919" stroke="#4D4D4D" stroke-width="1.1"/>
<text x="165.5" y="1927.4" font-size="23.9" fill="#4D4D4D" text-anchor="end">0.8</text>
<line x1="167.4" y1="1971.1" x2="169.4" y2="1971.1" stroke="#4D4D4D" stroke-width="1.1"/>
<text x="165.5" y="1979.5" font-size="23.9" fill="#4D4D4D" text-anchor="end">0.6</text>
<line x1="167.4" y1="2023.1" x2="169.4" y2="2023.1" stroke="#4D4D4D" stroke-width="1.1"/>
<text x="165.5" y="2031.5" font-size="23.9" fill="#4D4D4D" text-anchor="end">0.4</text>
<line x1="167.4" y1="2074.7" x2="169.4" y2="2074.7" stroke="#4D4D4D" stroke-width="1.1"/>
<text x="165.5" y="2083.1" font-size="23.9" fill="#4D4D4D" text-anchor="end">0.2</text>
<line x1="167.4" y1="2126.1" x2="169.4" y2="2126.1" stroke="#4D4D4D" stroke-width="1.1"/>
<text x="165.5" y="2134.5" font-size="23.9" fill="#4D4D4D" text-anchor="end">0.0</text>
<rect x="170.4" y="2169" width="3.1" height="17.82" fill="#A3A500" fill-opacity="0.92"/>
<rect x="178.5" y="2169" width="1" height="17.82" fill="#A3A500" fill-opacity="0.92"/>
<rect x="181.6" y="2169" width="2.3" height="17.82" fill="#A3A500" fill-opacity="0.76"/>
<rect x="188.2" y="2169" width="1.2" height="17.82" fill="#A3A500" fill-opacity="0.85"/>
<rect x="201.1" y="2169" width="1.2" height="17.82" fill="#A3A500" fill-opacity="0.85"/>
<rect x="205.8" y="2169" width="1.2" height="17.82" fill="#A3A500" fill-opacity="0.85"/>
<rect x="225.4" y="2169" width="1.2" height="17.82" fill="#A3A500" fill-opacity="0.85"/>
<rect x="281.2" y="2169" width="1.2" height="17.82" fill="#A3A500" fill-opacity="0.85"/>
<rect x="302.8" y="2169" width="1.2" height="17.82" fill="#A3A500" fill-opacity="0.85"/>
<rect x="313.4" y="2169" width="1.2" height="17.82" fill="#A3A500" fill-opacity="0.85"/>
<rect x="322.3" y="2169" width="1.2" height="17.82" fill="#A3A500" fill-opacity="0.85"/>
<rect x="328" y="2169" width="1.2" height="17.82" fill="#A3A500" fill-opacity="0.85"/>
<rect x="331.3" y="2169" width="1.2" height="17.82" fill="#A3A500" fill-opacity="0.85"/>
<rect x="343.3" y="2169" width="1.2" height="17.82" fill="#A3A500" fill-opacity="0.85"/>
<rect x="362.2" y="2169" width="1.2" height="17.82" fill="#A3A500" fill-opacity="0.85"/>
<rect x="367.8" y="2169" width="1.2" height="17.82" fill="#A3A500" fill-opacity="0.85"/>
<rect x="375.3" y="2169" width="1.2" height="17.82" fill="#A3A500" fill-opacity="0.85"/>
<rect x="383.4" y="2169" width="1.2" height="17.82" fill="#A3A500" fill-opacity="0.85"/>
<rect x="398.4" y="2169" width="1.2" height="17.82" fill="#A3A500" fill-opacity="0.85"/>
<rect x="404.5" y="2169" width="1.2" height="17.82" fill="#A3A500" fill-opacity="0.85"/>
<rect x="410.5" y="2169" width="3.2" height="17.82" fill="#A3A500" fill-opacity="0.86"/>
<rect x="411.6" y="2169" width="0.97" height="17.82" fill="#fff" fill-opacity="0.38"/>
<rect x="428.1" y="2169" width="1.2" height="17.82" fill="#A3A500" fill-opacity="0.85"/>
<rect x="456.4" y="2169" width="1.2" height="17.82" fill="#A3A500" fill-opacity="0.85"/>
<rect x="492" y="2169" width="1.2" height="17.82" fill="#A3A500" fill-opacity="0.85"/>
<rect x="501.4" y="2169" width="1.2" height="17.82" fill="#A3A500" fill-opacity="0.85"/>
<rect x="519.4" y="2169" width="1.2" height="17.82" fill="#A3A500" fill-opacity="0.85"/>
<rect x="535.9" y="2169" width="1.2" height="17.82" fill="#A3A500" fill-opacity="0.85"/>
<rect x="546.4" y="2169" width="1.2" height="17.82" fill="#A3A500" fill-opacity="0.85"/>
<rect x="574.3" y="2169" width="1.2" height="17.82" fill="#A3A500" fill-opacity="0.85"/>
<rect x="580" y="2169" width="1.2" height="17.82" fill="#A3A500" fill-opacity="0.85"/>
<rect x="586" y="2169" width="1.2" height="17.82" fill="#A3A500" fill-opacity="0.85"/>
<rect x="597.7" y="2169" width="1.2" height="17.82" fill="#A3A500" fill-opacity="0.85"/>
<rect x="624.6" y="2169" width="1.2" height="17.82" fill="#A3A500" fill-opacity="0.85"/>
<rect x="633.6" y="2169" width="1.2" height="17.82" fill="#A3A500" fill-opacity="0.85"/>
<rect x="643.5" y="2169" width="1.2" height="17.82" fill="#A3A500" fill-opacity="0.85"/>
<rect x="658.3" y="2169" width="1.2" height="17.82" fill="#A3A500" fill-opacity="0.85"/>
<rect x="666" y="2169" width="1.2" height="17.82" fill="#A3A500" fill-opacity="0.85"/>
<rect x="679.2" y="2169" width="1.2" height="17.82" fill="#A3A500" fill-opacity="0.85"/>
<rect x="690.7" y="2169" width="1.2" height="17.82" fill="#A3A500" fill-opacity="0.85"/>
<rect x="170.4" y="2186.82" width="3.1" height="17.82" fill="#00BF7D" fill-opacity="0.92"/>
<rect x="174.75" y="2186.82" width="1.1" height="17.82" fill="#00BF7D" fill-opacity="0.66"/>
<rect x="176.3" y="2186.82" width="1.1" height="17.82" fill="#00BF7D" fill-opacity="0.64"/>
<rect x="178.47" y="2186.82" width="1.1" height="17.82" fill="#00BF7D" fill-opacity="0.79"/>
<rect x="180" y="2186.82" width="1.1" height="17.82" fill="#00BF7D" fill-opacity="0.57"/>
<rect x="182.03" y="2186.82" width="1.1" height="17.82" fill="#00BF7D" fill-opacity="0.75"/>
<rect x="188.8" y="2186.82" width="1.3" height="17.82" fill="#00BF7D" fill-opacity="0.86"/>
<rect x="192.4" y="2186.82" width="1.8" height="17.82" fill="#00BF7D" fill-opacity="0.76"/>
<rect x="196.7" y="2186.82" width="1.2" height="17.82" fill="#00BF7D" fill-opacity="0.85"/>
<rect x="200.5" y="2186.82" width="2.3" height="17.82" fill="#00BF7D" fill-opacity="0.76"/>
<rect x="201.53" y="2186.82" width="0.68" height="17.82" fill="#fff" fill-opacity="0.5"/>
<rect x="205.8" y="2186.82" width="1.2" height="17.82" fill="#00BF7D" fill-opacity="0.85"/>
<rect x="225.4" y="2186.82" width="1.2" height="17.82" fill="#00BF7D" fill-opacity="0.85"/>
<rect x="239.5" y="2186.82" width="1.2" height="17.82" fill="#00BF7D" fill-opacity="0.85"/>
<rect x="262.05" y="2186.82" width="1.1" height="17.82" fill="#00BF7D" fill-opacity="0.78"/>
<rect x="264.51" y="2186.82" width="1.1" height="17.82" fill="#00BF7D" fill-opacity="0.72"/>
<rect x="266.19" y="2186.82" width="1.1" height="17.82" fill="#00BF7D" fill-opacity="0.64"/>
<rect x="268.74" y="2186.82" width="1.1" height="17.82" fill="#00BF7D" fill-opacity="0.8"/>
<rect x="277.85" y="2186.82" width="1.1" height="17.82" fill="#00BF7D" fill-opacity="0.56"/>
<rect x="279.85" y="2186.82" width="1.1" height="17.82" fill="#00BF7D" fill-opacity="0.79"/>
<rect x="281.75" y="2186.82" width="1.1" height="17.82" fill="#00BF7D" fill-opacity="0.64"/>
<rect x="284.8" y="2186.82" width="1.2" height="17.82" fill="#00BF7D" fill-opacity="0.85"/>
<rect x="290.4" y="2186.82" width="1.2" height="17.82" fill="#00BF7D" fill-opacity="0.85"/>
<rect x="294.05" y="2186.82" width="1.1" height="17.82" fill="#00BF7D" fill-opacity="0.87"/>
<rect x="295.72" y="2186.82" width="1.1" height="17.82" fill="#00BF7D" fill-opacity="0.56"/>
<rect x="297.53" y="2186.82" width="1.1" height="17.82" fill="#00BF7D" fill-opacity="0.7"/>
<rect x="301.9" y="2186.82" width="1.2" height="17.82" fill="#00BF7D" fill-opacity="0.85"/>
<rect x="308.8" y="2186.82" width="1.2" height="17.82" fill="#00BF7D" fill-opacity="0.85"/>
<rect x="327.75" y="2186.82" width="1.1" height="17.82" fill="#00BF7D" fill-opacity="0.62"/>
<rect x="330.11" y="2186.82" width="1.1" height="17.82" fill="#00BF7D" fill-opacity="0.81"/>
<rect x="332.11" y="2186.82" width="1.1" height="17.82" fill="#00BF7D" fill-opacity="0.62"/>
<rect x="334.68" y="2186.82" width="1.1" height="17.82" fill="#00BF7D" fill-opacity="0.66"/>
<rect x="343" y="2186.82" width="1.2" height="17.82" fill="#00BF7D" fill-opacity="0.85"/>
<rect x="348" y="2186.82" width="1.2" height="17.82" fill="#00BF7D" fill-opacity="0.85"/>
<rect x="351.6" y="2186.82" width="1.2" height="17.82" fill="#00BF7D" fill-opacity="0.85"/>
<rect x="362.2" y="2186.82" width="1.2" height="17.82" fill="#00BF7D" fill-opacity="0.85"/>
<rect x="367.8" y="2186.82" width="1.2" height="17.82" fill="#00BF7D" fill-opacity="0.85"/>
<rect x="383.4" y="2186.82" width="1.2" height="17.82" fill="#00BF7D" fill-opacity="0.85"/>
<rect x="386.5" y="2186.82" width="1.2" height="17.82" fill="#00BF7D" fill-opacity="0.85"/>
<rect x="389.4" y="2186.82" width="1.2" height="17.82" fill="#00BF7D" fill-opacity="0.85"/>
<rect x="393" y="2186.82" width="1.2" height="17.82" fill="#00BF7D" fill-opacity="0.85"/>
<rect x="421.6" y="2186.82" width="1.2" height="17.82" fill="#00BF7D" fill-opacity="0.85"/>
<rect x="425.75" y="2186.82" width="1.1" height="17.82" fill="#00BF7D" fill-opacity="0.63"/>
<rect x="427.42" y="2186.82" width="1.1" height="17.82" fill="#00BF7D" fill-opacity="0.82"/>
<rect x="431.6" y="2186.82" width="1.2" height="17.82" fill="#00BF7D" fill-opacity="0.85"/>
<rect x="441.2" y="2186.82" width="3.6" height="17.82" fill="#00BF7D" fill-opacity="0.76"/>
<rect x="448.3" y="2186.82" width="1.2" height="17.82" fill="#00BF7D" fill-opacity="0.85"/>
<rect x="451.45" y="2186.82" width="1.1" height="17.82" fill="#00BF7D" fill-opacity="0.72"/>
<rect x="453.07" y="2186.82" width="1.1" height="17.82" fill="#00BF7D" fill-opacity="0.63"/>
<rect x="463.65" y="2186.82" width="1.1" height="17.82" fill="#00BF7D" fill-opacity="0.78"/>
<rect x="466.19" y="2186.82" width="1.1" height="17.82" fill="#00BF7D" fill-opacity="0.6"/>
<rect x="469.9" y="2186.82" width="1.2" height="17.82" fill="#00BF7D" fill-opacity="0.85"/>
<rect x="476.5" y="2186.82" width="1.2" height="17.82" fill="#00BF7D" fill-opacity="0.85"/>
<rect x="482.8" y="2186.82" width="1.2" height="17.82" fill="#00BF7D" fill-opacity="0.85"/>
<rect x="492" y="2186.82" width="1.2" height="17.82" fill="#00BF7D" fill-opacity="0.85"/>
<rect x="505" y="2186.82" width="1.2" height="17.82" fill="#00BF7D" fill-opacity="0.85"/>
<rect x="508" y="2186.82" width="1.2" height="17.82" fill="#00BF7D" fill-opacity="0.85"/>
<rect x="520.6" y="2186.82" width="1.2" height="17.82" fill="#00BF7D" fill-opacity="0.85"/>
<rect x="524.45" y="2186.82" width="1.1" height="17.82" fill="#00BF7D" fill-opacity="0.62"/>
<rect x="527.02" y="2186.82" width="1.1" height="17.82" fill="#00BF7D" fill-opacity="0.6"/>
<rect x="528.48" y="2186.82" width="1.1" height="17.82" fill="#00BF7D" fill-opacity="0.57"/>
<rect x="535.3" y="2186.82" width="2.7" height="17.82" fill="#00BF7D" fill-opacity="0.76"/>
<rect x="540.1" y="2186.82" width="1.2" height="17.82" fill="#00BF7D" fill-opacity="0.85"/>
<rect x="543.1" y="2186.82" width="1.2" height="17.82" fill="#00BF7D" fill-opacity="0.85"/>
<rect x="570.1" y="2186.82" width="1.2" height="17.82" fill="#00BF7D" fill-opacity="0.85"/>
<rect x="574.8" y="2186.82" width="1.2" height="17.82" fill="#00BF7D" fill-opacity="0.85"/>
<rect x="580.6" y="2186.82" width="1.2" height="17.82" fill="#00BF7D" fill-opacity="0.85"/>
<rect x="585.6" y="2186.82" width="1.2" height="17.82" fill="#00BF7D" fill-opacity="0.85"/>
<rect x="597.7" y="2186.82" width="1.2" height="17.82" fill="#00BF7D" fill-opacity="0.85"/>
<rect x="605.8" y="2186.82" width="1.2" height="17.82" fill="#00BF7D" fill-opacity="0.85"/>
<rect x="617.5" y="2186.82" width="1.2" height="17.82" fill="#00BF7D" fill-opacity="0.85"/>
<rect x="620.55" y="2186.82" width="1.1" height="17.82" fill="#00BF7D" fill-opacity="0.86"/>
<rect x="622.83" y="2186.82" width="1.1" height="17.82" fill="#00BF7D" fill-opacity="0.9"/>
<rect x="625.35" y="2186.82" width="1.1" height="17.82" fill="#00BF7D" fill-opacity="0.67"/>
<rect x="630.9" y="2186.82" width="1.2" height="17.82" fill="#00BF7D" fill-opacity="0.85"/>
<rect x="633.6" y="2186.82" width="1.2" height="17.82" fill="#00BF7D" fill-opacity="0.85"/>
<rect x="639" y="2186.82" width="1.2" height="17.82" fill="#00BF7D" fill-opacity="0.85"/>
<rect x="642.3" y="2186.82" width="1.8" height="17.82" fill="#00BF7D" fill-opacity="0.97"/>
<rect x="647.1" y="2186.82" width="1.2" height="17.82" fill="#00BF7D" fill-opacity="0.85"/>
<rect x="654.3" y="2186.82" width="1.2" height="17.82" fill="#00BF7D" fill-opacity="0.85"/>
<rect x="658.3" y="2186.82" width="1.2" height="17.82" fill="#00BF7D" fill-opacity="0.85"/>
<rect x="673.6" y="2186.82" width="1.2" height="17.82" fill="#00BF7D" fill-opacity="0.85"/>
<rect x="679" y="2186.82" width="1.2" height="17.82" fill="#00BF7D" fill-opacity="0.85"/>
<rect x="690.7" y="2186.82" width="1.2" height="17.82" fill="#00BF7D" fill-opacity="0.85"/>
<rect x="697.2" y="2186.82" width="2.7" height="17.82" fill="#00BF7D" fill-opacity="0.76"/>
<rect x="170.4" y="2204.64" width="3.1" height="17.82" fill="#F8766D" fill-opacity="0.92"/>
<rect x="171.48" y="2204.64" width="0.9" height="17.82" fill="#fff" fill-opacity="0.46"/>
<rect x="178.3" y="2204.64" width="1.2" height="17.82" fill="#F8766D" fill-opacity="0.85"/>
<rect x="182.5" y="2204.64" width="1.4" height="17.82" fill="#F8766D" fill-opacity="0.86"/>
<rect x="188.2" y="2204.64" width="1.2" height="17.82" fill="#F8766D" fill-opacity="0.85"/>
<rect x="201.1" y="2204.64" width="1.2" height="17.82" fill="#F8766D" fill-opacity="0.85"/>
<rect x="205.8" y="2204.64" width="1.2" height="17.82" fill="#F8766D" fill-opacity="0.85"/>
<rect x="225.4" y="2204.64" width="1.2" height="17.82" fill="#F8766D" fill-opacity="0.85"/>
<rect x="234.4" y="2204.64" width="1.2" height="17.82" fill="#F8766D" fill-opacity="0.85"/>
<rect x="313.4" y="2204.64" width="1.2" height="17.82" fill="#F8766D" fill-opacity="0.85"/>
<rect x="328" y="2204.64" width="1.2" height="17.82" fill="#F8766D" fill-opacity="0.85"/>
<rect x="331.3" y="2204.64" width="1.2" height="17.82" fill="#F8766D" fill-opacity="0.85"/>
<rect x="362.2" y="2204.64" width="1.2" height="17.82" fill="#F8766D" fill-opacity="0.85"/>
<rect x="367.8" y="2204.64" width="1.2" height="17.82" fill="#F8766D" fill-opacity="0.85"/>
<rect x="383.4" y="2204.64" width="1.2" height="17.82" fill="#F8766D" fill-opacity="0.85"/>
<rect x="428.1" y="2204.64" width="1.2" height="17.82" fill="#F8766D" fill-opacity="0.85"/>
<rect x="470.4" y="2204.64" width="1.2" height="17.82" fill="#F8766D" fill-opacity="0.85"/>
<rect x="492" y="2204.64" width="1.2" height="17.82" fill="#F8766D" fill-opacity="0.85"/>
<rect x="518.1" y="2204.64" width="1.2" height="17.82" fill="#F8766D" fill-opacity="0.85"/>
<rect x="574.3" y="2204.64" width="1.2" height="17.82" fill="#F8766D" fill-opacity="0.85"/>
<rect x="580" y="2204.64" width="1.2" height="17.82" fill="#F8766D" fill-opacity="0.85"/>
<rect x="586.3" y="2204.64" width="1.2" height="17.82" fill="#F8766D" fill-opacity="0.85"/>
<rect x="624.6" y="2204.64" width="1.2" height="17.82" fill="#F8766D" fill-opacity="0.85"/>
<rect x="633.6" y="2204.64" width="1.2" height="17.82" fill="#F8766D" fill-opacity="0.85"/>
<rect x="643.5" y="2204.64" width="1.2" height="17.82" fill="#F8766D" fill-opacity="0.85"/>
<rect x="658.3" y="2204.64" width="1.2" height="17.82" fill="#F8766D" fill-opacity="0.85"/>
<rect x="679.2" y="2204.64" width="1.2" height="17.82" fill="#F8766D" fill-opacity="0.85"/>
<rect x="690.7" y="2204.64" width="1.2" height="17.82" fill="#F8766D" fill-opacity="0.85"/>
<rect x="170.4" y="2222.46" width="1.7" height="17.82" fill="#00B0F6" fill-opacity="1"/>
<rect x="177.5" y="2222.46" width="1.4" height="17.82" fill="#00B0F6" fill-opacity="0.86"/>
<rect x="180.65" y="2222.46" width="1.1" height="17.82" fill="#00B0F6" fill-opacity="0.65"/>
<rect x="189.1" y="2222.46" width="1.2" height="17.82" fill="#00B0F6" fill-opacity="0.85"/>
<rect x="202.6" y="2222.46" width="3.8" height="17.82" fill="#00B0F6" fill-opacity="0.92"/>
<rect x="210.1" y="2222.46" width="1.2" height="17.82" fill="#00B0F6" fill-opacity="0.85"/>
<rect x="220" y="2222.46" width="1.2" height="17.82" fill="#00B0F6" fill-opacity="0.85"/>
<rect x="256.65" y="2222.46" width="1.1" height="17.82" fill="#00B0F6" fill-opacity="0.59"/>
<rect x="277.3" y="2222.46" width="1.2" height="17.82" fill="#00B0F6" fill-opacity="0.85"/>
<rect x="301.9" y="2222.46" width="1.2" height="17.82" fill="#00B0F6" fill-opacity="0.85"/>
<rect x="344.85" y="2222.46" width="1.1" height="17.82" fill="#00B0F6" fill-opacity="0.62"/>
<rect x="346.68" y="2222.46" width="1.1" height="17.82" fill="#00B0F6" fill-opacity="0.84"/>
<rect x="376.2" y="2222.46" width="1.2" height="17.82" fill="#00B0F6" fill-opacity="0.85"/>
<rect x="392.1" y="2222.46" width="1.2" height="17.82" fill="#00B0F6" fill-opacity="0.85"/>
<rect x="414.1" y="2222.46" width="1.2" height="17.82" fill="#00B0F6" fill-opacity="0.85"/>
<rect x="503.2" y="2222.46" width="1.2" height="17.82" fill="#00B0F6" fill-opacity="0.85"/>
<rect x="543.1" y="2222.46" width="1.2" height="17.82" fill="#00B0F6" fill-opacity="0.85"/>
<rect x="557.7" y="2222.46" width="1.2" height="17.82" fill="#00B0F6" fill-opacity="0.85"/>
<rect x="576.1" y="2222.46" width="1.2" height="17.82" fill="#00B0F6" fill-opacity="0.85"/>
<rect x="605.8" y="2222.46" width="1.2" height="17.82" fill="#00B0F6" fill-opacity="0.85"/>
<rect x="630.95" y="2222.46" width="1.1" height="17.82" fill="#00B0F6" fill-opacity="0.7"/>
<rect x="632.41" y="2222.46" width="1.1" height="17.82" fill="#00B0F6" fill-opacity="0.72"/>
<rect x="654.3" y="2222.46" width="1.2" height="17.82" fill="#00B0F6" fill-opacity="0.85"/>
<rect x="170.4" y="2240.28" width="8.5" height="17.82" fill="#E76BF3" fill-opacity="1"/>
<rect x="173.7" y="2240.28" width="0.62" height="17.82" fill="#fff" fill-opacity="0.45"/>
<rect x="178.35" y="2240.28" width="1.1" height="17.82" fill="#E76BF3" fill-opacity="0.56"/>
<rect x="180.24" y="2240.28" width="1.1" height="17.82" fill="#E76BF3" fill-opacity="0.83"/>
<rect x="182.56" y="2240.28" width="1.1" height="17.82" fill="#E76BF3" fill-opacity="0.56"/>
<rect x="186.5" y="2240.28" width="4.1" height="17.82" fill="#E76BF3" fill-opacity="0.86"/>
<rect x="187.66" y="2240.28" width="1.05" height="17.82" fill="#fff" fill-opacity="0.39"/>
<rect x="192.3" y="2240.28" width="1.2" height="17.82" fill="#E76BF3" fill-opacity="0.85"/>
<rect x="194.5" y="2240.28" width="1.2" height="17.82" fill="#E76BF3" fill-opacity="0.85"/>
<rect x="199.6" y="2240.28" width="5.4" height="17.82" fill="#E76BF3" fill-opacity="0.76"/>
<rect x="202.85" y="2240.28" width="0.7" height="17.82" fill="#fff" fill-opacity="0.4"/>
<rect x="209.5" y="2240.28" width="8.4" height="17.82" fill="#E76BF3" fill-opacity="0.81"/>
<rect x="212.04" y="2240.28" width="0.66" height="17.82" fill="#fff" fill-opacity="0.64"/>
<rect x="215.31" y="2240.28" width="0.67" height="17.82" fill="#fff" fill-opacity="0.25"/>
<rect x="222.05" y="2240.28" width="1.1" height="17.82" fill="#E76BF3" fill-opacity="0.87"/>
<rect x="224.21" y="2240.28" width="1.1" height="17.82" fill="#E76BF3" fill-opacity="0.88"/>
<rect x="227.85" y="2240.28" width="1.1" height="17.82" fill="#E76BF3" fill-opacity="0.63"/>
<rect x="229.82" y="2240.28" width="1.1" height="17.82" fill="#E76BF3" fill-opacity="0.88"/>
<rect x="235.05" y="2240.28" width="1.1" height="17.82" fill="#E76BF3" fill-opacity="0.69"/>
<rect x="236.75" y="2240.28" width="1.1" height="17.82" fill="#E76BF3" fill-opacity="0.7"/>
<rect x="238.74" y="2240.28" width="1.1" height="17.82" fill="#E76BF3" fill-opacity="0.87"/>
<rect x="253" y="2240.28" width="1.2" height="17.82" fill="#E76BF3" fill-opacity="0.85"/>
<rect x="261.1" y="2240.28" width="2.4" height="17.82" fill="#E76BF3" fill-opacity="0.76"/>
<rect x="283.6" y="2240.28" width="1.2" height="17.82" fill="#E76BF3" fill-opacity="0.85"/>
<rect x="302.8" y="2240.28" width="1.2" height="17.82" fill="#E76BF3" fill-opacity="0.85"/>
<rect x="308.8" y="2240.28" width="1.2" height="17.82" fill="#E76BF3" fill-opacity="0.85"/>
<rect x="316.9" y="2240.28" width="1.2" height="17.82" fill="#E76BF3" fill-opacity="0.85"/>
<rect x="325.9" y="2240.28" width="1.2" height="17.82" fill="#E76BF3" fill-opacity="0.85"/>
<rect x="339.9" y="2240.28" width="1.2" height="17.82" fill="#E76BF3" fill-opacity="0.85"/>
<rect x="358.3" y="2240.28" width="1.2" height="17.82" fill="#E76BF3" fill-opacity="0.85"/>
<rect x="418.9" y="2240.28" width="1.2" height="17.82" fill="#E76BF3" fill-opacity="0.85"/>
<rect x="438" y="2240.28" width="1.2" height="17.82" fill="#E76BF3" fill-opacity="0.85"/>
<rect x="485.2" y="2240.28" width="1.2" height="17.82" fill="#E76BF3" fill-opacity="0.85"/>
<rect x="539.7" y="2240.28" width="1.2" height="17.82" fill="#E76BF3" fill-opacity="0.85"/>
<rect x="567.1" y="2240.28" width="1.2" height="17.82" fill="#E76BF3" fill-opacity="0.85"/>
<line x1="169.4" y1="2169" x2="169.4" y2="2258.1" stroke="#4D4D4D" stroke-width="1.2"/>
<line x1="262.6" y1="2259.8" x2="262.6" y2="2438.6" stroke="#EBEBEB" stroke-width="1"/>
<line x1="356.3" y1="2259.8" x2="356.3" y2="2438.6" stroke="#EBEBEB" stroke-width="1"/>
<line x1="449.4" y1="2259.8" x2="449.4" y2="2438.6" stroke="#EBEBEB" stroke-width="1"/>
<line x1="542.6" y1="2259.8" x2="542.6" y2="2438.6" stroke="#EBEBEB" stroke-width="1"/>
<line x1="636.1" y1="2259.8" x2="636.1" y2="2438.6" stroke="#EBEBEB" stroke-width="1"/>
<polygon points="169.4,2333.9 169.6,2290 169.8,2295.9 171,2301 172.9,2305.7 173.95,2307.48 175,2308.8 176.1,2309.77 177.2,2310.53 178.3,2311.2 179.48,2311.86 180.65,2312.46 181.82,2313.01 183,2313.5 184.05,2313.9 185.1,2314.27 186.15,2314.61 187.2,2314.94 188.25,2315.27 189.3,2315.6 190.37,2315.95 191.44,2316.3 192.51,2316.65 193.58,2316.99 194.65,2317.34 195.72,2317.68 196.79,2318.02 197.86,2318.35 198.93,2318.68 200,2319 201.01,2319.3 202.02,2319.61 203.03,2319.92 204.04,2320.23 205.05,2320.54 206.05,2320.84 207.06,2321.13 208.07,2321.4 209.08,2321.65 210.09,2321.89 211.1,2322.1 212.14,2322.3 213.18,2322.49 214.22,2322.68 215.26,2322.86 216.3,2323.03 217.33,2323.2 218.37,2323.36 219.41,2323.52 220.45,2323.67 221.49,2323.82 222.53,2323.97 223.57,2324.11 224.61,2324.24 225.65,2324.38 226.69,2324.51 227.73,2324.64 228.77,2324.77 229.8,2324.89 230.84,2325.01 231.88,2325.14 232.92,2325.26 233.96,2325.38 235,2325.5 236.02,2325.62 237.04,2325.74 238.06,2325.85 239.07,2325.97 240.09,2326.08 241.11,2326.19 242.13,2326.3 243.15,2326.41 244.17,2326.52 245.19,2326.63 246.2,2326.73 247.22,2326.84 248.24,2326.94 249.26,2327.04 250.28,2327.14 251.3,2327.24 252.31,2327.33 253.33,2327.43 254.35,2327.52 255.37,2327.61 256.39,2327.7 257.41,2327.79 258.43,2327.87 259.44,2327.96 260.46,2328.04 261.48,2328.12 262.5,2328.2 263.51,2328.28 264.53,2328.35 265.54,2328.43 266.55,2328.5 267.57,2328.58 268.58,2328.65 269.59,2328.72 270.61,2328.79 271.62,2328.86 272.64,2328.93 273.65,2329 274.66,2329.07 275.68,2329.13 276.69,2329.2 277.7,2329.27 278.72,2329.33 279.73,2329.39 280.74,2329.46 281.76,2329.52 282.77,2329.58 283.78,2329.64 284.8,2329.7 285.81,2329.76 286.82,2329.82 287.84,2329.87 288.85,2329.93 289.86,2329.99 290.88,2330.04 291.89,2330.09 292.91,2330.15 293.92,2330.2 294.93,2330.25 295.95,2330.3 296.96,2330.35 297.97,2330.4 298.99,2330.45 300,2330.5 301.01,2330.55 302.01,2330.59 303.02,2330.64 304.03,2330.69 305.04,2330.73 306.04,2330.78 307.05,2330.82 308.06,2330.87 309.06,2330.91 310.07,2330.96 311.08,2331 312.09,2331.05 313.09,2331.09 314.1,2331.13 315.11,2331.18 316.11,2331.22 317.12,2331.26 318.13,2331.3 319.14,2331.34 320.14,2331.38 321.15,2331.42 322.16,2331.46 323.16,2331.5 324.17,2331.54 325.18,2331.58 326.19,2331.62 327.19,2331.66 328.2,2331.7 329.21,2331.73 330.21,2331.77 331.22,2331.81 332.23,2331.85 333.24,2331.88 334.24,2331.92 335.25,2331.95 336.26,2331.99 337.26,2332.02 338.27,2332.06 339.28,2332.09 340.29,2332.12 341.29,2332.16 342.3,2332.19 343.31,2332.22 344.31,2332.25 345.32,2332.28 346.33,2332.31 347.34,2332.34 348.34,2332.37 349.35,2332.4 350.36,2332.43 351.36,2332.46 352.37,2332.49 353.38,2332.52 354.39,2332.55 355.39,2332.57 356.4,2332.6 357.41,2332.63 358.43,2332.65 359.44,2332.68 360.46,2332.71 361.47,2332.73 362.48,2332.76 363.5,2332.78 364.51,2332.81 365.53,2332.83 366.54,2332.86 367.55,2332.88 368.57,2332.91 369.58,2332.93 370.6,2332.96 371.61,2332.98 372.62,2333 373.64,2333.03 374.65,2333.05 375.67,2333.07 376.68,2333.1 377.69,2333.12 378.71,2333.14 379.72,2333.16 380.73,2333.18 381.75,2333.2 382.76,2333.22 383.78,2333.24 384.79,2333.26 385.8,2333.28 386.82,2333.3 387.83,2333.32 388.85,2333.34 389.86,2333.35 390.87,2333.37 391.89,2333.39 392.9,2333.4 393.92,2333.42 394.93,2333.43 395.94,2333.45 396.96,2333.46 397.97,2333.47 398.99,2333.49 400,2333.5 401,2333.51 402,2333.52 403,2333.53 404,2333.54 405,2333.56 406,2333.57 407,2333.58 408,2333.59 409,2333.6 410,2333.6 411,2333.61 412,2333.62 413,2333.63 414,2333.64 415,2333.65 416,2333.66 417,2333.67 418,2333.67 419,2333.68 420,2333.69 421,2333.7 422,2333.7 423,2333.71 424,2333.72 425,2333.73 426,2333.73 427,2333.74 428,2333.75 429,2333.75 430,2333.76 431,2333.77 432,2333.78 433,2333.78 434,2333.79 435,2333.8 436,2333.8 437,2333.81 438,2333.82 439,2333.82 440,2333.83 441,2333.84 442,2333.85 443,2333.85 444,2333.86 445,2333.87 446,2333.88 447,2333.88 448,2333.89 449,2333.9 490,2334.8 491.01,2334.83 492.02,2334.86 493.02,2334.89 494.03,2334.92 495.04,2334.95 496.05,2334.98 497.05,2335.01 498.06,2335.04 499.07,2335.07 500.08,2335.11 501.08,2335.14 502.09,2335.17 503.1,2335.2 504.11,2335.23 505.12,2335.26 506.12,2335.29 507.13,2335.32 508.14,2335.35 509.15,2335.38 510.15,2335.41 511.16,2335.44 512.17,2335.47 513.18,2335.5 514.18,2335.53 515.19,2335.56 516.2,2335.59 517.21,2335.62 518.22,2335.65 519.22,2335.68 520.23,2335.71 521.24,2335.74 522.25,2335.77 523.25,2335.8 524.26,2335.83 525.27,2335.87 526.28,2335.9 527.28,2335.93 528.29,2335.96 529.3,2335.99 530.31,2336.02 531.32,2336.05 532.32,2336.08 533.33,2336.11 534.34,2336.15 535.35,2336.18 536.35,2336.21 537.36,2336.24 538.37,2336.27 539.38,2336.3 540.38,2336.34 541.39,2336.37 542.4,2336.4 543.41,2336.43 544.43,2336.46 545.44,2336.5 546.45,2336.53 547.46,2336.56 548.48,2336.59 549.49,2336.62 550.5,2336.66 551.51,2336.69 552.53,2336.72 553.54,2336.75 554.55,2336.78 555.57,2336.81 556.58,2336.84 557.59,2336.88 558.6,2336.91 559.62,2336.94 560.63,2336.97 561.64,2337 562.66,2337.03 563.67,2337.07 564.68,2337.1 565.69,2337.13 566.71,2337.16 567.72,2337.2 568.73,2337.23 569.74,2337.26 570.76,2337.3 571.77,2337.33 572.78,2337.36 573.8,2337.4 574.81,2337.43 575.82,2337.47 576.83,2337.5 577.85,2337.54 578.86,2337.57 579.87,2337.61 580.89,2337.65 581.9,2337.68 582.91,2337.72 583.92,2337.76 584.94,2337.8 585.95,2337.84 586.96,2337.88 587.97,2337.92 588.99,2337.96 590,2338 591,2338.04 592,2338.08 593,2338.12 594,2338.16 595,2338.2 596,2338.24 597,2338.28 598,2338.32 599,2338.35 600,2338.39 601,2338.43 602,2338.47 603,2338.51 604,2338.55 605,2338.59 606,2338.63 607,2338.67 608,2338.71 609,2338.76 610,2338.8 611,2338.84 612,2338.89 613,2338.93 614,2338.98 615,2339.03 616,2339.08 617,2339.13 618,2339.18 619,2339.23 620,2339.28 621,2339.34 622,2339.4 623,2339.46 624,2339.52 625,2339.58 626,2339.64 627,2339.71 628,2339.78 629,2339.85 630,2339.92 631,2339.99 632,2340.07 633,2340.15 634,2340.23 635,2340.31 636,2340.4 637,2340.49 638,2340.6 639,2340.73 640,2340.86 641,2341.01 642,2341.17 643,2341.34 644,2341.52 645,2341.7 646,2341.89 647,2342.09 648,2342.3 649,2342.51 650,2342.72 651,2342.93 652,2343.15 653,2343.37 654,2343.58 655,2343.8 656.03,2344.03 657.06,2344.26 658.09,2344.5 659.12,2344.74 660.15,2344.99 661.18,2345.25 662.21,2345.51 663.24,2345.78 664.26,2346.06 665.29,2346.34 666.32,2346.63 667.35,2346.93 668.38,2347.23 669.41,2347.54 670.44,2347.85 671.47,2348.17 672.5,2348.5 673.55,2348.84 674.6,2349.18 675.65,2349.54 676.7,2349.9 677.75,2350.28 678.8,2350.68 679.85,2351.1 680.9,2351.54 681.95,2352 683,2352.5 684.05,2353.03 685.1,2353.61 686.15,2354.23 687.2,2354.89 688.25,2355.6 689.3,2356.36 690.35,2357.16 691.4,2358 692.52,2358.97 693.64,2360.03 694.76,2361.21 695.88,2362.53 697,2364 698.04,2365.45 699.08,2367.02 700.12,2368.89 701.16,2371.23 702.2,2374.2 704,2385 704.9,2401.1 705.4,2415 705.7,2429.5 705.7,2333.9" fill="#BEBEBE" stroke="none"/>
<line x1="169.4" y1="2333.9" x2="705.7" y2="2333.9" stroke="#C4C4C4" stroke-width="0.9"/>
<line x1="169.4" y1="2259.8" x2="169.4" y2="2438.6" stroke="#4D4D4D" stroke-width="1.2"/>
<line x1="168.8" y1="2438.6" x2="705.8" y2="2438.6" stroke="#4D4D4D" stroke-width="1.2"/>
<line x1="167.4" y1="2284.5" x2="169.4" y2="2284.5" stroke="#4D4D4D" stroke-width="1.1"/>
<text x="166" y="2292.9" font-size="23.9" fill="#4D4D4D" text-anchor="end">1</text>
<line x1="167.4" y1="2333.7" x2="169.4" y2="2333.7" stroke="#4D4D4D" stroke-width="1.1"/>
<text x="166" y="2342.1" font-size="23.9" fill="#4D4D4D" text-anchor="end">0</text>
<line x1="167.4" y1="2383.3" x2="169.4" y2="2383.3" stroke="#4D4D4D" stroke-width="1.1"/>
<text x="166" y="2391.7" font-size="23.9" fill="#4D4D4D" text-anchor="end">−1</text>
<line x1="167.4" y1="2433.1" x2="169.4" y2="2433.1" stroke="#4D4D4D" stroke-width="1.1"/>
<text x="166" y="2441.5" font-size="23.9" fill="#4D4D4D" text-anchor="end">−2</text>
<line x1="356.3" y1="2438.6" x2="356.3" y2="2440.6" stroke="#4D4D4D" stroke-width="1.1"/>
<text x="347.5" y="2463.8" font-size="23.9" fill="#4D4D4D" text-anchor="middle">5000</text>
<line x1="542.6" y1="2438.6" x2="542.6" y2="2440.6" stroke="#4D4D4D" stroke-width="1.1"/>
<text x="540.2" y="2463.8" font-size="23.9" fill="#4D4D4D" text-anchor="middle">10000</text>
<text x="319.64" y="2492.1" font-size="23.9" fill="#000" text-anchor="start">Rank in Ordered Dataset</text>
<text x="0" y="0" font-size="23.9" fill="#000" text-anchor="middle" transform="translate(116,2046.8) rotate(-90)">Running Enrichment Score</text>
<text x="0" y="0" font-size="23.9" fill="#000" text-anchor="middle" transform="translate(118.2,2351.1) rotate(-90)">Ranked List Metric</text>
</g>
<g>
<rect x="1370" y="171.1" width="95.1" height="37.6" fill="#CCCCCC"/>
<rect x="1466.3" y="171.1" width="132.3" height="37.6" fill="#CCCCCC"/>
<rect x="1370" y="209.9" width="95.1" height="37.6" fill="#F2F2F2"/>
<rect x="1466.3" y="209.9" width="132.3" height="37.6" fill="#F2F2F2"/>
<rect x="1370" y="248.7" width="95.1" height="37.6" fill="#E5E5E5"/>
<rect x="1466.3" y="248.7" width="132.3" height="37.6" fill="#E5E5E5"/>
<rect x="1370" y="287.5" width="95.1" height="37.6" fill="#F2F2F2"/>
<rect x="1466.3" y="287.5" width="132.3" height="37.6" fill="#F2F2F2"/>
<rect x="1370" y="326.3" width="95.1" height="37.6" fill="#E5E5E5"/>
<rect x="1466.3" y="326.3" width="132.3" height="37.6" fill="#E5E5E5"/>
<rect x="1370" y="365.1" width="95.1" height="37.6" fill="#F2F2F2"/>
<rect x="1466.3" y="365.1" width="132.3" height="37.6" fill="#F2F2F2"/>
<text x="1417.55" y="198.4" font-size="23.5" fill="#000" text-anchor="middle" font-weight="bold">pvalue</text>
<text x="1532.45" y="198.4" font-size="23.5" fill="#000" text-anchor="middle" font-weight="bold">p.adjust</text>
<text x="1338.5" y="237.5" font-size="23.5" fill="#F8766D" text-anchor="end">GOCC_RIBOSOMAL_SUBUNIT</text>
<text x="1417.55" y="237.7" font-size="23.5" fill="#000" text-anchor="middle">1e−10</text>
<text x="1532.45" y="237.7" font-size="23.5" fill="#000" text-anchor="middle">2.518e−08</text>
<text x="1338.5" y="276.3" font-size="23.5" fill="#A3A500" text-anchor="end">GOCC_RIBOSOME</text>
<text x="1417.55" y="276.5" font-size="23.5" fill="#000" text-anchor="middle">1e−10</text>
<text x="1532.45" y="276.5" font-size="23.5" fill="#000" text-anchor="middle">2.518e−08</text>
<text x="1338.5" y="315.1" font-size="23.5" fill="#00BF7D" text-anchor="end">GOCC_SPECIFIC_GRANULE</text>
<text x="1417.55" y="315.3" font-size="23.5" fill="#000" text-anchor="middle">1e−10</text>
<text x="1532.45" y="315.3" font-size="23.5" fill="#000" text-anchor="middle">2.518e−08</text>
<text x="1338.5" y="353.9" font-size="23.5" fill="#00B0F6" text-anchor="end">GOCC_TERTIARY_GRANULE</text>
<text x="1417.55" y="354.1" font-size="23.5" fill="#000" text-anchor="middle">1e−10</text>
<text x="1532.45" y="354.1" font-size="23.5" fill="#000" text-anchor="middle">2.518e−08</text>
<text x="1338.5" y="392.7" font-size="23.5" fill="#E76BF3" text-anchor="end">GOMF_STRUCTURAL_CONSTITUENT_OF_RIBOSOME</text>
<text x="1417.55" y="392.9" font-size="23.5" fill="#000" text-anchor="middle">1e−10</text>
<text x="1532.45" y="392.9" font-size="23.5" fill="#000" text-anchor="middle">2.518e−08</text>
</g>
<g>
<rect x="1365.8" y="815.8" width="130" height="37.4" fill="#CCCCCC"/>
<rect x="1497" y="815.8" width="126.9" height="37.4" fill="#CCCCCC"/>
<rect x="1365.8" y="854.4" width="130" height="37.4" fill="#F2F2F2"/>
<rect x="1497" y="854.4" width="126.9" height="37.4" fill="#F2F2F2"/>
<rect x="1365.8" y="893" width="130" height="37.4" fill="#E5E5E5"/>
<rect x="1497" y="893" width="126.9" height="37.4" fill="#E5E5E5"/>
<rect x="1365.8" y="931.6" width="130" height="37.4" fill="#F2F2F2"/>
<rect x="1497" y="931.6" width="126.9" height="37.4" fill="#F2F2F2"/>
<rect x="1365.8" y="970.2" width="130" height="37.4" fill="#E5E5E5"/>
<rect x="1497" y="970.2" width="126.9" height="37.4" fill="#E5E5E5"/>
<rect x="1365.8" y="1008.8" width="130" height="37.4" fill="#F2F2F2"/>
<rect x="1497" y="1008.8" width="126.9" height="37.4" fill="#F2F2F2"/>
<text x="1430.8" y="843" font-size="23.3" fill="#000" text-anchor="middle" font-weight="bold">pvalue</text>
<text x="1560.45" y="843" font-size="23.3" fill="#000" text-anchor="middle" font-weight="bold">p.adjust</text>
<text x="1350.3" y="881.9" font-size="23.3" fill="#F8766D" text-anchor="end">KEGG_ALLOGRAFT_REJECTION</text>
<text x="1430.8" y="882.1" font-size="23.3" fill="#000" text-anchor="middle">5.619e−07</text>
<text x="1560.45" y="882.1" font-size="23.3" fill="#000" text-anchor="middle">2.571e−05</text>
<text x="1350.3" y="920.5" font-size="23.3" fill="#A3A500" text-anchor="end">KEGG_AUTOIMMUNE_THYROID_DISEASE</text>
<text x="1430.8" y="920.7" font-size="23.3" fill="#000" text-anchor="middle">3.017e−07</text>
<text x="1560.45" y="920.7" font-size="23.3" fill="#000" text-anchor="middle">2.449e−05</text>
<text x="1350.3" y="959.1" font-size="23.3" fill="#00BF7D" text-anchor="end">KEGG_COMPLEMENT_AND_COAGULATION_CASCADES</text>
<text x="1430.8" y="959.3" font-size="23.3" fill="#000" text-anchor="middle">4.015e−07</text>
<text x="1560.45" y="959.3" font-size="23.3" fill="#000" text-anchor="middle">2.449e−05</text>
<text x="1350.3" y="997.7" font-size="23.3" fill="#00B0F6" text-anchor="end">KEGG_PRIMARY_IMMUNODEFICIENCY</text>
<text x="1430.8" y="997.9" font-size="23.3" fill="#000" text-anchor="middle">1.831e−06</text>
<text x="1560.45" y="997.9" font-size="23.3" fill="#000" text-anchor="middle">6.701e−05</text>
<text x="1350.3" y="1036.3" font-size="23.3" fill="#E76BF3" text-anchor="end">KEGG_RIBOSOME</text>
<text x="1430.8" y="1036.5" font-size="23.3" fill="#000" text-anchor="middle">1.000e−10</text>
<text x="1560.45" y="1036.5" font-size="23.3" fill="#000" text-anchor="middle">1.830e−08</text>
</g>
<g>
<rect x="1397.3" y="1441" width="95.6" height="37.95" fill="#CCCCCC"/>
<rect x="1494.1" y="1441" width="134.2" height="37.95" fill="#CCCCCC"/>
<rect x="1397.3" y="1480.15" width="95.6" height="37.95" fill="#F2F2F2"/>
<rect x="1494.1" y="1480.15" width="134.2" height="37.95" fill="#F2F2F2"/>
<rect x="1397.3" y="1519.3" width="95.6" height="37.95" fill="#E5E5E5"/>
<rect x="1494.1" y="1519.3" width="134.2" height="37.95" fill="#E5E5E5"/>
<rect x="1397.3" y="1558.45" width="95.6" height="37.95" fill="#F2F2F2"/>
<rect x="1494.1" y="1558.45" width="134.2" height="37.95" fill="#F2F2F2"/>
<rect x="1397.3" y="1597.6" width="95.6" height="37.95" fill="#E5E5E5"/>
<rect x="1494.1" y="1597.6" width="134.2" height="37.95" fill="#E5E5E5"/>
<rect x="1397.3" y="1636.75" width="95.6" height="37.95" fill="#F2F2F2"/>
<rect x="1494.1" y="1636.75" width="134.2" height="37.95" fill="#F2F2F2"/>
<text x="1445.1" y="1468.47" font-size="23.7" fill="#000" text-anchor="middle" font-weight="bold">pvalue</text>
<text x="1561.2" y="1468.47" font-size="23.7" fill="#000" text-anchor="middle" font-weight="bold">p.adjust</text>
<text x="1365" y="1507.92" font-size="23.7" fill="#F8766D" text-anchor="end">GOCC_CYTOSOLIC_RIBOSOME</text>
<text x="1445.1" y="1508.12" font-size="23.7" fill="#000" text-anchor="middle">1e−10</text>
<text x="1561.2" y="1508.12" font-size="23.7" fill="#000" text-anchor="middle">2.518e−08</text>
<text x="1365" y="1547.07" font-size="23.7" fill="#A3A500" text-anchor="end">GOCC_RIBOSOMAL_SUBUNIT</text>
<text x="1445.1" y="1547.27" font-size="23.7" fill="#000" text-anchor="middle">1e−10</text>
<text x="1561.2" y="1547.27" font-size="23.7" fill="#000" text-anchor="middle">2.518e−08</text>
<text x="1365" y="1586.22" font-size="23.7" fill="#00BF7D" text-anchor="end">GOCC_RIBOSOME</text>
<text x="1445.1" y="1586.42" font-size="23.7" fill="#000" text-anchor="middle">1e−10</text>
<text x="1561.2" y="1586.42" font-size="23.7" fill="#000" text-anchor="middle">2.518e−08</text>
<text x="1365" y="1625.37" font-size="23.7" fill="#00B0F6" text-anchor="end">GOCC_SPECIFIC_GRANULE</text>
<text x="1445.1" y="1625.57" font-size="23.7" fill="#000" text-anchor="middle">1e−10</text>
<text x="1561.2" y="1625.57" font-size="23.7" fill="#000" text-anchor="middle">2.518e−08</text>
<text x="1365" y="1664.52" font-size="23.7" fill="#E76BF3" text-anchor="end">GOMF_STRUCTURAL_CONSTITUENT_OF_RIBOSOME</text>
<text x="1445.1" y="1664.72" font-size="23.7" fill="#000" text-anchor="middle">1e−10</text>
<text x="1561.2" y="1664.72" font-size="23.7" fill="#000" text-anchor="middle">2.518e−08</text>
</g>
<g>
<rect x="1330.2" y="2060" width="134.7" height="38.6" fill="#CCCCCC"/>
<rect x="1466.1" y="2060" width="135.5" height="38.6" fill="#CCCCCC"/>
<rect x="1330.2" y="2099.8" width="134.7" height="38.6" fill="#F2F2F2"/>
<rect x="1466.1" y="2099.8" width="135.5" height="38.6" fill="#F2F2F2"/>
<rect x="1330.2" y="2139.6" width="134.7" height="38.6" fill="#E5E5E5"/>
<rect x="1466.1" y="2139.6" width="135.5" height="38.6" fill="#E5E5E5"/>
<rect x="1330.2" y="2179.4" width="134.7" height="38.6" fill="#F2F2F2"/>
<rect x="1466.1" y="2179.4" width="135.5" height="38.6" fill="#F2F2F2"/>
<rect x="1330.2" y="2219.2" width="134.7" height="38.6" fill="#E5E5E5"/>
<rect x="1466.1" y="2219.2" width="135.5" height="38.6" fill="#E5E5E5"/>
<rect x="1330.2" y="2259" width="134.7" height="38.6" fill="#F2F2F2"/>
<rect x="1466.1" y="2259" width="135.5" height="38.6" fill="#F2F2F2"/>
<text x="1397.55" y="2087.8" font-size="23.95" fill="#000" text-anchor="middle" font-weight="bold">pvalue</text>
<text x="1533.85" y="2087.8" font-size="23.95" fill="#000" text-anchor="middle" font-weight="bold">p.adjust</text>
<text x="1302.2" y="2127.9" font-size="23.95" fill="#F8766D" text-anchor="end">KEGG_ALLOGRAFT_REJECTION</text>
<text x="1397.55" y="2128.1" font-size="23.95" fill="#000" text-anchor="middle">7.013e−06</text>
<text x="1533.85" y="2128.1" font-size="23.95" fill="#000" text-anchor="middle">3.306e−04</text>
<text x="1302.2" y="2167.7" font-size="23.95" fill="#A3A500" text-anchor="end">KEGG_AUTOIMMUNE_THYROID_DISEASE</text>
<text x="1397.55" y="2167.9" font-size="23.95" fill="#000" text-anchor="middle">1.884e−05</text>
<text x="1533.85" y="2167.9" font-size="23.95" fill="#000" text-anchor="middle">5.928e−04</text>
<text x="1302.2" y="2207.5" font-size="23.95" fill="#00BF7D" text-anchor="end">KEGG_CELL_ADHESION_MOLECULES_CAMS</text>
<text x="1397.55" y="2207.7" font-size="23.95" fill="#000" text-anchor="middle">7.227e−06</text>
<text x="1533.85" y="2207.7" font-size="23.95" fill="#000" text-anchor="middle">3.306e−04</text>
<text x="1302.2" y="2247.3" font-size="23.95" fill="#00B0F6" text-anchor="end">KEGG_PRIMARY_IMMUNODEFICIENCY</text>
<text x="1397.55" y="2247.5" font-size="23.95" fill="#000" text-anchor="middle">8.539e−07</text>
<text x="1533.85" y="2247.5" font-size="23.95" fill="#000" text-anchor="middle">7.813e−05</text>
<text x="1302.2" y="2287.1" font-size="23.95" fill="#E76BF3" text-anchor="end">KEGG_RIBOSOME</text>
<text x="1397.55" y="2287.3" font-size="23.95" fill="#000" text-anchor="middle">1.000e−10</text>
<text x="1533.85" y="2287.3" font-size="23.95" fill="#000" text-anchor="middle">1.830e−08</text>
</g>
</svg></body></html>
